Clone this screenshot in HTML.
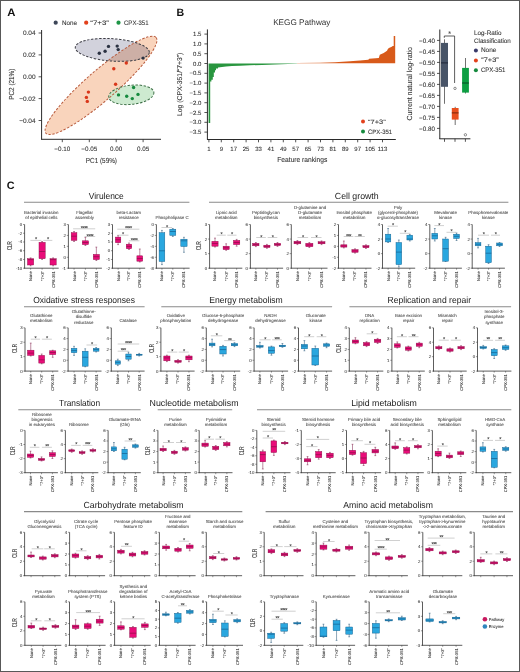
<!DOCTYPE html>
<html><head><meta charset="utf-8"><style>
html,body{margin:0;padding:0;background:#fff;}
svg{display:block;font-family:"Liberation Sans", sans-serif;will-change:transform;text-rendering:geometricPrecision;}
</style></head><body>
<svg width="520" height="672" viewBox="0 0 520 672">
<rect x="0" y="0" width="520" height="672" fill="#fff"/>
<text x="7.20" y="15.80" font-size="10.8" text-anchor="start" fill="#111" font-weight="bold" textLength="8.2" lengthAdjust="spacingAndGlyphs">A</text>
<circle cx="55.70" cy="22.70" r="2.1" fill="#3d4658"/>
<text x="62.00" y="25.00" font-size="6.5" text-anchor="start" fill="#333" stroke="#333" stroke-width="0.08" textLength="15" lengthAdjust="spacingAndGlyphs">None</text>
<circle cx="86.20" cy="22.70" r="2.1" fill="#e2411c"/>
<text x="90.30" y="25.00" font-size="6.5" text-anchor="start" fill="#333" stroke="#333" stroke-width="0.08" textLength="18.7" lengthAdjust="spacingAndGlyphs">“7+3”</text>
<circle cx="118.50" cy="22.70" r="2.1" fill="#1e9546"/>
<text x="124.00" y="25.00" font-size="6.5" text-anchor="start" fill="#333" stroke="#333" stroke-width="0.08" textLength="24.5" lengthAdjust="spacingAndGlyphs">CPX-351</text>
<ellipse cx="101" cy="85.4" rx="73" ry="14.8" transform="rotate(-41 101 85.4)" fill="#f9d4bc"/>
<ellipse cx="112.3" cy="49.9" rx="37.1" ry="11.2" transform="rotate(4 112.3 49.9)" fill="#1e1e50" fill-opacity="0.2"/>
<ellipse cx="131.3" cy="94.8" rx="22.7" ry="9.6" transform="rotate(-6 131.3 94.8)" fill="#c4e6c8" fill-opacity="0.85"/>
<ellipse cx="101" cy="85.4" rx="73" ry="14.8" transform="rotate(-41 101 85.4)" fill="none" stroke="#b85a3c" stroke-width="1.0" stroke-dasharray="2.4 1.6"/>
<ellipse cx="112.3" cy="49.9" rx="37.1" ry="11.2" transform="rotate(4 112.3 49.9)" fill="none" stroke="#3c3c44" stroke-width="1.0" stroke-dasharray="2.4 1.6"/>
<ellipse cx="131.3" cy="94.8" rx="22.7" ry="9.6" transform="rotate(-6 131.3 94.8)" fill="none" stroke="#3f7048" stroke-width="1.0" stroke-dasharray="2.4 1.6"/>
<circle cx="99.30" cy="53.30" r="1.7" fill="#2b3242"/>
<circle cx="105.10" cy="51.30" r="1.7" fill="#2b3242"/>
<circle cx="108.50" cy="46.40" r="1.7" fill="#2b3242"/>
<circle cx="117.20" cy="46.10" r="1.7" fill="#2b3242"/>
<circle cx="118.20" cy="49.60" r="1.7" fill="#2b3242"/>
<circle cx="143.10" cy="58.10" r="1.7" fill="#2b3242"/>
<circle cx="126.30" cy="63.00" r="1.7" fill="#d9361a"/>
<circle cx="113.80" cy="68.70" r="1.7" fill="#d9361a"/>
<circle cx="115.60" cy="84.30" r="1.7" fill="#d9361a"/>
<circle cx="88.40" cy="92.10" r="1.7" fill="#d9361a"/>
<circle cx="86.40" cy="97.40" r="1.7" fill="#d9361a"/>
<circle cx="87.30" cy="101.40" r="1.7" fill="#d9361a"/>
<circle cx="133.60" cy="87.50" r="1.7" fill="#168a3e"/>
<circle cx="118.50" cy="94.90" r="1.7" fill="#168a3e"/>
<circle cx="126.70" cy="96.20" r="1.7" fill="#168a3e"/>
<circle cx="132.30" cy="98.60" r="1.7" fill="#168a3e"/>
<circle cx="138.00" cy="94.40" r="1.7" fill="#168a3e"/>
<line x1="41.60" y1="30.00" x2="41.60" y2="139.50" stroke="#2a2a2a" stroke-width="1.0"/>
<line x1="41.10" y1="139.30" x2="161.00" y2="139.30" stroke="#2a2a2a" stroke-width="1.0"/>
<line x1="38.60" y1="33.00" x2="41.60" y2="33.00" stroke="#2a2a2a" stroke-width="0.8"/>
<text x="35.60" y="35.30" font-size="6.5" text-anchor="end" fill="#333" stroke="#333" stroke-width="0.08">0.04</text>
<line x1="38.60" y1="54.90" x2="41.60" y2="54.90" stroke="#2a2a2a" stroke-width="0.8"/>
<text x="35.60" y="57.20" font-size="6.5" text-anchor="end" fill="#333" stroke="#333" stroke-width="0.08">0.02</text>
<line x1="38.60" y1="76.80" x2="41.60" y2="76.80" stroke="#2a2a2a" stroke-width="0.8"/>
<text x="35.60" y="79.10" font-size="6.5" text-anchor="end" fill="#333" stroke="#333" stroke-width="0.08">0.00</text>
<line x1="38.60" y1="98.60" x2="41.60" y2="98.60" stroke="#2a2a2a" stroke-width="0.8"/>
<text x="35.60" y="100.90" font-size="6.5" text-anchor="end" fill="#333" stroke="#333" stroke-width="0.08">−0.02</text>
<line x1="38.60" y1="120.50" x2="41.60" y2="120.50" stroke="#2a2a2a" stroke-width="0.8"/>
<text x="35.60" y="122.80" font-size="6.5" text-anchor="end" fill="#333" stroke="#333" stroke-width="0.08">−0.04</text>
<line x1="62.30" y1="139.30" x2="62.30" y2="142.20" stroke="#2a2a2a" stroke-width="0.8"/>
<text x="62.30" y="151.00" font-size="6.3" text-anchor="middle" fill="#333" stroke="#333" stroke-width="0.08">−0.10</text>
<line x1="89.30" y1="139.30" x2="89.30" y2="142.20" stroke="#2a2a2a" stroke-width="0.8"/>
<text x="89.30" y="151.00" font-size="6.3" text-anchor="middle" fill="#333" stroke="#333" stroke-width="0.08">−0.05</text>
<line x1="116.20" y1="139.30" x2="116.20" y2="142.20" stroke="#2a2a2a" stroke-width="0.8"/>
<text x="116.20" y="151.00" font-size="6.3" text-anchor="middle" fill="#333" stroke="#333" stroke-width="0.08">0.00</text>
<line x1="143.10" y1="139.30" x2="143.10" y2="142.20" stroke="#2a2a2a" stroke-width="0.8"/>
<text x="143.10" y="151.00" font-size="6.3" text-anchor="middle" fill="#333" stroke="#333" stroke-width="0.08">0.05</text>
<text x="101.40" y="162.60" font-size="7.3" text-anchor="middle" fill="#333" stroke="#333" stroke-width="0.08" textLength="31.1" lengthAdjust="spacingAndGlyphs">PC1 (59%)</text>
<text x="13.60" y="84.20" font-size="7.3" text-anchor="middle" fill="#333" stroke="#333" stroke-width="0.08" transform="rotate(-90 13.6 84.2)" textLength="31.2" lengthAdjust="spacingAndGlyphs">PC2 (21%)</text>
<text x="176.60" y="15.90" font-size="10.6" text-anchor="start" fill="#111" font-weight="bold">B</text>
<text x="301.80" y="24.60" font-size="8.2" text-anchor="middle" fill="#333">KEGG Pathway</text>
<polygon points="208.4,63.5 208.6,63.6 208.6,123.0 210.2,123.0 210.2,81.5 211.4,81.5 211.4,79.8 212.8,79.8 212.8,77.0 213.8,77.0 213.8,72.5 215.0,72.5 215.0,70.2 216.0,70.2 216.0,68.5 218.0,68.5 218.0,67.6 222.0,67.0 226.0,66.5 232.0,66.1 240.0,65.7 250.0,65.3 262.0,64.9 275.0,64.5 288.0,64.1 297.0,63.8 297.0,63.5" fill="#29963f"/>
<polygon points="297.0,63.2 297.0,63.0 320.0,62.7 335.0,62.3 350.0,61.3 360.0,60.6 368.3,59.8 369.2,58.7 378.8,57.9 379.8,54.8 383.7,53.1 387.0,50.7 388.0,48.8 389.4,47.8 391.3,47.1 392.8,45.9 393.7,45.9 393.7,36.0 395.2,36.0 395.2,63.2" fill="#d85a1a"/>
<line x1="207.40" y1="29.40" x2="207.40" y2="139.80" stroke="#2a2a2a" stroke-width="1.0"/>
<line x1="207.00" y1="139.50" x2="395.80" y2="139.50" stroke="#2a2a2a" stroke-width="1.0"/>
<line x1="204.40" y1="34.10" x2="207.40" y2="34.10" stroke="#2a2a2a" stroke-width="0.8"/>
<text x="201.40" y="36.20" font-size="6.0" text-anchor="end" fill="#333" stroke="#333" stroke-width="0.08">1.5</text>
<line x1="204.40" y1="43.90" x2="207.40" y2="43.90" stroke="#2a2a2a" stroke-width="0.8"/>
<text x="201.40" y="46.00" font-size="6.0" text-anchor="end" fill="#333" stroke="#333" stroke-width="0.08">1.0</text>
<line x1="204.40" y1="53.70" x2="207.40" y2="53.70" stroke="#2a2a2a" stroke-width="0.8"/>
<text x="201.40" y="55.80" font-size="6.0" text-anchor="end" fill="#333" stroke="#333" stroke-width="0.08">0.5</text>
<line x1="204.40" y1="63.50" x2="207.40" y2="63.50" stroke="#2a2a2a" stroke-width="0.8"/>
<text x="201.40" y="65.60" font-size="6.0" text-anchor="end" fill="#333" stroke="#333" stroke-width="0.08">0.0</text>
<line x1="204.40" y1="73.30" x2="207.40" y2="73.30" stroke="#2a2a2a" stroke-width="0.8"/>
<text x="201.40" y="75.40" font-size="6.0" text-anchor="end" fill="#333" stroke="#333" stroke-width="0.08">−0.5</text>
<line x1="204.40" y1="83.10" x2="207.40" y2="83.10" stroke="#2a2a2a" stroke-width="0.8"/>
<text x="201.40" y="85.20" font-size="6.0" text-anchor="end" fill="#333" stroke="#333" stroke-width="0.08">−1.0</text>
<line x1="204.40" y1="92.90" x2="207.40" y2="92.90" stroke="#2a2a2a" stroke-width="0.8"/>
<text x="201.40" y="95.00" font-size="6.0" text-anchor="end" fill="#333" stroke="#333" stroke-width="0.08">−1.5</text>
<line x1="204.40" y1="102.70" x2="207.40" y2="102.70" stroke="#2a2a2a" stroke-width="0.8"/>
<text x="201.40" y="104.80" font-size="6.0" text-anchor="end" fill="#333" stroke="#333" stroke-width="0.08">−2.0</text>
<line x1="204.40" y1="112.50" x2="207.40" y2="112.50" stroke="#2a2a2a" stroke-width="0.8"/>
<text x="201.40" y="114.60" font-size="6.0" text-anchor="end" fill="#333" stroke="#333" stroke-width="0.08">−2.5</text>
<line x1="204.40" y1="122.30" x2="207.40" y2="122.30" stroke="#2a2a2a" stroke-width="0.8"/>
<text x="201.40" y="124.40" font-size="6.0" text-anchor="end" fill="#333" stroke="#333" stroke-width="0.08">−3.0</text>
<line x1="204.40" y1="132.10" x2="207.40" y2="132.10" stroke="#2a2a2a" stroke-width="0.8"/>
<text x="201.40" y="134.20" font-size="6.0" text-anchor="end" fill="#333" stroke="#333" stroke-width="0.08">−3.5</text>
<line x1="208.90" y1="139.50" x2="208.90" y2="142.30" stroke="#2a2a2a" stroke-width="0.8"/>
<text x="208.90" y="150.90" font-size="6.0" text-anchor="middle" fill="#333" stroke="#333" stroke-width="0.08">1</text>
<line x1="221.30" y1="139.50" x2="221.30" y2="142.30" stroke="#2a2a2a" stroke-width="0.8"/>
<text x="221.30" y="150.90" font-size="6.0" text-anchor="middle" fill="#333" stroke="#333" stroke-width="0.08">9</text>
<line x1="233.70" y1="139.50" x2="233.70" y2="142.30" stroke="#2a2a2a" stroke-width="0.8"/>
<text x="233.70" y="150.90" font-size="6.0" text-anchor="middle" fill="#333" stroke="#333" stroke-width="0.08">17</text>
<line x1="246.10" y1="139.50" x2="246.10" y2="142.30" stroke="#2a2a2a" stroke-width="0.8"/>
<text x="246.10" y="150.90" font-size="6.0" text-anchor="middle" fill="#333" stroke="#333" stroke-width="0.08">25</text>
<line x1="258.50" y1="139.50" x2="258.50" y2="142.30" stroke="#2a2a2a" stroke-width="0.8"/>
<text x="258.50" y="150.90" font-size="6.0" text-anchor="middle" fill="#333" stroke="#333" stroke-width="0.08">33</text>
<line x1="270.90" y1="139.50" x2="270.90" y2="142.30" stroke="#2a2a2a" stroke-width="0.8"/>
<text x="270.90" y="150.90" font-size="6.0" text-anchor="middle" fill="#333" stroke="#333" stroke-width="0.08">41</text>
<line x1="283.30" y1="139.50" x2="283.30" y2="142.30" stroke="#2a2a2a" stroke-width="0.8"/>
<text x="283.30" y="150.90" font-size="6.0" text-anchor="middle" fill="#333" stroke="#333" stroke-width="0.08">49</text>
<line x1="295.70" y1="139.50" x2="295.70" y2="142.30" stroke="#2a2a2a" stroke-width="0.8"/>
<text x="295.70" y="150.90" font-size="6.0" text-anchor="middle" fill="#333" stroke="#333" stroke-width="0.08">57</text>
<line x1="308.10" y1="139.50" x2="308.10" y2="142.30" stroke="#2a2a2a" stroke-width="0.8"/>
<text x="308.10" y="150.90" font-size="6.0" text-anchor="middle" fill="#333" stroke="#333" stroke-width="0.08">65</text>
<line x1="320.50" y1="139.50" x2="320.50" y2="142.30" stroke="#2a2a2a" stroke-width="0.8"/>
<text x="320.50" y="150.90" font-size="6.0" text-anchor="middle" fill="#333" stroke="#333" stroke-width="0.08">73</text>
<line x1="332.90" y1="139.50" x2="332.90" y2="142.30" stroke="#2a2a2a" stroke-width="0.8"/>
<text x="332.90" y="150.90" font-size="6.0" text-anchor="middle" fill="#333" stroke="#333" stroke-width="0.08">81</text>
<line x1="345.30" y1="139.50" x2="345.30" y2="142.30" stroke="#2a2a2a" stroke-width="0.8"/>
<text x="345.30" y="150.90" font-size="6.0" text-anchor="middle" fill="#333" stroke="#333" stroke-width="0.08">89</text>
<line x1="357.70" y1="139.50" x2="357.70" y2="142.30" stroke="#2a2a2a" stroke-width="0.8"/>
<text x="357.70" y="150.90" font-size="6.0" text-anchor="middle" fill="#333" stroke="#333" stroke-width="0.08">97</text>
<line x1="370.10" y1="139.50" x2="370.10" y2="142.30" stroke="#2a2a2a" stroke-width="0.8"/>
<text x="370.10" y="150.90" font-size="6.0" text-anchor="middle" fill="#333" stroke="#333" stroke-width="0.08">105</text>
<line x1="382.50" y1="139.50" x2="382.50" y2="142.30" stroke="#2a2a2a" stroke-width="0.8"/>
<text x="382.50" y="150.90" font-size="6.0" text-anchor="middle" fill="#333" stroke="#333" stroke-width="0.08">113</text>
<text x="302.30" y="162.00" font-size="7.2" text-anchor="middle" fill="#333" stroke="#333" stroke-width="0.08" textLength="50" lengthAdjust="spacingAndGlyphs">Feature rankings</text>
<text x="181.80" y="84.30" font-size="7.0" text-anchor="middle" fill="#333" stroke="#333" stroke-width="0.08" transform="rotate(-90 181.8 84.3)" textLength="63.3" lengthAdjust="spacingAndGlyphs">Log (CPX-351/“7+3”)</text>
<circle cx="363.00" cy="121.60" r="2.0" fill="#e2411c"/>
<text x="368.00" y="123.80" font-size="6.3" text-anchor="start" fill="#333" stroke="#333" stroke-width="0.08" textLength="17.7" lengthAdjust="spacingAndGlyphs">“7+3”</text>
<circle cx="363.00" cy="131.40" r="2.0" fill="#168a3e"/>
<text x="368.00" y="133.60" font-size="6.3" text-anchor="start" fill="#333" stroke="#333" stroke-width="0.08" textLength="24.2" lengthAdjust="spacingAndGlyphs">CPX-351</text>
<line x1="439.80" y1="29.50" x2="439.80" y2="139.00" stroke="#2a2a2a" stroke-width="1.0"/>
<line x1="439.40" y1="138.80" x2="470.40" y2="138.80" stroke="#2a2a2a" stroke-width="1.0"/>
<line x1="437.00" y1="40.40" x2="439.80" y2="40.40" stroke="#2a2a2a" stroke-width="0.8"/>
<text x="435.00" y="42.60" font-size="6.3" text-anchor="end" fill="#333" stroke="#333" stroke-width="0.08">−0.40</text>
<line x1="437.00" y1="51.40" x2="439.80" y2="51.40" stroke="#2a2a2a" stroke-width="0.8"/>
<text x="435.00" y="53.60" font-size="6.3" text-anchor="end" fill="#333" stroke="#333" stroke-width="0.08">−0.45</text>
<line x1="437.00" y1="62.40" x2="439.80" y2="62.40" stroke="#2a2a2a" stroke-width="0.8"/>
<text x="435.00" y="64.60" font-size="6.3" text-anchor="end" fill="#333" stroke="#333" stroke-width="0.08">−0.50</text>
<line x1="437.00" y1="73.40" x2="439.80" y2="73.40" stroke="#2a2a2a" stroke-width="0.8"/>
<text x="435.00" y="75.60" font-size="6.3" text-anchor="end" fill="#333" stroke="#333" stroke-width="0.08">−0.55</text>
<line x1="437.00" y1="84.40" x2="439.80" y2="84.40" stroke="#2a2a2a" stroke-width="0.8"/>
<text x="435.00" y="86.60" font-size="6.3" text-anchor="end" fill="#333" stroke="#333" stroke-width="0.08">−0.60</text>
<line x1="437.00" y1="95.40" x2="439.80" y2="95.40" stroke="#2a2a2a" stroke-width="0.8"/>
<text x="435.00" y="97.60" font-size="6.3" text-anchor="end" fill="#333" stroke="#333" stroke-width="0.08">−0.65</text>
<line x1="437.00" y1="106.40" x2="439.80" y2="106.40" stroke="#2a2a2a" stroke-width="0.8"/>
<text x="435.00" y="108.60" font-size="6.3" text-anchor="end" fill="#333" stroke="#333" stroke-width="0.08">−0.70</text>
<line x1="437.00" y1="117.40" x2="439.80" y2="117.40" stroke="#2a2a2a" stroke-width="0.8"/>
<text x="435.00" y="119.60" font-size="6.3" text-anchor="end" fill="#333" stroke="#333" stroke-width="0.08">−0.75</text>
<line x1="437.00" y1="128.40" x2="439.80" y2="128.40" stroke="#2a2a2a" stroke-width="0.8"/>
<text x="435.00" y="130.60" font-size="6.3" text-anchor="end" fill="#333" stroke="#333" stroke-width="0.08">−0.80</text>
<line x1="444.50" y1="138.80" x2="444.50" y2="141.80" stroke="#2a2a2a" stroke-width="0.8"/>
<line x1="455.00" y1="138.80" x2="455.00" y2="141.80" stroke="#2a2a2a" stroke-width="0.8"/>
<line x1="465.40" y1="138.80" x2="465.40" y2="141.80" stroke="#2a2a2a" stroke-width="0.8"/>
<text x="412.40" y="83.80" font-size="7.3" text-anchor="middle" fill="#333" stroke="#333" stroke-width="0.08" transform="rotate(-90 412.4 83.8)" textLength="73.6" lengthAdjust="spacingAndGlyphs">Current natural log-ratio</text>
<line x1="444.50" y1="39.30" x2="444.50" y2="103.80" stroke="#333" stroke-width="0.7"/>
<rect x="441.00" y="42.90" width="7.00" height="43.90" fill="#485467"/>
<line x1="441.00" y1="62.90" x2="448.00" y2="62.90" stroke="#1b2030" stroke-width="0.9"/>
<line x1="455.20" y1="106.80" x2="455.20" y2="125.00" stroke="#333" stroke-width="0.7"/>
<rect x="451.80" y="108.00" width="6.80" height="11.60" fill="#e8501e"/>
<line x1="451.80" y1="112.90" x2="458.60" y2="112.90" stroke="#6a2008" stroke-width="0.9"/>
<line x1="465.50" y1="58.00" x2="465.50" y2="93.50" stroke="#333" stroke-width="0.7"/>
<rect x="462.10" y="67.90" width="6.80" height="24.70" fill="#0d9e42"/>
<line x1="462.10" y1="83.00" x2="468.90" y2="83.00" stroke="#084020" stroke-width="0.9"/>
<circle cx="455" cy="88.4" r="1.2" fill="none" stroke="#444" stroke-width="0.6"/>
<circle cx="465.4" cy="134.8" r="1.2" fill="none" stroke="#444" stroke-width="0.6"/>
<polyline points="444.3,37.8 444.3,36.0 454.6,36.0 454.6,83" fill="none" stroke="#333" stroke-width="0.8"/>
<text x="449.50" y="35.50" font-size="7" text-anchor="middle" fill="#333" stroke="#333" stroke-width="0.08">*</text>
<text x="474.00" y="35.00" font-size="6.4" text-anchor="start" fill="#333" stroke="#333" stroke-width="0.08" textLength="27.5" lengthAdjust="spacingAndGlyphs">Log-Ratio</text>
<text x="474.00" y="42.50" font-size="6.4" text-anchor="start" fill="#333" stroke="#333" stroke-width="0.08" textLength="36.7" lengthAdjust="spacingAndGlyphs">Classification</text>
<circle cx="475.90" cy="50.40" r="2.0" fill="#3a3a6a"/>
<text x="480.90" y="52.30" font-size="6.4" text-anchor="start" fill="#333" stroke="#333" stroke-width="0.08" textLength="15.5" lengthAdjust="spacingAndGlyphs">None</text>
<circle cx="475.90" cy="60.40" r="2.0" fill="#e2411c"/>
<text x="481.30" y="62.30" font-size="6.4" text-anchor="start" fill="#333" stroke="#333" stroke-width="0.08" textLength="17.4" lengthAdjust="spacingAndGlyphs">“7+3”</text>
<circle cx="475.90" cy="70.30" r="2.0" fill="#168a3e"/>
<text x="480.90" y="72.00" font-size="6.4" text-anchor="start" fill="#333" stroke="#333" stroke-width="0.08" textLength="24.6" lengthAdjust="spacingAndGlyphs">CPX-351</text>
<text x="6.80" y="189.40" font-size="10.8" text-anchor="start" fill="#111" font-weight="bold">C</text>
<text x="106.25" y="198.80" font-size="8.9" text-anchor="middle" fill="#222" textLength="35.0" lengthAdjust="spacingAndGlyphs">Virulence</text>
<line x1="24.00" y1="202.30" x2="189.40" y2="202.30" stroke="#8a8a8a" stroke-width="1.1"/>
<text x="356.75" y="199.20" font-size="8.9" text-anchor="middle" fill="#222" textLength="43.9" lengthAdjust="spacingAndGlyphs">Cell growth</text>
<line x1="209.00" y1="202.30" x2="508.40" y2="202.30" stroke="#8a8a8a" stroke-width="1.1"/>
<text x="84.10" y="302.90" font-size="8.9" text-anchor="middle" fill="#222" textLength="101.8" lengthAdjust="spacingAndGlyphs">Oxidative stress responses</text>
<line x1="24.00" y1="306.70" x2="144.60" y2="306.70" stroke="#8a8a8a" stroke-width="1.1"/>
<text x="246.00" y="302.90" font-size="8.9" text-anchor="middle" fill="#222" textLength="73.6" lengthAdjust="spacingAndGlyphs">Energy metabolism</text>
<line x1="161.30" y1="306.70" x2="332.10" y2="306.70" stroke="#8a8a8a" stroke-width="1.1"/>
<text x="429.25" y="302.90" font-size="8.9" text-anchor="middle" fill="#222" textLength="83.5" lengthAdjust="spacingAndGlyphs">Replication and repair</text>
<line x1="349.40" y1="306.70" x2="511.10" y2="306.70" stroke="#8a8a8a" stroke-width="1.1"/>
<text x="79.60" y="406.00" font-size="8.9" text-anchor="middle" fill="#222" textLength="41.0" lengthAdjust="spacingAndGlyphs">Translation</text>
<line x1="18.30" y1="409.70" x2="140.60" y2="409.70" stroke="#8a8a8a" stroke-width="1.1"/>
<text x="194.05" y="406.00" font-size="8.9" text-anchor="middle" fill="#222" textLength="88.9" lengthAdjust="spacingAndGlyphs">Nucleotide metabolism</text>
<line x1="157.70" y1="409.70" x2="232.20" y2="409.70" stroke="#8a8a8a" stroke-width="1.1"/>
<text x="384.05" y="406.00" font-size="8.9" text-anchor="middle" fill="#222" textLength="65.7" lengthAdjust="spacingAndGlyphs">Lipid metabolism</text>
<line x1="257.00" y1="409.70" x2="511.30" y2="409.70" stroke="#8a8a8a" stroke-width="1.1"/>
<text x="133.55" y="507.60" font-size="8.9" text-anchor="middle" fill="#222" textLength="100.1" lengthAdjust="spacingAndGlyphs">Carbohydrate metabolism</text>
<line x1="24.00" y1="511.60" x2="242.30" y2="511.60" stroke="#8a8a8a" stroke-width="1.1"/>
<text x="388.10" y="507.60" font-size="8.9" text-anchor="middle" fill="#222" textLength="89.6" lengthAdjust="spacingAndGlyphs">Amino acid metabolism</text>
<line x1="265.60" y1="511.60" x2="513.00" y2="511.60" stroke="#8a8a8a" stroke-width="1.1"/>
<text x="12.40" y="245.65" font-size="7.2" text-anchor="middle" fill="#3a3a3a" stroke="#3a3a3a" stroke-width="0.08" transform="rotate(-90 12.4 245.65)" textLength="8.9" lengthAdjust="spacingAndGlyphs">CLR</text>
<text x="200.90" y="245.60" font-size="7.2" text-anchor="middle" fill="#3a3a3a" stroke="#3a3a3a" stroke-width="0.08" transform="rotate(-90 200.9 245.6)" textLength="8.9" lengthAdjust="spacingAndGlyphs">CLR</text>
<text x="17.00" y="348.50" font-size="7.2" text-anchor="middle" fill="#3a3a3a" stroke="#3a3a3a" stroke-width="0.08" transform="rotate(-90 17.0 348.5)" textLength="8.9" lengthAdjust="spacingAndGlyphs">CLR</text>
<text x="153.60" y="348.40" font-size="7.2" text-anchor="middle" fill="#3a3a3a" stroke="#3a3a3a" stroke-width="0.08" transform="rotate(-90 153.60000000000002 348.4)" textLength="8.9" lengthAdjust="spacingAndGlyphs">CLR</text>
<text x="340.80" y="348.30" font-size="7.2" text-anchor="middle" fill="#3a3a3a" stroke="#3a3a3a" stroke-width="0.08" transform="rotate(-90 340.8 348.3)" textLength="8.9" lengthAdjust="spacingAndGlyphs">CLR</text>
<text x="15.00" y="450.90" font-size="7.2" text-anchor="middle" fill="#3a3a3a" stroke="#3a3a3a" stroke-width="0.08" transform="rotate(-90 15.0 450.9)" textLength="8.9" lengthAdjust="spacingAndGlyphs">CLR</text>
<text x="150.10" y="450.90" font-size="7.2" text-anchor="middle" fill="#3a3a3a" stroke="#3a3a3a" stroke-width="0.08" transform="rotate(-90 150.10000000000002 450.9)" textLength="8.9" lengthAdjust="spacingAndGlyphs">CLR</text>
<text x="244.10" y="450.90" font-size="7.2" text-anchor="middle" fill="#3a3a3a" stroke="#3a3a3a" stroke-width="0.08" transform="rotate(-90 244.10000000000002 450.9)" textLength="8.9" lengthAdjust="spacingAndGlyphs">CLR</text>
<text x="17.00" y="553.30" font-size="7.2" text-anchor="middle" fill="#3a3a3a" stroke="#3a3a3a" stroke-width="0.08" transform="rotate(-90 17.0 553.3)" textLength="8.9" lengthAdjust="spacingAndGlyphs">CLR</text>
<text x="256.70" y="553.20" font-size="7.2" text-anchor="middle" fill="#3a3a3a" stroke="#3a3a3a" stroke-width="0.08" transform="rotate(-90 256.7 553.2)" textLength="8.9" lengthAdjust="spacingAndGlyphs">CLR</text>
<text x="17.00" y="622.80" font-size="7.2" text-anchor="middle" fill="#3a3a3a" stroke="#3a3a3a" stroke-width="0.08" transform="rotate(-90 17.0 622.8)" textLength="8.9" lengthAdjust="spacingAndGlyphs">CLR</text>
<text x="255.30" y="622.90" font-size="7.2" text-anchor="middle" fill="#3a3a3a" stroke="#3a3a3a" stroke-width="0.08" transform="rotate(-90 255.3 622.9)" textLength="8.9" lengthAdjust="spacingAndGlyphs">CLR</text>
<line x1="24.60" y1="224.50" x2="24.60" y2="268.60" stroke="#333" stroke-width="0.8"/>
<line x1="24.20" y1="268.20" x2="58.70" y2="268.20" stroke="#333" stroke-width="0.8"/>
<line x1="23.00" y1="224.50" x2="24.60" y2="224.50" stroke="#333" stroke-width="0.5"/>
<text x="22.20" y="226.00" font-size="4.3" text-anchor="end" fill="#444" stroke="#444" stroke-width="0.08">0</text>
<line x1="23.00" y1="233.24" x2="24.60" y2="233.24" stroke="#333" stroke-width="0.5"/>
<text x="22.20" y="234.74" font-size="4.3" text-anchor="end" fill="#444" stroke="#444" stroke-width="0.08">-2</text>
<line x1="23.00" y1="241.98" x2="24.60" y2="241.98" stroke="#333" stroke-width="0.5"/>
<text x="22.20" y="243.48" font-size="4.3" text-anchor="end" fill="#444" stroke="#444" stroke-width="0.08">-4</text>
<line x1="23.00" y1="250.72" x2="24.60" y2="250.72" stroke="#333" stroke-width="0.5"/>
<text x="22.20" y="252.22" font-size="4.3" text-anchor="end" fill="#444" stroke="#444" stroke-width="0.08">-6</text>
<line x1="23.00" y1="259.46" x2="24.60" y2="259.46" stroke="#333" stroke-width="0.5"/>
<text x="22.20" y="260.96" font-size="4.3" text-anchor="end" fill="#444" stroke="#444" stroke-width="0.08">-8</text>
<line x1="23.00" y1="268.20" x2="24.60" y2="268.20" stroke="#333" stroke-width="0.5"/>
<text x="22.20" y="269.70" font-size="4.3" text-anchor="end" fill="#444" stroke="#444" stroke-width="0.08">-10</text>
<line x1="30.60" y1="257.90" x2="30.60" y2="265.80" stroke="#7a1443" stroke-width="0.5"/>
<line x1="29.70" y1="257.90" x2="31.50" y2="257.90" stroke="#7a1443" stroke-width="0.5"/>
<line x1="29.70" y1="265.80" x2="31.50" y2="265.80" stroke="#7a1443" stroke-width="0.5"/>
<rect x="27.50" y="258.70" width="6.20" height="6.30" fill="#e90c79" stroke="#8c0f47" stroke-width="0.45"/>
<line x1="27.50" y1="259.60" x2="33.70" y2="259.60" stroke="#8c0f47" stroke-width="0.7"/>
<line x1="30.60" y1="268.20" x2="30.60" y2="269.70" stroke="#333" stroke-width="0.5"/>
<line x1="42.10" y1="241.50" x2="42.10" y2="259.50" stroke="#7a1443" stroke-width="0.5"/>
<line x1="41.20" y1="241.50" x2="43.00" y2="241.50" stroke="#7a1443" stroke-width="0.5"/>
<line x1="41.20" y1="259.50" x2="43.00" y2="259.50" stroke="#7a1443" stroke-width="0.5"/>
<rect x="39.00" y="242.30" width="6.20" height="16.40" fill="#e90c79" stroke="#8c0f47" stroke-width="0.45"/>
<line x1="39.00" y1="251.50" x2="45.20" y2="251.50" stroke="#8c0f47" stroke-width="0.7"/>
<line x1="42.10" y1="268.20" x2="42.10" y2="269.70" stroke="#333" stroke-width="0.5"/>
<line x1="53.10" y1="257.90" x2="53.10" y2="265.80" stroke="#7a1443" stroke-width="0.5"/>
<line x1="52.20" y1="257.90" x2="54.00" y2="257.90" stroke="#7a1443" stroke-width="0.5"/>
<line x1="52.20" y1="265.80" x2="54.00" y2="265.80" stroke="#7a1443" stroke-width="0.5"/>
<rect x="50.00" y="258.70" width="6.20" height="6.30" fill="#e90c79" stroke="#8c0f47" stroke-width="0.45"/>
<line x1="50.00" y1="259.60" x2="56.20" y2="259.60" stroke="#8c0f47" stroke-width="0.7"/>
<line x1="53.10" y1="268.20" x2="53.10" y2="269.70" stroke="#333" stroke-width="0.5"/>
<line x1="30.40" y1="240.40" x2="41.30" y2="240.40" stroke="#b0b0b0" stroke-width="0.6"/>
<text x="35.85" y="241.40" font-size="5.6" text-anchor="middle" fill="#333" stroke="#333" stroke-width="0.08" letter-spacing="-0.5">*</text>
<line x1="43.30" y1="240.40" x2="52.30" y2="240.40" stroke="#b0b0b0" stroke-width="0.6"/>
<text x="47.80" y="241.40" font-size="5.6" text-anchor="middle" fill="#333" stroke="#333" stroke-width="0.08" letter-spacing="-0.5">*</text>
<text x="41.30" y="213.75" font-size="4.4" text-anchor="middle" fill="#505050" stroke="#505050" stroke-width="0.08">Bacterial invasion</text>
<text x="41.30" y="218.90" font-size="4.4" text-anchor="middle" fill="#505050" stroke="#505050" stroke-width="0.08">of epithelial cells</text>
<text x="32.10" y="271.20" font-size="4.1" text-anchor="end" fill="#333" stroke="#333" stroke-width="0.08" transform="rotate(-90 32.1 271.2)">None</text>
<text x="43.60" y="271.20" font-size="4.1" text-anchor="end" fill="#333" stroke="#333" stroke-width="0.08" transform="rotate(-90 43.6 271.2)">“7+3”</text>
<text x="54.60" y="271.20" font-size="4.1" text-anchor="end" fill="#333" stroke="#333" stroke-width="0.08" transform="rotate(-90 54.6 271.2)">CPX-351</text>
<line x1="68.40" y1="224.50" x2="68.40" y2="268.60" stroke="#333" stroke-width="0.8"/>
<line x1="68.00" y1="268.20" x2="101.90" y2="268.20" stroke="#333" stroke-width="0.8"/>
<line x1="66.80" y1="224.50" x2="68.40" y2="224.50" stroke="#333" stroke-width="0.5"/>
<text x="66.00" y="226.00" font-size="4.3" text-anchor="end" fill="#444" stroke="#444" stroke-width="0.08">3</text>
<line x1="66.80" y1="235.43" x2="68.40" y2="235.43" stroke="#333" stroke-width="0.5"/>
<text x="66.00" y="236.93" font-size="4.3" text-anchor="end" fill="#444" stroke="#444" stroke-width="0.08">2</text>
<line x1="66.80" y1="246.35" x2="68.40" y2="246.35" stroke="#333" stroke-width="0.5"/>
<text x="66.00" y="247.85" font-size="4.3" text-anchor="end" fill="#444" stroke="#444" stroke-width="0.08">1</text>
<line x1="66.80" y1="257.27" x2="68.40" y2="257.27" stroke="#333" stroke-width="0.5"/>
<text x="66.00" y="258.77" font-size="4.3" text-anchor="end" fill="#444" stroke="#444" stroke-width="0.08">0</text>
<line x1="66.80" y1="268.20" x2="68.40" y2="268.20" stroke="#333" stroke-width="0.5"/>
<text x="66.00" y="269.70" font-size="4.3" text-anchor="end" fill="#444" stroke="#444" stroke-width="0.08">-1</text>
<line x1="74.05" y1="231.50" x2="74.05" y2="241.50" stroke="#7a1443" stroke-width="0.5"/>
<line x1="73.15" y1="231.50" x2="74.95" y2="231.50" stroke="#7a1443" stroke-width="0.5"/>
<line x1="73.15" y1="241.50" x2="74.95" y2="241.50" stroke="#7a1443" stroke-width="0.5"/>
<rect x="71.20" y="232.70" width="5.70" height="7.70" fill="#e90c79" stroke="#8c0f47" stroke-width="0.45"/>
<line x1="71.20" y1="236.20" x2="76.90" y2="236.20" stroke="#8c0f47" stroke-width="0.7"/>
<line x1="74.05" y1="268.20" x2="74.05" y2="269.70" stroke="#333" stroke-width="0.5"/>
<line x1="85.40" y1="237.50" x2="85.40" y2="245.50" stroke="#7a1443" stroke-width="0.5"/>
<line x1="84.50" y1="237.50" x2="86.30" y2="237.50" stroke="#7a1443" stroke-width="0.5"/>
<line x1="84.50" y1="245.50" x2="86.30" y2="245.50" stroke="#7a1443" stroke-width="0.5"/>
<rect x="82.30" y="240.80" width="6.20" height="3.80" fill="#e90c79" stroke="#8c0f47" stroke-width="0.45"/>
<line x1="82.30" y1="242.50" x2="88.50" y2="242.50" stroke="#8c0f47" stroke-width="0.7"/>
<line x1="85.40" y1="268.20" x2="85.40" y2="269.70" stroke="#333" stroke-width="0.5"/>
<line x1="96.35" y1="247.10" x2="96.35" y2="260.50" stroke="#7a1443" stroke-width="0.5"/>
<line x1="95.45" y1="247.10" x2="97.25" y2="247.10" stroke="#7a1443" stroke-width="0.5"/>
<line x1="95.45" y1="260.50" x2="97.25" y2="260.50" stroke="#7a1443" stroke-width="0.5"/>
<rect x="93.30" y="254.40" width="6.10" height="5.20" fill="#e90c79" stroke="#8c0f47" stroke-width="0.45"/>
<line x1="93.30" y1="256.70" x2="99.40" y2="256.70" stroke="#8c0f47" stroke-width="0.7"/>
<line x1="96.35" y1="268.20" x2="96.35" y2="269.70" stroke="#333" stroke-width="0.5"/>
<line x1="73.10" y1="228.80" x2="95.20" y2="228.80" stroke="#b0b0b0" stroke-width="0.6"/>
<text x="84.15" y="229.80" font-size="5.6" text-anchor="middle" fill="#333" stroke="#333" stroke-width="0.08" letter-spacing="-0.5">****</text>
<line x1="84.60" y1="236.50" x2="95.20" y2="236.50" stroke="#b0b0b0" stroke-width="0.6"/>
<text x="89.90" y="237.50" font-size="5.6" text-anchor="middle" fill="#333" stroke="#333" stroke-width="0.08" letter-spacing="-0.5">****</text>
<text x="84.60" y="213.75" font-size="4.4" text-anchor="middle" fill="#505050" stroke="#505050" stroke-width="0.08">Flagellar</text>
<text x="84.60" y="218.90" font-size="4.4" text-anchor="middle" fill="#505050" stroke="#505050" stroke-width="0.08">assembly</text>
<text x="75.55" y="271.20" font-size="4.1" text-anchor="end" fill="#333" stroke="#333" stroke-width="0.08" transform="rotate(-90 75.55000000000001 271.2)">None</text>
<text x="86.90" y="271.20" font-size="4.1" text-anchor="end" fill="#333" stroke="#333" stroke-width="0.08" transform="rotate(-90 86.9 271.2)">“7+3”</text>
<text x="97.85" y="271.20" font-size="4.1" text-anchor="end" fill="#333" stroke="#333" stroke-width="0.08" transform="rotate(-90 97.85 271.2)">CPX-351</text>
<line x1="112.50" y1="224.50" x2="112.50" y2="268.60" stroke="#333" stroke-width="0.8"/>
<line x1="112.10" y1="268.20" x2="145.20" y2="268.20" stroke="#333" stroke-width="0.8"/>
<line x1="110.90" y1="224.50" x2="112.50" y2="224.50" stroke="#333" stroke-width="0.5"/>
<text x="110.10" y="226.00" font-size="4.3" text-anchor="end" fill="#444" stroke="#444" stroke-width="0.08">3</text>
<line x1="110.90" y1="233.24" x2="112.50" y2="233.24" stroke="#333" stroke-width="0.5"/>
<text x="110.10" y="234.74" font-size="4.3" text-anchor="end" fill="#444" stroke="#444" stroke-width="0.08">2</text>
<line x1="110.90" y1="241.98" x2="112.50" y2="241.98" stroke="#333" stroke-width="0.5"/>
<text x="110.10" y="243.48" font-size="4.3" text-anchor="end" fill="#444" stroke="#444" stroke-width="0.08">1</text>
<line x1="110.90" y1="250.72" x2="112.50" y2="250.72" stroke="#333" stroke-width="0.5"/>
<text x="110.10" y="252.22" font-size="4.3" text-anchor="end" fill="#444" stroke="#444" stroke-width="0.08">0</text>
<line x1="110.90" y1="259.46" x2="112.50" y2="259.46" stroke="#333" stroke-width="0.5"/>
<text x="110.10" y="260.96" font-size="4.3" text-anchor="end" fill="#444" stroke="#444" stroke-width="0.08">-1</text>
<line x1="110.90" y1="268.20" x2="112.50" y2="268.20" stroke="#333" stroke-width="0.5"/>
<text x="110.10" y="269.70" font-size="4.3" text-anchor="end" fill="#444" stroke="#444" stroke-width="0.08">-2</text>
<line x1="118.10" y1="235.60" x2="118.10" y2="244.60" stroke="#7a1443" stroke-width="0.5"/>
<line x1="117.20" y1="235.60" x2="119.00" y2="235.60" stroke="#7a1443" stroke-width="0.5"/>
<line x1="117.20" y1="244.60" x2="119.00" y2="244.60" stroke="#7a1443" stroke-width="0.5"/>
<rect x="115.40" y="237.10" width="5.40" height="5.60" fill="#e90c79" stroke="#8c0f47" stroke-width="0.45"/>
<line x1="115.40" y1="239.70" x2="120.80" y2="239.70" stroke="#8c0f47" stroke-width="0.7"/>
<line x1="118.10" y1="268.20" x2="118.10" y2="269.70" stroke="#333" stroke-width="0.5"/>
<line x1="129.00" y1="243.00" x2="129.00" y2="249.50" stroke="#7a1443" stroke-width="0.5"/>
<line x1="128.10" y1="243.00" x2="129.90" y2="243.00" stroke="#7a1443" stroke-width="0.5"/>
<line x1="128.10" y1="249.50" x2="129.90" y2="249.50" stroke="#7a1443" stroke-width="0.5"/>
<rect x="126.30" y="244.20" width="5.40" height="4.50" fill="#e90c79" stroke="#8c0f47" stroke-width="0.45"/>
<line x1="126.30" y1="246.40" x2="131.70" y2="246.40" stroke="#8c0f47" stroke-width="0.7"/>
<line x1="129.00" y1="268.20" x2="129.00" y2="269.70" stroke="#333" stroke-width="0.5"/>
<line x1="139.80" y1="249.00" x2="139.80" y2="262.00" stroke="#7a1443" stroke-width="0.5"/>
<line x1="138.90" y1="249.00" x2="140.70" y2="249.00" stroke="#7a1443" stroke-width="0.5"/>
<line x1="138.90" y1="262.00" x2="140.70" y2="262.00" stroke="#7a1443" stroke-width="0.5"/>
<rect x="136.90" y="255.80" width="5.80" height="5.40" fill="#e90c79" stroke="#8c0f47" stroke-width="0.45"/>
<line x1="136.90" y1="258.50" x2="142.70" y2="258.50" stroke="#8c0f47" stroke-width="0.7"/>
<line x1="139.80" y1="268.20" x2="139.80" y2="269.70" stroke="#333" stroke-width="0.5"/>
<line x1="117.30" y1="229.20" x2="139.40" y2="229.20" stroke="#b0b0b0" stroke-width="0.6"/>
<text x="128.35" y="230.20" font-size="5.6" text-anchor="middle" fill="#333" stroke="#333" stroke-width="0.08" letter-spacing="-0.5">****</text>
<line x1="117.30" y1="235.20" x2="128.50" y2="235.20" stroke="#b0b0b0" stroke-width="0.6"/>
<text x="122.90" y="236.20" font-size="5.6" text-anchor="middle" fill="#333" stroke="#333" stroke-width="0.08" letter-spacing="-0.5">*</text>
<line x1="128.80" y1="240.80" x2="139.40" y2="240.80" stroke="#b0b0b0" stroke-width="0.6"/>
<text x="134.10" y="241.80" font-size="5.6" text-anchor="middle" fill="#333" stroke="#333" stroke-width="0.08" letter-spacing="-0.5">****</text>
<text x="128.80" y="213.75" font-size="4.4" text-anchor="middle" fill="#505050" stroke="#505050" stroke-width="0.08">beta-Lactam</text>
<text x="128.80" y="218.90" font-size="4.4" text-anchor="middle" fill="#505050" stroke="#505050" stroke-width="0.08">resistance</text>
<text x="119.60" y="271.20" font-size="4.1" text-anchor="end" fill="#333" stroke="#333" stroke-width="0.08" transform="rotate(-90 119.6 271.2)">None</text>
<text x="130.50" y="271.20" font-size="4.1" text-anchor="end" fill="#333" stroke="#333" stroke-width="0.08" transform="rotate(-90 130.5 271.2)">“7+3”</text>
<text x="141.30" y="271.20" font-size="4.1" text-anchor="end" fill="#333" stroke="#333" stroke-width="0.08" transform="rotate(-90 141.3 271.2)">CPX-351</text>
<line x1="156.40" y1="224.50" x2="156.40" y2="268.60" stroke="#333" stroke-width="0.8"/>
<line x1="156.00" y1="268.20" x2="189.60" y2="268.20" stroke="#333" stroke-width="0.8"/>
<line x1="154.80" y1="224.50" x2="156.40" y2="224.50" stroke="#333" stroke-width="0.5"/>
<text x="154.00" y="226.00" font-size="4.3" text-anchor="end" fill="#444" stroke="#444" stroke-width="0.08">0</text>
<line x1="154.80" y1="235.43" x2="156.40" y2="235.43" stroke="#333" stroke-width="0.5"/>
<text x="154.00" y="236.93" font-size="4.3" text-anchor="end" fill="#444" stroke="#444" stroke-width="0.08">-2</text>
<line x1="154.80" y1="246.35" x2="156.40" y2="246.35" stroke="#333" stroke-width="0.5"/>
<text x="154.00" y="247.85" font-size="4.3" text-anchor="end" fill="#444" stroke="#444" stroke-width="0.08">-4</text>
<line x1="154.80" y1="257.27" x2="156.40" y2="257.27" stroke="#333" stroke-width="0.5"/>
<text x="154.00" y="258.77" font-size="4.3" text-anchor="end" fill="#444" stroke="#444" stroke-width="0.08">-6</text>
<line x1="154.80" y1="268.20" x2="156.40" y2="268.20" stroke="#333" stroke-width="0.5"/>
<text x="154.00" y="269.70" font-size="4.3" text-anchor="end" fill="#444" stroke="#444" stroke-width="0.08">-8</text>
<line x1="161.95" y1="230.40" x2="161.95" y2="264.60" stroke="#1d4f73" stroke-width="0.5"/>
<line x1="161.05" y1="230.40" x2="162.85" y2="230.40" stroke="#1d4f73" stroke-width="0.5"/>
<line x1="161.05" y1="264.60" x2="162.85" y2="264.60" stroke="#1d4f73" stroke-width="0.5"/>
<rect x="159.10" y="232.70" width="5.70" height="28.80" fill="#2aa7df" stroke="#15608f" stroke-width="0.45"/>
<line x1="159.10" y1="250.80" x2="164.80" y2="250.80" stroke="#15608f" stroke-width="0.7"/>
<line x1="161.95" y1="268.20" x2="161.95" y2="269.70" stroke="#333" stroke-width="0.5"/>
<line x1="172.80" y1="228.50" x2="172.80" y2="236.50" stroke="#1d4f73" stroke-width="0.5"/>
<line x1="171.90" y1="228.50" x2="173.70" y2="228.50" stroke="#1d4f73" stroke-width="0.5"/>
<line x1="171.90" y1="236.50" x2="173.70" y2="236.50" stroke="#1d4f73" stroke-width="0.5"/>
<rect x="169.80" y="229.20" width="6.00" height="6.20" fill="#2aa7df" stroke="#15608f" stroke-width="0.45"/>
<line x1="169.80" y1="231.50" x2="175.80" y2="231.50" stroke="#15608f" stroke-width="0.7"/>
<line x1="172.80" y1="268.20" x2="172.80" y2="269.70" stroke="#333" stroke-width="0.5"/>
<line x1="183.95" y1="237.30" x2="183.95" y2="252.30" stroke="#1d4f73" stroke-width="0.5"/>
<line x1="183.05" y1="237.30" x2="184.85" y2="237.30" stroke="#1d4f73" stroke-width="0.5"/>
<line x1="183.05" y1="252.30" x2="184.85" y2="252.30" stroke="#1d4f73" stroke-width="0.5"/>
<rect x="180.80" y="239.20" width="6.30" height="7.30" fill="#2aa7df" stroke="#15608f" stroke-width="0.45"/>
<line x1="180.80" y1="240.80" x2="187.10" y2="240.80" stroke="#15608f" stroke-width="0.7"/>
<line x1="183.95" y1="268.20" x2="183.95" y2="269.70" stroke="#333" stroke-width="0.5"/>
<line x1="161.50" y1="227.50" x2="172.10" y2="227.50" stroke="#b0b0b0" stroke-width="0.6"/>
<text x="166.80" y="228.50" font-size="5.6" text-anchor="middle" fill="#333" stroke="#333" stroke-width="0.08" letter-spacing="-0.5">*</text>
<text x="172.10" y="218.90" font-size="4.4" text-anchor="middle" fill="#505050" stroke="#505050" stroke-width="0.08">Phospholipase C</text>
<text x="163.45" y="271.20" font-size="4.1" text-anchor="end" fill="#333" stroke="#333" stroke-width="0.08" transform="rotate(-90 163.45 271.2)">None</text>
<text x="174.30" y="271.20" font-size="4.1" text-anchor="end" fill="#333" stroke="#333" stroke-width="0.08" transform="rotate(-90 174.3 271.2)">“7+3”</text>
<text x="185.45" y="271.20" font-size="4.1" text-anchor="end" fill="#333" stroke="#333" stroke-width="0.08" transform="rotate(-90 185.45 271.2)">CPX-351</text>
<line x1="209.60" y1="224.50" x2="209.60" y2="268.60" stroke="#333" stroke-width="0.8"/>
<line x1="209.20" y1="268.20" x2="242.30" y2="268.20" stroke="#333" stroke-width="0.8"/>
<line x1="208.00" y1="224.50" x2="209.60" y2="224.50" stroke="#333" stroke-width="0.5"/>
<text x="207.20" y="226.00" font-size="4.3" text-anchor="end" fill="#444" stroke="#444" stroke-width="0.08">3</text>
<line x1="208.00" y1="239.07" x2="209.60" y2="239.07" stroke="#333" stroke-width="0.5"/>
<text x="207.20" y="240.57" font-size="4.3" text-anchor="end" fill="#444" stroke="#444" stroke-width="0.08">2</text>
<line x1="208.00" y1="253.63" x2="209.60" y2="253.63" stroke="#333" stroke-width="0.5"/>
<text x="207.20" y="255.13" font-size="4.3" text-anchor="end" fill="#444" stroke="#444" stroke-width="0.08">1</text>
<line x1="208.00" y1="268.20" x2="209.60" y2="268.20" stroke="#333" stroke-width="0.5"/>
<text x="207.20" y="269.70" font-size="4.3" text-anchor="end" fill="#444" stroke="#444" stroke-width="0.08">0</text>
<line x1="215.00" y1="238.10" x2="215.00" y2="247.00" stroke="#7a1443" stroke-width="0.5"/>
<line x1="214.10" y1="238.10" x2="215.90" y2="238.10" stroke="#7a1443" stroke-width="0.5"/>
<line x1="214.10" y1="247.00" x2="215.90" y2="247.00" stroke="#7a1443" stroke-width="0.5"/>
<rect x="211.90" y="241.30" width="6.20" height="4.90" fill="#e90c79" stroke="#8c0f47" stroke-width="0.45"/>
<line x1="211.90" y1="243.50" x2="218.10" y2="243.50" stroke="#8c0f47" stroke-width="0.7"/>
<line x1="215.00" y1="268.20" x2="215.00" y2="269.70" stroke="#333" stroke-width="0.5"/>
<line x1="226.15" y1="243.80" x2="226.15" y2="250.30" stroke="#7a1443" stroke-width="0.5"/>
<line x1="225.25" y1="243.80" x2="227.05" y2="243.80" stroke="#7a1443" stroke-width="0.5"/>
<line x1="225.25" y1="250.30" x2="227.05" y2="250.30" stroke="#7a1443" stroke-width="0.5"/>
<rect x="223.10" y="246.20" width="6.10" height="3.40" fill="#e90c79" stroke="#8c0f47" stroke-width="0.45"/>
<line x1="223.10" y1="247.80" x2="229.20" y2="247.80" stroke="#8c0f47" stroke-width="0.7"/>
<line x1="226.15" y1="268.20" x2="226.15" y2="269.70" stroke="#333" stroke-width="0.5"/>
<line x1="236.65" y1="239.40" x2="236.65" y2="246.20" stroke="#7a1443" stroke-width="0.5"/>
<line x1="235.75" y1="239.40" x2="237.55" y2="239.40" stroke="#7a1443" stroke-width="0.5"/>
<line x1="235.75" y1="246.20" x2="237.55" y2="246.20" stroke="#7a1443" stroke-width="0.5"/>
<rect x="233.50" y="240.40" width="6.30" height="4.20" fill="#e90c79" stroke="#8c0f47" stroke-width="0.45"/>
<line x1="233.50" y1="242.50" x2="239.80" y2="242.50" stroke="#8c0f47" stroke-width="0.7"/>
<line x1="236.65" y1="268.20" x2="236.65" y2="269.70" stroke="#333" stroke-width="0.5"/>
<line x1="216.70" y1="235.20" x2="225.80" y2="235.20" stroke="#b0b0b0" stroke-width="0.6"/>
<text x="221.25" y="236.20" font-size="5.6" text-anchor="middle" fill="#333" stroke="#333" stroke-width="0.08" letter-spacing="-0.5">*</text>
<line x1="227.30" y1="235.20" x2="236.50" y2="235.20" stroke="#b0b0b0" stroke-width="0.6"/>
<text x="231.90" y="236.20" font-size="5.6" text-anchor="middle" fill="#333" stroke="#333" stroke-width="0.08" letter-spacing="-0.5">*</text>
<text x="226.30" y="213.75" font-size="4.4" text-anchor="middle" fill="#505050" stroke="#505050" stroke-width="0.08">Lipoic acid</text>
<text x="226.30" y="218.90" font-size="4.4" text-anchor="middle" fill="#505050" stroke="#505050" stroke-width="0.08">metabolism</text>
<text x="216.50" y="271.20" font-size="4.1" text-anchor="end" fill="#333" stroke="#333" stroke-width="0.08" transform="rotate(-90 216.5 271.2)">None</text>
<text x="227.65" y="271.20" font-size="4.1" text-anchor="end" fill="#333" stroke="#333" stroke-width="0.08" transform="rotate(-90 227.64999999999998 271.2)">“7+3”</text>
<text x="238.15" y="271.20" font-size="4.1" text-anchor="end" fill="#333" stroke="#333" stroke-width="0.08" transform="rotate(-90 238.15 271.2)">CPX-351</text>
<line x1="250.40" y1="224.50" x2="250.40" y2="268.60" stroke="#333" stroke-width="0.8"/>
<line x1="250.00" y1="268.20" x2="283.10" y2="268.20" stroke="#333" stroke-width="0.8"/>
<line x1="248.80" y1="224.50" x2="250.40" y2="224.50" stroke="#333" stroke-width="0.5"/>
<text x="248.00" y="226.00" font-size="4.3" text-anchor="end" fill="#444" stroke="#444" stroke-width="0.08">6</text>
<line x1="248.80" y1="239.07" x2="250.40" y2="239.07" stroke="#333" stroke-width="0.5"/>
<text x="248.00" y="240.57" font-size="4.3" text-anchor="end" fill="#444" stroke="#444" stroke-width="0.08">4</text>
<line x1="248.80" y1="253.63" x2="250.40" y2="253.63" stroke="#333" stroke-width="0.5"/>
<text x="248.00" y="255.13" font-size="4.3" text-anchor="end" fill="#444" stroke="#444" stroke-width="0.08">2</text>
<line x1="248.80" y1="268.20" x2="250.40" y2="268.20" stroke="#333" stroke-width="0.5"/>
<text x="248.00" y="269.70" font-size="4.3" text-anchor="end" fill="#444" stroke="#444" stroke-width="0.08">0</text>
<line x1="255.85" y1="242.50" x2="255.85" y2="246.60" stroke="#7a1443" stroke-width="0.5"/>
<line x1="254.95" y1="242.50" x2="256.75" y2="242.50" stroke="#7a1443" stroke-width="0.5"/>
<line x1="254.95" y1="246.60" x2="256.75" y2="246.60" stroke="#7a1443" stroke-width="0.5"/>
<rect x="252.70" y="243.30" width="6.30" height="2.50" fill="#e90c79" stroke="#8c0f47" stroke-width="0.45"/>
<line x1="252.70" y1="244.55" x2="259.00" y2="244.55" stroke="#8c0f47" stroke-width="0.7"/>
<line x1="255.85" y1="268.20" x2="255.85" y2="269.70" stroke="#333" stroke-width="0.5"/>
<line x1="266.90" y1="244.40" x2="266.90" y2="248.30" stroke="#7a1443" stroke-width="0.5"/>
<line x1="266.00" y1="244.40" x2="267.80" y2="244.40" stroke="#7a1443" stroke-width="0.5"/>
<line x1="266.00" y1="248.30" x2="267.80" y2="248.30" stroke="#7a1443" stroke-width="0.5"/>
<rect x="263.80" y="245.20" width="6.20" height="2.30" fill="#e90c79" stroke="#8c0f47" stroke-width="0.45"/>
<line x1="263.80" y1="246.35" x2="270.00" y2="246.35" stroke="#8c0f47" stroke-width="0.7"/>
<line x1="266.90" y1="268.20" x2="266.90" y2="269.70" stroke="#333" stroke-width="0.5"/>
<line x1="277.50" y1="242.50" x2="277.50" y2="246.40" stroke="#7a1443" stroke-width="0.5"/>
<line x1="276.60" y1="242.50" x2="278.40" y2="242.50" stroke="#7a1443" stroke-width="0.5"/>
<line x1="276.60" y1="246.40" x2="278.40" y2="246.40" stroke="#7a1443" stroke-width="0.5"/>
<rect x="274.40" y="243.30" width="6.20" height="2.30" fill="#e90c79" stroke="#8c0f47" stroke-width="0.45"/>
<line x1="274.40" y1="244.45" x2="280.60" y2="244.45" stroke="#8c0f47" stroke-width="0.7"/>
<line x1="277.50" y1="268.20" x2="277.50" y2="269.70" stroke="#333" stroke-width="0.5"/>
<line x1="256.20" y1="237.50" x2="265.80" y2="237.50" stroke="#b0b0b0" stroke-width="0.6"/>
<text x="261.00" y="238.50" font-size="5.6" text-anchor="middle" fill="#333" stroke="#333" stroke-width="0.08" letter-spacing="-0.5">*</text>
<line x1="267.70" y1="237.50" x2="277.30" y2="237.50" stroke="#b0b0b0" stroke-width="0.6"/>
<text x="272.50" y="238.50" font-size="5.6" text-anchor="middle" fill="#333" stroke="#333" stroke-width="0.08" letter-spacing="-0.5">*</text>
<text x="265.80" y="213.75" font-size="4.4" text-anchor="middle" fill="#505050" stroke="#505050" stroke-width="0.08">Peptidoglycan</text>
<text x="265.80" y="218.90" font-size="4.4" text-anchor="middle" fill="#505050" stroke="#505050" stroke-width="0.08">biosynthesis</text>
<text x="257.35" y="271.20" font-size="4.1" text-anchor="end" fill="#333" stroke="#333" stroke-width="0.08" transform="rotate(-90 257.35 271.2)">None</text>
<text x="268.40" y="271.20" font-size="4.1" text-anchor="end" fill="#333" stroke="#333" stroke-width="0.08" transform="rotate(-90 268.4 271.2)">“7+3”</text>
<text x="279.00" y="271.20" font-size="4.1" text-anchor="end" fill="#333" stroke="#333" stroke-width="0.08" transform="rotate(-90 279.0 271.2)">CPX-351</text>
<line x1="291.30" y1="224.50" x2="291.30" y2="268.60" stroke="#333" stroke-width="0.8"/>
<line x1="290.90" y1="268.20" x2="327.50" y2="268.20" stroke="#333" stroke-width="0.8"/>
<line x1="289.70" y1="224.50" x2="291.30" y2="224.50" stroke="#333" stroke-width="0.5"/>
<text x="288.90" y="226.00" font-size="4.3" text-anchor="end" fill="#444" stroke="#444" stroke-width="0.08">6</text>
<line x1="289.70" y1="239.07" x2="291.30" y2="239.07" stroke="#333" stroke-width="0.5"/>
<text x="288.90" y="240.57" font-size="4.3" text-anchor="end" fill="#444" stroke="#444" stroke-width="0.08">4</text>
<line x1="289.70" y1="253.63" x2="291.30" y2="253.63" stroke="#333" stroke-width="0.5"/>
<text x="288.90" y="255.13" font-size="4.3" text-anchor="end" fill="#444" stroke="#444" stroke-width="0.08">2</text>
<line x1="289.70" y1="268.20" x2="291.30" y2="268.20" stroke="#333" stroke-width="0.5"/>
<text x="288.90" y="269.70" font-size="4.3" text-anchor="end" fill="#444" stroke="#444" stroke-width="0.08">0</text>
<line x1="297.40" y1="240.50" x2="297.40" y2="244.60" stroke="#7a1443" stroke-width="0.5"/>
<line x1="296.50" y1="240.50" x2="298.30" y2="240.50" stroke="#7a1443" stroke-width="0.5"/>
<line x1="296.50" y1="244.60" x2="298.30" y2="244.60" stroke="#7a1443" stroke-width="0.5"/>
<rect x="294.00" y="241.30" width="6.80" height="2.50" fill="#e90c79" stroke="#8c0f47" stroke-width="0.45"/>
<line x1="294.00" y1="242.55" x2="300.80" y2="242.55" stroke="#8c0f47" stroke-width="0.7"/>
<line x1="297.40" y1="268.20" x2="297.40" y2="269.70" stroke="#333" stroke-width="0.5"/>
<line x1="309.35" y1="242.50" x2="309.35" y2="247.50" stroke="#7a1443" stroke-width="0.5"/>
<line x1="308.45" y1="242.50" x2="310.25" y2="242.50" stroke="#7a1443" stroke-width="0.5"/>
<line x1="308.45" y1="247.50" x2="310.25" y2="247.50" stroke="#7a1443" stroke-width="0.5"/>
<rect x="305.80" y="243.30" width="7.10" height="3.40" fill="#e90c79" stroke="#8c0f47" stroke-width="0.45"/>
<line x1="305.80" y1="245.00" x2="312.90" y2="245.00" stroke="#8c0f47" stroke-width="0.7"/>
<line x1="309.35" y1="268.20" x2="309.35" y2="269.70" stroke="#333" stroke-width="0.5"/>
<line x1="321.55" y1="240.90" x2="321.55" y2="244.60" stroke="#7a1443" stroke-width="0.5"/>
<line x1="320.65" y1="240.90" x2="322.45" y2="240.90" stroke="#7a1443" stroke-width="0.5"/>
<line x1="320.65" y1="244.60" x2="322.45" y2="244.60" stroke="#7a1443" stroke-width="0.5"/>
<rect x="318.10" y="241.70" width="6.90" height="2.10" fill="#e90c79" stroke="#8c0f47" stroke-width="0.45"/>
<line x1="318.10" y1="242.75" x2="325.00" y2="242.75" stroke="#8c0f47" stroke-width="0.7"/>
<line x1="321.55" y1="268.20" x2="321.55" y2="269.70" stroke="#333" stroke-width="0.5"/>
<line x1="297.50" y1="237.50" x2="308.10" y2="237.50" stroke="#b0b0b0" stroke-width="0.6"/>
<text x="302.80" y="238.50" font-size="5.6" text-anchor="middle" fill="#333" stroke="#333" stroke-width="0.08" letter-spacing="-0.5">*</text>
<line x1="311.00" y1="237.50" x2="321.50" y2="237.50" stroke="#b0b0b0" stroke-width="0.6"/>
<text x="316.25" y="238.50" font-size="5.6" text-anchor="middle" fill="#333" stroke="#333" stroke-width="0.08" letter-spacing="-0.5">*</text>
<text x="310.00" y="208.60" font-size="4.4" text-anchor="middle" fill="#505050" stroke="#505050" stroke-width="0.08">D-glutamine and</text>
<text x="310.00" y="213.75" font-size="4.4" text-anchor="middle" fill="#505050" stroke="#505050" stroke-width="0.08">D-glutamate</text>
<text x="310.00" y="218.90" font-size="4.4" text-anchor="middle" fill="#505050" stroke="#505050" stroke-width="0.08">metabolism</text>
<text x="298.90" y="271.20" font-size="4.1" text-anchor="end" fill="#333" stroke="#333" stroke-width="0.08" transform="rotate(-90 298.9 271.2)">None</text>
<text x="310.85" y="271.20" font-size="4.1" text-anchor="end" fill="#333" stroke="#333" stroke-width="0.08" transform="rotate(-90 310.85 271.2)">“7+3”</text>
<text x="323.05" y="271.20" font-size="4.1" text-anchor="end" fill="#333" stroke="#333" stroke-width="0.08" transform="rotate(-90 323.05 271.2)">CPX-351</text>
<line x1="338.50" y1="224.50" x2="338.50" y2="268.60" stroke="#333" stroke-width="0.8"/>
<line x1="338.10" y1="268.20" x2="371.50" y2="268.20" stroke="#333" stroke-width="0.8"/>
<line x1="336.90" y1="224.50" x2="338.50" y2="224.50" stroke="#333" stroke-width="0.5"/>
<text x="336.10" y="226.00" font-size="4.3" text-anchor="end" fill="#444" stroke="#444" stroke-width="0.08">2</text>
<line x1="336.90" y1="235.43" x2="338.50" y2="235.43" stroke="#333" stroke-width="0.5"/>
<text x="336.10" y="236.93" font-size="4.3" text-anchor="end" fill="#444" stroke="#444" stroke-width="0.08">1</text>
<line x1="336.90" y1="246.35" x2="338.50" y2="246.35" stroke="#333" stroke-width="0.5"/>
<text x="336.10" y="247.85" font-size="4.3" text-anchor="end" fill="#444" stroke="#444" stroke-width="0.08">0</text>
<line x1="336.90" y1="257.27" x2="338.50" y2="257.27" stroke="#333" stroke-width="0.5"/>
<text x="336.10" y="258.77" font-size="4.3" text-anchor="end" fill="#444" stroke="#444" stroke-width="0.08">-1</text>
<line x1="336.90" y1="268.20" x2="338.50" y2="268.20" stroke="#333" stroke-width="0.5"/>
<text x="336.10" y="269.70" font-size="4.3" text-anchor="end" fill="#444" stroke="#444" stroke-width="0.08">-2</text>
<line x1="343.85" y1="241.00" x2="343.85" y2="247.90" stroke="#7a1443" stroke-width="0.5"/>
<line x1="342.95" y1="241.00" x2="344.75" y2="241.00" stroke="#7a1443" stroke-width="0.5"/>
<line x1="342.95" y1="247.90" x2="344.75" y2="247.90" stroke="#7a1443" stroke-width="0.5"/>
<rect x="340.80" y="244.80" width="6.10" height="2.30" fill="#e90c79" stroke="#8c0f47" stroke-width="0.45"/>
<line x1="340.80" y1="245.95" x2="346.90" y2="245.95" stroke="#8c0f47" stroke-width="0.7"/>
<line x1="343.85" y1="268.20" x2="343.85" y2="269.70" stroke="#333" stroke-width="0.5"/>
<line x1="355.00" y1="248.80" x2="355.00" y2="253.10" stroke="#7a1443" stroke-width="0.5"/>
<line x1="354.10" y1="248.80" x2="355.90" y2="248.80" stroke="#7a1443" stroke-width="0.5"/>
<line x1="354.10" y1="253.10" x2="355.90" y2="253.10" stroke="#7a1443" stroke-width="0.5"/>
<rect x="351.90" y="249.60" width="6.20" height="2.70" fill="#e90c79" stroke="#8c0f47" stroke-width="0.45"/>
<line x1="351.90" y1="250.95" x2="358.10" y2="250.95" stroke="#8c0f47" stroke-width="0.7"/>
<line x1="355.00" y1="268.20" x2="355.00" y2="269.70" stroke="#333" stroke-width="0.5"/>
<line x1="365.95" y1="244.80" x2="365.95" y2="248.50" stroke="#7a1443" stroke-width="0.5"/>
<line x1="365.05" y1="244.80" x2="366.85" y2="244.80" stroke="#7a1443" stroke-width="0.5"/>
<line x1="365.05" y1="248.50" x2="366.85" y2="248.50" stroke="#7a1443" stroke-width="0.5"/>
<rect x="362.90" y="245.60" width="6.10" height="2.10" fill="#e90c79" stroke="#8c0f47" stroke-width="0.45"/>
<line x1="362.90" y1="246.65" x2="369.00" y2="246.65" stroke="#8c0f47" stroke-width="0.7"/>
<line x1="365.95" y1="268.20" x2="365.95" y2="269.70" stroke="#333" stroke-width="0.5"/>
<line x1="343.70" y1="236.50" x2="353.30" y2="236.50" stroke="#b0b0b0" stroke-width="0.6"/>
<text x="348.50" y="237.50" font-size="5.6" text-anchor="middle" fill="#333" stroke="#333" stroke-width="0.08" letter-spacing="-0.5">***</text>
<line x1="354.60" y1="236.50" x2="364.80" y2="236.50" stroke="#b0b0b0" stroke-width="0.6"/>
<text x="359.70" y="237.50" font-size="5.6" text-anchor="middle" fill="#333" stroke="#333" stroke-width="0.08" letter-spacing="-0.5">**</text>
<text x="354.20" y="213.75" font-size="4.4" text-anchor="middle" fill="#505050" stroke="#505050" stroke-width="0.08">Inositol phosphate</text>
<text x="354.20" y="218.90" font-size="4.4" text-anchor="middle" fill="#505050" stroke="#505050" stroke-width="0.08">metabolism</text>
<text x="345.35" y="271.20" font-size="4.1" text-anchor="end" fill="#333" stroke="#333" stroke-width="0.08" transform="rotate(-90 345.35 271.2)">None</text>
<text x="356.50" y="271.20" font-size="4.1" text-anchor="end" fill="#333" stroke="#333" stroke-width="0.08" transform="rotate(-90 356.5 271.2)">“7+3”</text>
<text x="367.45" y="271.20" font-size="4.1" text-anchor="end" fill="#333" stroke="#333" stroke-width="0.08" transform="rotate(-90 367.45 271.2)">CPX-351</text>
<line x1="382.50" y1="224.50" x2="382.50" y2="268.60" stroke="#333" stroke-width="0.8"/>
<line x1="382.10" y1="268.20" x2="415.20" y2="268.20" stroke="#333" stroke-width="0.8"/>
<line x1="380.90" y1="224.50" x2="382.50" y2="224.50" stroke="#333" stroke-width="0.5"/>
<text x="380.10" y="226.00" font-size="4.3" text-anchor="end" fill="#444" stroke="#444" stroke-width="0.08">4</text>
<line x1="380.90" y1="239.07" x2="382.50" y2="239.07" stroke="#333" stroke-width="0.5"/>
<text x="380.10" y="240.57" font-size="4.3" text-anchor="end" fill="#444" stroke="#444" stroke-width="0.08">2</text>
<line x1="380.90" y1="253.63" x2="382.50" y2="253.63" stroke="#333" stroke-width="0.5"/>
<text x="380.10" y="255.13" font-size="4.3" text-anchor="end" fill="#444" stroke="#444" stroke-width="0.08">0</text>
<line x1="380.90" y1="268.20" x2="382.50" y2="268.20" stroke="#333" stroke-width="0.5"/>
<text x="380.10" y="269.70" font-size="4.3" text-anchor="end" fill="#444" stroke="#444" stroke-width="0.08">-2</text>
<line x1="388.10" y1="228.50" x2="388.10" y2="242.50" stroke="#1d4f73" stroke-width="0.5"/>
<line x1="387.20" y1="228.50" x2="389.00" y2="228.50" stroke="#1d4f73" stroke-width="0.5"/>
<line x1="387.20" y1="242.50" x2="389.00" y2="242.50" stroke="#1d4f73" stroke-width="0.5"/>
<rect x="385.40" y="234.20" width="5.40" height="7.70" fill="#2aa7df" stroke="#15608f" stroke-width="0.45"/>
<line x1="385.40" y1="239.00" x2="390.80" y2="239.00" stroke="#15608f" stroke-width="0.7"/>
<line x1="388.10" y1="268.20" x2="388.10" y2="269.70" stroke="#333" stroke-width="0.5"/>
<line x1="398.85" y1="240.00" x2="398.85" y2="267.00" stroke="#1d4f73" stroke-width="0.5"/>
<line x1="397.95" y1="240.00" x2="399.75" y2="240.00" stroke="#1d4f73" stroke-width="0.5"/>
<line x1="397.95" y1="267.00" x2="399.75" y2="267.00" stroke="#1d4f73" stroke-width="0.5"/>
<rect x="396.00" y="242.50" width="5.70" height="22.10" fill="#2aa7df" stroke="#15608f" stroke-width="0.45"/>
<line x1="396.00" y1="252.10" x2="401.70" y2="252.10" stroke="#15608f" stroke-width="0.7"/>
<line x1="398.85" y1="268.20" x2="398.85" y2="269.70" stroke="#333" stroke-width="0.5"/>
<line x1="409.80" y1="234.50" x2="409.80" y2="241.00" stroke="#1d4f73" stroke-width="0.5"/>
<line x1="408.90" y1="234.50" x2="410.70" y2="234.50" stroke="#1d4f73" stroke-width="0.5"/>
<line x1="408.90" y1="241.00" x2="410.70" y2="241.00" stroke="#1d4f73" stroke-width="0.5"/>
<rect x="406.90" y="235.20" width="5.80" height="4.80" fill="#2aa7df" stroke="#15608f" stroke-width="0.45"/>
<line x1="406.90" y1="239.00" x2="412.70" y2="239.00" stroke="#15608f" stroke-width="0.7"/>
<line x1="409.80" y1="268.20" x2="409.80" y2="269.70" stroke="#333" stroke-width="0.5"/>
<line x1="387.70" y1="226.20" x2="397.90" y2="226.20" stroke="#b0b0b0" stroke-width="0.6"/>
<text x="392.80" y="227.20" font-size="5.6" text-anchor="middle" fill="#333" stroke="#333" stroke-width="0.08" letter-spacing="-0.5">*</text>
<line x1="399.80" y1="233.30" x2="410.40" y2="233.30" stroke="#b0b0b0" stroke-width="0.6"/>
<text x="405.10" y="234.30" font-size="5.6" text-anchor="middle" fill="#333" stroke="#333" stroke-width="0.08" letter-spacing="-0.5">*</text>
<text x="398.00" y="208.60" font-size="4.4" text-anchor="middle" fill="#505050" stroke="#505050" stroke-width="0.08">Poly</text>
<text x="398.00" y="213.75" font-size="4.4" text-anchor="middle" fill="#505050" stroke="#505050" stroke-width="0.08">(glycerol-phosphate)</text>
<text x="398.00" y="218.90" font-size="4.4" text-anchor="middle" fill="#505050" stroke="#505050" stroke-width="0.08">α-glucosyltransferase</text>
<text x="389.60" y="271.20" font-size="4.1" text-anchor="end" fill="#333" stroke="#333" stroke-width="0.08" transform="rotate(-90 389.6 271.2)">None</text>
<text x="400.35" y="271.20" font-size="4.1" text-anchor="end" fill="#333" stroke="#333" stroke-width="0.08" transform="rotate(-90 400.35 271.2)">“7+3”</text>
<text x="411.30" y="271.20" font-size="4.1" text-anchor="end" fill="#333" stroke="#333" stroke-width="0.08" transform="rotate(-90 411.29999999999995 271.2)">CPX-351</text>
<line x1="429.80" y1="224.50" x2="429.80" y2="268.60" stroke="#333" stroke-width="0.8"/>
<line x1="429.40" y1="268.20" x2="461.90" y2="268.20" stroke="#333" stroke-width="0.8"/>
<line x1="428.20" y1="224.50" x2="429.80" y2="224.50" stroke="#333" stroke-width="0.5"/>
<text x="427.40" y="226.00" font-size="4.3" text-anchor="end" fill="#444" stroke="#444" stroke-width="0.08">4</text>
<line x1="428.20" y1="239.07" x2="429.80" y2="239.07" stroke="#333" stroke-width="0.5"/>
<text x="427.40" y="240.57" font-size="4.3" text-anchor="end" fill="#444" stroke="#444" stroke-width="0.08">2</text>
<line x1="428.20" y1="253.63" x2="429.80" y2="253.63" stroke="#333" stroke-width="0.5"/>
<text x="427.40" y="255.13" font-size="4.3" text-anchor="end" fill="#444" stroke="#444" stroke-width="0.08">0</text>
<line x1="428.20" y1="268.20" x2="429.80" y2="268.20" stroke="#333" stroke-width="0.5"/>
<text x="427.40" y="269.70" font-size="4.3" text-anchor="end" fill="#444" stroke="#444" stroke-width="0.08">-2</text>
<line x1="434.80" y1="228.50" x2="434.80" y2="241.00" stroke="#1d4f73" stroke-width="0.5"/>
<line x1="433.90" y1="228.50" x2="435.70" y2="228.50" stroke="#1d4f73" stroke-width="0.5"/>
<line x1="433.90" y1="241.00" x2="435.70" y2="241.00" stroke="#1d4f73" stroke-width="0.5"/>
<rect x="431.90" y="233.30" width="5.80" height="5.70" fill="#2aa7df" stroke="#15608f" stroke-width="0.45"/>
<line x1="431.90" y1="235.80" x2="437.70" y2="235.80" stroke="#15608f" stroke-width="0.7"/>
<line x1="434.80" y1="268.20" x2="434.80" y2="269.70" stroke="#333" stroke-width="0.5"/>
<line x1="445.60" y1="237.30" x2="445.60" y2="261.50" stroke="#1d4f73" stroke-width="0.5"/>
<line x1="444.70" y1="237.30" x2="446.50" y2="237.30" stroke="#1d4f73" stroke-width="0.5"/>
<line x1="444.70" y1="261.50" x2="446.50" y2="261.50" stroke="#1d4f73" stroke-width="0.5"/>
<rect x="442.70" y="239.00" width="5.80" height="22.20" fill="#2aa7df" stroke="#15608f" stroke-width="0.45"/>
<line x1="442.70" y1="248.70" x2="448.50" y2="248.70" stroke="#15608f" stroke-width="0.7"/>
<line x1="445.60" y1="268.20" x2="445.60" y2="269.70" stroke="#333" stroke-width="0.5"/>
<line x1="456.55" y1="233.00" x2="456.55" y2="240.50" stroke="#1d4f73" stroke-width="0.5"/>
<line x1="455.65" y1="233.00" x2="457.45" y2="233.00" stroke="#1d4f73" stroke-width="0.5"/>
<line x1="455.65" y1="240.50" x2="457.45" y2="240.50" stroke="#1d4f73" stroke-width="0.5"/>
<rect x="453.70" y="234.20" width="5.70" height="4.30" fill="#2aa7df" stroke="#15608f" stroke-width="0.45"/>
<line x1="453.70" y1="236.30" x2="459.40" y2="236.30" stroke="#15608f" stroke-width="0.7"/>
<line x1="456.55" y1="268.20" x2="456.55" y2="269.70" stroke="#333" stroke-width="0.5"/>
<line x1="434.40" y1="225.60" x2="444.00" y2="225.60" stroke="#b0b0b0" stroke-width="0.6"/>
<text x="439.20" y="226.60" font-size="5.6" text-anchor="middle" fill="#333" stroke="#333" stroke-width="0.08" letter-spacing="-0.5">*</text>
<line x1="446.50" y1="232.30" x2="456.20" y2="232.30" stroke="#b0b0b0" stroke-width="0.6"/>
<text x="451.35" y="233.30" font-size="5.6" text-anchor="middle" fill="#333" stroke="#333" stroke-width="0.08" letter-spacing="-0.5">*</text>
<text x="445.50" y="213.75" font-size="4.4" text-anchor="middle" fill="#505050" stroke="#505050" stroke-width="0.08">Mevalonate</text>
<text x="445.50" y="218.90" font-size="4.4" text-anchor="middle" fill="#505050" stroke="#505050" stroke-width="0.08">kinase</text>
<text x="436.30" y="271.20" font-size="4.1" text-anchor="end" fill="#333" stroke="#333" stroke-width="0.08" transform="rotate(-90 436.29999999999995 271.2)">None</text>
<text x="447.10" y="271.20" font-size="4.1" text-anchor="end" fill="#333" stroke="#333" stroke-width="0.08" transform="rotate(-90 447.1 271.2)">“7+3”</text>
<text x="458.05" y="271.20" font-size="4.1" text-anchor="end" fill="#333" stroke="#333" stroke-width="0.08" transform="rotate(-90 458.04999999999995 271.2)">CPX-351</text>
<line x1="472.20" y1="224.50" x2="472.20" y2="268.60" stroke="#333" stroke-width="0.8"/>
<line x1="471.80" y1="268.20" x2="504.90" y2="268.20" stroke="#333" stroke-width="0.8"/>
<line x1="470.60" y1="224.50" x2="472.20" y2="224.50" stroke="#333" stroke-width="0.5"/>
<text x="469.80" y="226.00" font-size="4.3" text-anchor="end" fill="#444" stroke="#444" stroke-width="0.08">4</text>
<line x1="470.60" y1="239.07" x2="472.20" y2="239.07" stroke="#333" stroke-width="0.5"/>
<text x="469.80" y="240.57" font-size="4.3" text-anchor="end" fill="#444" stroke="#444" stroke-width="0.08">2</text>
<line x1="470.60" y1="253.63" x2="472.20" y2="253.63" stroke="#333" stroke-width="0.5"/>
<text x="469.80" y="255.13" font-size="4.3" text-anchor="end" fill="#444" stroke="#444" stroke-width="0.08">0</text>
<line x1="470.60" y1="268.20" x2="472.20" y2="268.20" stroke="#333" stroke-width="0.5"/>
<text x="469.80" y="269.70" font-size="4.3" text-anchor="end" fill="#444" stroke="#444" stroke-width="0.08">-2</text>
<line x1="478.05" y1="238.40" x2="478.05" y2="247.90" stroke="#1d4f73" stroke-width="0.5"/>
<line x1="477.15" y1="238.40" x2="478.95" y2="238.40" stroke="#1d4f73" stroke-width="0.5"/>
<line x1="477.15" y1="247.90" x2="478.95" y2="247.90" stroke="#1d4f73" stroke-width="0.5"/>
<rect x="475.20" y="242.60" width="5.70" height="3.20" fill="#2aa7df" stroke="#15608f" stroke-width="0.45"/>
<line x1="475.20" y1="244.20" x2="480.90" y2="244.20" stroke="#15608f" stroke-width="0.7"/>
<line x1="478.05" y1="268.20" x2="478.05" y2="269.70" stroke="#333" stroke-width="0.5"/>
<line x1="488.55" y1="244.70" x2="488.55" y2="263.50" stroke="#1d4f73" stroke-width="0.5"/>
<line x1="487.65" y1="244.70" x2="489.45" y2="244.70" stroke="#1d4f73" stroke-width="0.5"/>
<line x1="487.65" y1="263.50" x2="489.45" y2="263.50" stroke="#1d4f73" stroke-width="0.5"/>
<rect x="485.70" y="246.20" width="5.70" height="16.50" fill="#2aa7df" stroke="#15608f" stroke-width="0.45"/>
<line x1="485.70" y1="253.20" x2="491.40" y2="253.20" stroke="#15608f" stroke-width="0.7"/>
<line x1="488.55" y1="268.20" x2="488.55" y2="269.70" stroke="#333" stroke-width="0.5"/>
<line x1="499.55" y1="242.50" x2="499.55" y2="246.50" stroke="#1d4f73" stroke-width="0.5"/>
<line x1="498.65" y1="242.50" x2="500.45" y2="242.50" stroke="#1d4f73" stroke-width="0.5"/>
<line x1="498.65" y1="246.50" x2="500.45" y2="246.50" stroke="#1d4f73" stroke-width="0.5"/>
<rect x="496.70" y="243.00" width="5.70" height="2.80" fill="#2aa7df" stroke="#15608f" stroke-width="0.45"/>
<line x1="496.70" y1="244.40" x2="502.40" y2="244.40" stroke="#15608f" stroke-width="0.7"/>
<line x1="499.55" y1="268.20" x2="499.55" y2="269.70" stroke="#333" stroke-width="0.5"/>
<line x1="478.00" y1="235.20" x2="489.00" y2="235.20" stroke="#b0b0b0" stroke-width="0.6"/>
<text x="483.50" y="236.20" font-size="5.6" text-anchor="middle" fill="#333" stroke="#333" stroke-width="0.08" letter-spacing="-0.5">*</text>
<line x1="491.00" y1="235.20" x2="500.00" y2="235.20" stroke="#b0b0b0" stroke-width="0.6"/>
<text x="495.50" y="236.20" font-size="5.6" text-anchor="middle" fill="#333" stroke="#333" stroke-width="0.08" letter-spacing="-0.5">*</text>
<text x="488.30" y="213.75" font-size="4.4" text-anchor="middle" fill="#505050" stroke="#505050" stroke-width="0.08">Phosphomevalonate</text>
<text x="488.30" y="218.90" font-size="4.4" text-anchor="middle" fill="#505050" stroke="#505050" stroke-width="0.08">kinase</text>
<text x="479.55" y="271.20" font-size="4.1" text-anchor="end" fill="#333" stroke="#333" stroke-width="0.08" transform="rotate(-90 479.54999999999995 271.2)">None</text>
<text x="490.05" y="271.20" font-size="4.1" text-anchor="end" fill="#333" stroke="#333" stroke-width="0.08" transform="rotate(-90 490.04999999999995 271.2)">“7+3”</text>
<text x="501.05" y="271.20" font-size="4.1" text-anchor="end" fill="#333" stroke="#333" stroke-width="0.08" transform="rotate(-90 501.04999999999995 271.2)">CPX-351</text>
<line x1="25.00" y1="327.80" x2="25.00" y2="371.50" stroke="#333" stroke-width="0.8"/>
<line x1="24.60" y1="371.10" x2="58.30" y2="371.10" stroke="#333" stroke-width="0.8"/>
<line x1="23.40" y1="327.80" x2="25.00" y2="327.80" stroke="#333" stroke-width="0.5"/>
<text x="22.60" y="329.30" font-size="4.3" text-anchor="end" fill="#444" stroke="#444" stroke-width="0.08">3</text>
<line x1="23.40" y1="342.23" x2="25.00" y2="342.23" stroke="#333" stroke-width="0.5"/>
<text x="22.60" y="343.73" font-size="4.3" text-anchor="end" fill="#444" stroke="#444" stroke-width="0.08">2</text>
<line x1="23.40" y1="356.67" x2="25.00" y2="356.67" stroke="#333" stroke-width="0.5"/>
<text x="22.60" y="358.17" font-size="4.3" text-anchor="end" fill="#444" stroke="#444" stroke-width="0.08">1</text>
<line x1="23.40" y1="371.10" x2="25.00" y2="371.10" stroke="#333" stroke-width="0.5"/>
<text x="22.60" y="372.60" font-size="4.3" text-anchor="end" fill="#444" stroke="#444" stroke-width="0.08">0</text>
<line x1="30.75" y1="343.10" x2="30.75" y2="356.00" stroke="#7a1443" stroke-width="0.5"/>
<line x1="29.85" y1="343.10" x2="31.65" y2="343.10" stroke="#7a1443" stroke-width="0.5"/>
<line x1="29.85" y1="356.00" x2="31.65" y2="356.00" stroke="#7a1443" stroke-width="0.5"/>
<rect x="27.50" y="350.20" width="6.50" height="5.20" fill="#e90c79" stroke="#8c0f47" stroke-width="0.45"/>
<line x1="27.50" y1="353.10" x2="34.00" y2="353.10" stroke="#8c0f47" stroke-width="0.7"/>
<line x1="30.75" y1="371.10" x2="30.75" y2="372.60" stroke="#333" stroke-width="0.5"/>
<line x1="41.70" y1="354.00" x2="41.70" y2="363.80" stroke="#7a1443" stroke-width="0.5"/>
<line x1="40.80" y1="354.00" x2="42.60" y2="354.00" stroke="#7a1443" stroke-width="0.5"/>
<line x1="40.80" y1="363.80" x2="42.60" y2="363.80" stroke="#7a1443" stroke-width="0.5"/>
<rect x="38.80" y="355.40" width="5.80" height="7.70" fill="#e90c79" stroke="#8c0f47" stroke-width="0.45"/>
<line x1="38.80" y1="359.80" x2="44.60" y2="359.80" stroke="#8c0f47" stroke-width="0.7"/>
<line x1="41.70" y1="371.10" x2="41.70" y2="372.60" stroke="#333" stroke-width="0.5"/>
<line x1="52.70" y1="350.20" x2="52.70" y2="357.30" stroke="#7a1443" stroke-width="0.5"/>
<line x1="51.80" y1="350.20" x2="53.60" y2="350.20" stroke="#7a1443" stroke-width="0.5"/>
<line x1="51.80" y1="357.30" x2="53.60" y2="357.30" stroke="#7a1443" stroke-width="0.5"/>
<rect x="49.60" y="350.80" width="6.20" height="3.80" fill="#e90c79" stroke="#8c0f47" stroke-width="0.45"/>
<line x1="49.60" y1="352.50" x2="55.80" y2="352.50" stroke="#8c0f47" stroke-width="0.7"/>
<line x1="52.70" y1="371.10" x2="52.70" y2="372.60" stroke="#333" stroke-width="0.5"/>
<line x1="30.80" y1="339.20" x2="40.00" y2="339.20" stroke="#b0b0b0" stroke-width="0.6"/>
<text x="35.40" y="340.20" font-size="5.6" text-anchor="middle" fill="#333" stroke="#333" stroke-width="0.08" letter-spacing="-0.5">*</text>
<line x1="41.90" y1="339.20" x2="51.90" y2="339.20" stroke="#b0b0b0" stroke-width="0.6"/>
<text x="46.90" y="340.20" font-size="5.6" text-anchor="middle" fill="#333" stroke="#333" stroke-width="0.08" letter-spacing="-0.5">*</text>
<text x="41.30" y="316.65" font-size="4.4" text-anchor="middle" fill="#505050" stroke="#505050" stroke-width="0.08">Glutathione</text>
<text x="41.30" y="321.80" font-size="4.4" text-anchor="middle" fill="#505050" stroke="#505050" stroke-width="0.08">metabolism</text>
<text x="32.25" y="374.10" font-size="4.1" text-anchor="end" fill="#333" stroke="#333" stroke-width="0.08" transform="rotate(-90 32.25 374.1)">None</text>
<text x="43.20" y="374.10" font-size="4.1" text-anchor="end" fill="#333" stroke="#333" stroke-width="0.08" transform="rotate(-90 43.2 374.1)">“7+3”</text>
<text x="54.20" y="374.10" font-size="4.1" text-anchor="end" fill="#333" stroke="#333" stroke-width="0.08" transform="rotate(-90 54.2 374.1)">CPX-351</text>
<line x1="68.10" y1="327.80" x2="68.10" y2="371.50" stroke="#333" stroke-width="0.8"/>
<line x1="67.70" y1="371.10" x2="101.50" y2="371.10" stroke="#333" stroke-width="0.8"/>
<line x1="66.50" y1="327.80" x2="68.10" y2="327.80" stroke="#333" stroke-width="0.5"/>
<text x="65.70" y="329.30" font-size="4.3" text-anchor="end" fill="#444" stroke="#444" stroke-width="0.08">6</text>
<line x1="66.50" y1="338.62" x2="68.10" y2="338.62" stroke="#333" stroke-width="0.5"/>
<text x="65.70" y="340.12" font-size="4.3" text-anchor="end" fill="#444" stroke="#444" stroke-width="0.08">4</text>
<line x1="66.50" y1="349.45" x2="68.10" y2="349.45" stroke="#333" stroke-width="0.5"/>
<text x="65.70" y="350.95" font-size="4.3" text-anchor="end" fill="#444" stroke="#444" stroke-width="0.08">2</text>
<line x1="66.50" y1="360.28" x2="68.10" y2="360.28" stroke="#333" stroke-width="0.5"/>
<text x="65.70" y="361.78" font-size="4.3" text-anchor="end" fill="#444" stroke="#444" stroke-width="0.08">0</text>
<line x1="66.50" y1="371.10" x2="68.10" y2="371.10" stroke="#333" stroke-width="0.5"/>
<text x="65.70" y="372.60" font-size="4.3" text-anchor="end" fill="#444" stroke="#444" stroke-width="0.08">-2</text>
<line x1="74.05" y1="346.30" x2="74.05" y2="355.40" stroke="#1d4f73" stroke-width="0.5"/>
<line x1="73.15" y1="346.30" x2="74.95" y2="346.30" stroke="#1d4f73" stroke-width="0.5"/>
<line x1="73.15" y1="355.40" x2="74.95" y2="355.40" stroke="#1d4f73" stroke-width="0.5"/>
<rect x="71.20" y="348.30" width="5.70" height="4.40" fill="#2aa7df" stroke="#15608f" stroke-width="0.45"/>
<line x1="71.20" y1="350.60" x2="76.90" y2="350.60" stroke="#15608f" stroke-width="0.7"/>
<line x1="74.05" y1="371.10" x2="74.05" y2="372.60" stroke="#333" stroke-width="0.5"/>
<line x1="85.20" y1="348.80" x2="85.20" y2="366.80" stroke="#1d4f73" stroke-width="0.5"/>
<line x1="84.30" y1="348.80" x2="86.10" y2="348.80" stroke="#1d4f73" stroke-width="0.5"/>
<line x1="84.30" y1="366.80" x2="86.10" y2="366.80" stroke="#1d4f73" stroke-width="0.5"/>
<rect x="82.30" y="351.20" width="5.80" height="15.00" fill="#2aa7df" stroke="#15608f" stroke-width="0.45"/>
<line x1="82.30" y1="357.30" x2="88.10" y2="357.30" stroke="#15608f" stroke-width="0.7"/>
<line x1="85.20" y1="371.10" x2="85.20" y2="372.60" stroke="#333" stroke-width="0.5"/>
<line x1="96.15" y1="347.50" x2="96.15" y2="352.00" stroke="#1d4f73" stroke-width="0.5"/>
<line x1="95.25" y1="347.50" x2="97.05" y2="347.50" stroke="#1d4f73" stroke-width="0.5"/>
<line x1="95.25" y1="352.00" x2="97.05" y2="352.00" stroke="#1d4f73" stroke-width="0.5"/>
<rect x="93.30" y="348.30" width="5.70" height="2.90" fill="#2aa7df" stroke="#15608f" stroke-width="0.45"/>
<line x1="93.30" y1="349.60" x2="99.00" y2="349.60" stroke="#15608f" stroke-width="0.7"/>
<line x1="96.15" y1="371.10" x2="96.15" y2="372.60" stroke="#333" stroke-width="0.5"/>
<line x1="86.50" y1="345.00" x2="97.10" y2="345.00" stroke="#b0b0b0" stroke-width="0.6"/>
<text x="91.80" y="346.00" font-size="5.6" text-anchor="middle" fill="#333" stroke="#333" stroke-width="0.08" letter-spacing="-0.5">*</text>
<text x="83.70" y="313.30" font-size="4.4" text-anchor="middle" fill="#505050" stroke="#505050" stroke-width="0.08">Glutathione-</text>
<text x="83.70" y="318.45" font-size="4.4" text-anchor="middle" fill="#505050" stroke="#505050" stroke-width="0.08">disulfide</text>
<text x="83.70" y="323.60" font-size="4.4" text-anchor="middle" fill="#505050" stroke="#505050" stroke-width="0.08">reductase</text>
<text x="75.55" y="374.10" font-size="4.1" text-anchor="end" fill="#333" stroke="#333" stroke-width="0.08" transform="rotate(-90 75.55000000000001 374.1)">None</text>
<text x="86.70" y="374.10" font-size="4.1" text-anchor="end" fill="#333" stroke="#333" stroke-width="0.08" transform="rotate(-90 86.69999999999999 374.1)">“7+3”</text>
<text x="97.65" y="374.10" font-size="4.1" text-anchor="end" fill="#333" stroke="#333" stroke-width="0.08" transform="rotate(-90 97.65 374.1)">CPX-351</text>
<line x1="111.30" y1="327.80" x2="111.30" y2="371.50" stroke="#333" stroke-width="0.8"/>
<line x1="110.90" y1="371.10" x2="144.60" y2="371.10" stroke="#333" stroke-width="0.8"/>
<line x1="109.70" y1="327.80" x2="111.30" y2="327.80" stroke="#333" stroke-width="0.5"/>
<text x="108.90" y="329.30" font-size="4.3" text-anchor="end" fill="#444" stroke="#444" stroke-width="0.08">6</text>
<line x1="109.70" y1="338.62" x2="111.30" y2="338.62" stroke="#333" stroke-width="0.5"/>
<text x="108.90" y="340.12" font-size="4.3" text-anchor="end" fill="#444" stroke="#444" stroke-width="0.08">4</text>
<line x1="109.70" y1="349.45" x2="111.30" y2="349.45" stroke="#333" stroke-width="0.5"/>
<text x="108.90" y="350.95" font-size="4.3" text-anchor="end" fill="#444" stroke="#444" stroke-width="0.08">2</text>
<line x1="109.70" y1="360.28" x2="111.30" y2="360.28" stroke="#333" stroke-width="0.5"/>
<text x="108.90" y="361.78" font-size="4.3" text-anchor="end" fill="#444" stroke="#444" stroke-width="0.08">0</text>
<line x1="109.70" y1="371.10" x2="111.30" y2="371.10" stroke="#333" stroke-width="0.5"/>
<text x="108.90" y="372.60" font-size="4.3" text-anchor="end" fill="#444" stroke="#444" stroke-width="0.08">-2</text>
<line x1="117.80" y1="359.20" x2="117.80" y2="365.60" stroke="#1d4f73" stroke-width="0.5"/>
<line x1="116.90" y1="359.20" x2="118.70" y2="359.20" stroke="#1d4f73" stroke-width="0.5"/>
<line x1="116.90" y1="365.60" x2="118.70" y2="365.60" stroke="#1d4f73" stroke-width="0.5"/>
<rect x="115.20" y="360.80" width="5.20" height="3.40" fill="#2aa7df" stroke="#15608f" stroke-width="0.45"/>
<line x1="115.20" y1="362.30" x2="120.40" y2="362.30" stroke="#15608f" stroke-width="0.7"/>
<line x1="117.80" y1="371.10" x2="117.80" y2="372.60" stroke="#333" stroke-width="0.5"/>
<line x1="128.50" y1="352.10" x2="128.50" y2="360.80" stroke="#1d4f73" stroke-width="0.5"/>
<line x1="127.60" y1="352.10" x2="129.40" y2="352.10" stroke="#1d4f73" stroke-width="0.5"/>
<line x1="127.60" y1="360.80" x2="129.40" y2="360.80" stroke="#1d4f73" stroke-width="0.5"/>
<rect x="125.80" y="354.00" width="5.40" height="5.20" fill="#2aa7df" stroke="#15608f" stroke-width="0.45"/>
<line x1="125.80" y1="356.50" x2="131.20" y2="356.50" stroke="#15608f" stroke-width="0.7"/>
<line x1="128.50" y1="371.10" x2="128.50" y2="372.60" stroke="#333" stroke-width="0.5"/>
<line x1="139.20" y1="353.40" x2="139.20" y2="356.00" stroke="#1d4f73" stroke-width="0.5"/>
<line x1="138.30" y1="353.40" x2="140.10" y2="353.40" stroke="#1d4f73" stroke-width="0.5"/>
<line x1="138.30" y1="356.00" x2="140.10" y2="356.00" stroke="#1d4f73" stroke-width="0.5"/>
<rect x="136.30" y="354.20" width="5.80" height="1.00" fill="#2aa7df" stroke="#15608f" stroke-width="0.45"/>
<line x1="136.30" y1="354.70" x2="142.10" y2="354.70" stroke="#15608f" stroke-width="0.7"/>
<line x1="139.20" y1="371.10" x2="139.20" y2="372.60" stroke="#333" stroke-width="0.5"/>
<line x1="117.70" y1="344.00" x2="139.20" y2="344.00" stroke="#b0b0b0" stroke-width="0.6"/>
<text x="128.45" y="345.00" font-size="5.6" text-anchor="middle" fill="#333" stroke="#333" stroke-width="0.08" letter-spacing="-0.5">****</text>
<line x1="117.70" y1="351.20" x2="128.70" y2="351.20" stroke="#b0b0b0" stroke-width="0.6"/>
<text x="123.20" y="352.20" font-size="5.6" text-anchor="middle" fill="#333" stroke="#333" stroke-width="0.08" letter-spacing="-0.5">***</text>
<text x="128.10" y="321.80" font-size="4.4" text-anchor="middle" fill="#505050" stroke="#505050" stroke-width="0.08">Catalase</text>
<text x="119.30" y="374.10" font-size="4.1" text-anchor="end" fill="#333" stroke="#333" stroke-width="0.08" transform="rotate(-90 119.30000000000001 374.1)">None</text>
<text x="130.00" y="374.10" font-size="4.1" text-anchor="end" fill="#333" stroke="#333" stroke-width="0.08" transform="rotate(-90 130.0 374.1)">“7+3”</text>
<text x="140.70" y="374.10" font-size="4.1" text-anchor="end" fill="#333" stroke="#333" stroke-width="0.08" transform="rotate(-90 140.7 374.1)">CPX-351</text>
<line x1="160.90" y1="327.80" x2="160.90" y2="371.50" stroke="#333" stroke-width="0.8"/>
<line x1="160.50" y1="371.10" x2="194.60" y2="371.10" stroke="#333" stroke-width="0.8"/>
<line x1="159.30" y1="327.80" x2="160.90" y2="327.80" stroke="#333" stroke-width="0.5"/>
<text x="158.50" y="329.30" font-size="4.3" text-anchor="end" fill="#444" stroke="#444" stroke-width="0.08">3</text>
<line x1="159.30" y1="342.23" x2="160.90" y2="342.23" stroke="#333" stroke-width="0.5"/>
<text x="158.50" y="343.73" font-size="4.3" text-anchor="end" fill="#444" stroke="#444" stroke-width="0.08">2</text>
<line x1="159.30" y1="356.67" x2="160.90" y2="356.67" stroke="#333" stroke-width="0.5"/>
<text x="158.50" y="358.17" font-size="4.3" text-anchor="end" fill="#444" stroke="#444" stroke-width="0.08">1</text>
<line x1="159.30" y1="371.10" x2="160.90" y2="371.10" stroke="#333" stroke-width="0.5"/>
<text x="158.50" y="372.60" font-size="4.3" text-anchor="end" fill="#444" stroke="#444" stroke-width="0.08">0</text>
<line x1="166.90" y1="355.20" x2="166.90" y2="361.60" stroke="#7a1443" stroke-width="0.5"/>
<line x1="166.00" y1="355.20" x2="167.80" y2="355.20" stroke="#7a1443" stroke-width="0.5"/>
<line x1="166.00" y1="361.60" x2="167.80" y2="361.60" stroke="#7a1443" stroke-width="0.5"/>
<rect x="163.80" y="356.00" width="6.20" height="4.80" fill="#e90c79" stroke="#8c0f47" stroke-width="0.45"/>
<line x1="163.80" y1="357.90" x2="170.00" y2="357.90" stroke="#8c0f47" stroke-width="0.7"/>
<line x1="166.90" y1="371.10" x2="166.90" y2="372.60" stroke="#333" stroke-width="0.5"/>
<line x1="178.00" y1="359.60" x2="178.00" y2="363.10" stroke="#7a1443" stroke-width="0.5"/>
<line x1="177.10" y1="359.60" x2="178.90" y2="359.60" stroke="#7a1443" stroke-width="0.5"/>
<line x1="177.10" y1="363.10" x2="178.90" y2="363.10" stroke="#7a1443" stroke-width="0.5"/>
<rect x="174.80" y="360.40" width="6.40" height="1.90" fill="#e90c79" stroke="#8c0f47" stroke-width="0.45"/>
<line x1="174.80" y1="361.30" x2="181.20" y2="361.30" stroke="#8c0f47" stroke-width="0.7"/>
<line x1="178.00" y1="371.10" x2="178.00" y2="372.60" stroke="#333" stroke-width="0.5"/>
<line x1="188.95" y1="355.20" x2="188.95" y2="361.70" stroke="#7a1443" stroke-width="0.5"/>
<line x1="188.05" y1="355.20" x2="189.85" y2="355.20" stroke="#7a1443" stroke-width="0.5"/>
<line x1="188.05" y1="361.70" x2="189.85" y2="361.70" stroke="#7a1443" stroke-width="0.5"/>
<rect x="185.80" y="356.00" width="6.30" height="3.80" fill="#e90c79" stroke="#8c0f47" stroke-width="0.45"/>
<line x1="185.80" y1="357.50" x2="192.10" y2="357.50" stroke="#8c0f47" stroke-width="0.7"/>
<line x1="188.95" y1="371.10" x2="188.95" y2="372.60" stroke="#333" stroke-width="0.5"/>
<line x1="167.10" y1="352.10" x2="177.30" y2="352.10" stroke="#b0b0b0" stroke-width="0.6"/>
<text x="172.20" y="353.10" font-size="5.6" text-anchor="middle" fill="#333" stroke="#333" stroke-width="0.08" letter-spacing="-0.5">*</text>
<line x1="178.70" y1="352.10" x2="188.80" y2="352.10" stroke="#b0b0b0" stroke-width="0.6"/>
<text x="183.75" y="353.10" font-size="5.6" text-anchor="middle" fill="#333" stroke="#333" stroke-width="0.08" letter-spacing="-0.5">*</text>
<text x="175.80" y="316.65" font-size="4.4" text-anchor="middle" fill="#505050" stroke="#505050" stroke-width="0.08">Oxidative</text>
<text x="175.80" y="321.80" font-size="4.4" text-anchor="middle" fill="#505050" stroke="#505050" stroke-width="0.08">phosphorylation</text>
<text x="168.40" y="374.10" font-size="4.1" text-anchor="end" fill="#333" stroke="#333" stroke-width="0.08" transform="rotate(-90 168.4 374.1)">None</text>
<text x="179.50" y="374.10" font-size="4.1" text-anchor="end" fill="#333" stroke="#333" stroke-width="0.08" transform="rotate(-90 179.5 374.1)">“7+3”</text>
<text x="190.45" y="374.10" font-size="4.1" text-anchor="end" fill="#333" stroke="#333" stroke-width="0.08" transform="rotate(-90 190.45 374.1)">CPX-351</text>
<line x1="206.30" y1="327.80" x2="206.30" y2="371.50" stroke="#333" stroke-width="0.8"/>
<line x1="205.90" y1="371.10" x2="240.20" y2="371.10" stroke="#333" stroke-width="0.8"/>
<line x1="204.70" y1="327.80" x2="206.30" y2="327.80" stroke="#333" stroke-width="0.5"/>
<text x="203.90" y="329.30" font-size="4.3" text-anchor="end" fill="#444" stroke="#444" stroke-width="0.08">6</text>
<line x1="204.70" y1="338.62" x2="206.30" y2="338.62" stroke="#333" stroke-width="0.5"/>
<text x="203.90" y="340.12" font-size="4.3" text-anchor="end" fill="#444" stroke="#444" stroke-width="0.08">4</text>
<line x1="204.70" y1="349.45" x2="206.30" y2="349.45" stroke="#333" stroke-width="0.5"/>
<text x="203.90" y="350.95" font-size="4.3" text-anchor="end" fill="#444" stroke="#444" stroke-width="0.08">2</text>
<line x1="204.70" y1="360.28" x2="206.30" y2="360.28" stroke="#333" stroke-width="0.5"/>
<text x="203.90" y="361.78" font-size="4.3" text-anchor="end" fill="#444" stroke="#444" stroke-width="0.08">0</text>
<line x1="204.70" y1="371.10" x2="206.30" y2="371.10" stroke="#333" stroke-width="0.5"/>
<text x="203.90" y="372.60" font-size="4.3" text-anchor="end" fill="#444" stroke="#444" stroke-width="0.08">-2</text>
<line x1="212.10" y1="339.20" x2="212.10" y2="346.90" stroke="#1d4f73" stroke-width="0.5"/>
<line x1="211.20" y1="339.20" x2="213.00" y2="339.20" stroke="#1d4f73" stroke-width="0.5"/>
<line x1="211.20" y1="346.90" x2="213.00" y2="346.90" stroke="#1d4f73" stroke-width="0.5"/>
<rect x="209.20" y="343.10" width="5.80" height="2.70" fill="#2aa7df" stroke="#15608f" stroke-width="0.45"/>
<line x1="209.20" y1="344.40" x2="215.00" y2="344.40" stroke="#15608f" stroke-width="0.7"/>
<line x1="212.10" y1="371.10" x2="212.10" y2="372.60" stroke="#333" stroke-width="0.5"/>
<line x1="223.00" y1="345.40" x2="223.00" y2="356.00" stroke="#1d4f73" stroke-width="0.5"/>
<line x1="222.10" y1="345.40" x2="223.90" y2="345.40" stroke="#1d4f73" stroke-width="0.5"/>
<line x1="222.10" y1="356.00" x2="223.90" y2="356.00" stroke="#1d4f73" stroke-width="0.5"/>
<rect x="219.80" y="346.30" width="6.40" height="7.70" fill="#2aa7df" stroke="#15608f" stroke-width="0.45"/>
<line x1="219.80" y1="349.60" x2="226.20" y2="349.60" stroke="#15608f" stroke-width="0.7"/>
<line x1="223.00" y1="371.10" x2="223.00" y2="372.60" stroke="#333" stroke-width="0.5"/>
<line x1="234.50" y1="342.70" x2="234.50" y2="346.60" stroke="#1d4f73" stroke-width="0.5"/>
<line x1="233.60" y1="342.70" x2="235.40" y2="342.70" stroke="#1d4f73" stroke-width="0.5"/>
<line x1="233.60" y1="346.60" x2="235.40" y2="346.60" stroke="#1d4f73" stroke-width="0.5"/>
<rect x="231.30" y="343.50" width="6.40" height="2.30" fill="#2aa7df" stroke="#15608f" stroke-width="0.45"/>
<line x1="231.30" y1="344.80" x2="237.70" y2="344.80" stroke="#15608f" stroke-width="0.7"/>
<line x1="234.50" y1="371.10" x2="234.50" y2="372.60" stroke="#333" stroke-width="0.5"/>
<line x1="210.80" y1="335.80" x2="222.30" y2="335.80" stroke="#b0b0b0" stroke-width="0.6"/>
<text x="216.55" y="336.80" font-size="5.6" text-anchor="middle" fill="#333" stroke="#333" stroke-width="0.08" letter-spacing="-0.5">*</text>
<line x1="224.20" y1="340.60" x2="235.20" y2="340.60" stroke="#b0b0b0" stroke-width="0.6"/>
<text x="229.70" y="341.60" font-size="5.6" text-anchor="middle" fill="#333" stroke="#333" stroke-width="0.08" letter-spacing="-0.5">**</text>
<text x="223.10" y="316.65" font-size="4.4" text-anchor="middle" fill="#505050" stroke="#505050" stroke-width="0.08">Glucose-6-phosphate</text>
<text x="223.10" y="321.80" font-size="4.4" text-anchor="middle" fill="#505050" stroke="#505050" stroke-width="0.08">dehydrogenase</text>
<text x="213.60" y="374.10" font-size="4.1" text-anchor="end" fill="#333" stroke="#333" stroke-width="0.08" transform="rotate(-90 213.6 374.1)">None</text>
<text x="224.50" y="374.10" font-size="4.1" text-anchor="end" fill="#333" stroke="#333" stroke-width="0.08" transform="rotate(-90 224.5 374.1)">“7+3”</text>
<text x="236.00" y="374.10" font-size="4.1" text-anchor="end" fill="#333" stroke="#333" stroke-width="0.08" transform="rotate(-90 236.0 374.1)">CPX-351</text>
<line x1="254.10" y1="327.80" x2="254.10" y2="371.50" stroke="#333" stroke-width="0.8"/>
<line x1="253.70" y1="371.10" x2="288.10" y2="371.10" stroke="#333" stroke-width="0.8"/>
<line x1="252.50" y1="327.80" x2="254.10" y2="327.80" stroke="#333" stroke-width="0.5"/>
<text x="251.70" y="329.30" font-size="4.3" text-anchor="end" fill="#444" stroke="#444" stroke-width="0.08">6</text>
<line x1="252.50" y1="338.62" x2="254.10" y2="338.62" stroke="#333" stroke-width="0.5"/>
<text x="251.70" y="340.12" font-size="4.3" text-anchor="end" fill="#444" stroke="#444" stroke-width="0.08">4</text>
<line x1="252.50" y1="349.45" x2="254.10" y2="349.45" stroke="#333" stroke-width="0.5"/>
<text x="251.70" y="350.95" font-size="4.3" text-anchor="end" fill="#444" stroke="#444" stroke-width="0.08">2</text>
<line x1="252.50" y1="360.28" x2="254.10" y2="360.28" stroke="#333" stroke-width="0.5"/>
<text x="251.70" y="361.78" font-size="4.3" text-anchor="end" fill="#444" stroke="#444" stroke-width="0.08">0</text>
<line x1="252.50" y1="371.10" x2="254.10" y2="371.10" stroke="#333" stroke-width="0.5"/>
<text x="251.70" y="372.60" font-size="4.3" text-anchor="end" fill="#444" stroke="#444" stroke-width="0.08">-2</text>
<line x1="259.90" y1="342.30" x2="259.90" y2="348.00" stroke="#1d4f73" stroke-width="0.5"/>
<line x1="259.00" y1="342.30" x2="260.80" y2="342.30" stroke="#1d4f73" stroke-width="0.5"/>
<line x1="259.00" y1="348.00" x2="260.80" y2="348.00" stroke="#1d4f73" stroke-width="0.5"/>
<rect x="256.70" y="345.50" width="6.40" height="1.70" fill="#2aa7df" stroke="#15608f" stroke-width="0.45"/>
<line x1="256.70" y1="346.40" x2="263.10" y2="346.40" stroke="#15608f" stroke-width="0.7"/>
<line x1="259.90" y1="371.10" x2="259.90" y2="372.60" stroke="#333" stroke-width="0.5"/>
<line x1="271.45" y1="346.10" x2="271.45" y2="355.20" stroke="#1d4f73" stroke-width="0.5"/>
<line x1="270.55" y1="346.10" x2="272.35" y2="346.10" stroke="#1d4f73" stroke-width="0.5"/>
<line x1="270.55" y1="355.20" x2="272.35" y2="355.20" stroke="#1d4f73" stroke-width="0.5"/>
<rect x="268.30" y="346.90" width="6.30" height="6.40" fill="#2aa7df" stroke="#15608f" stroke-width="0.45"/>
<line x1="268.30" y1="350.60" x2="274.60" y2="350.60" stroke="#15608f" stroke-width="0.7"/>
<line x1="271.45" y1="371.10" x2="271.45" y2="372.60" stroke="#333" stroke-width="0.5"/>
<line x1="282.40" y1="343.50" x2="282.40" y2="347.30" stroke="#1d4f73" stroke-width="0.5"/>
<line x1="281.50" y1="343.50" x2="283.30" y2="343.50" stroke="#1d4f73" stroke-width="0.5"/>
<line x1="281.50" y1="347.30" x2="283.30" y2="347.30" stroke="#1d4f73" stroke-width="0.5"/>
<rect x="279.20" y="345.20" width="6.40" height="1.50" fill="#2aa7df" stroke="#15608f" stroke-width="0.45"/>
<line x1="279.20" y1="346.00" x2="285.60" y2="346.00" stroke="#15608f" stroke-width="0.7"/>
<line x1="282.40" y1="371.10" x2="282.40" y2="372.60" stroke="#333" stroke-width="0.5"/>
<line x1="259.60" y1="339.80" x2="270.60" y2="339.80" stroke="#b0b0b0" stroke-width="0.6"/>
<text x="265.10" y="340.80" font-size="5.6" text-anchor="middle" fill="#333" stroke="#333" stroke-width="0.08" letter-spacing="-0.5">*</text>
<line x1="272.10" y1="339.80" x2="281.80" y2="339.80" stroke="#b0b0b0" stroke-width="0.6"/>
<text x="276.95" y="340.80" font-size="5.6" text-anchor="middle" fill="#333" stroke="#333" stroke-width="0.08" letter-spacing="-0.5">***</text>
<text x="270.50" y="316.65" font-size="4.4" text-anchor="middle" fill="#505050" stroke="#505050" stroke-width="0.08">NADH</text>
<text x="270.50" y="321.80" font-size="4.4" text-anchor="middle" fill="#505050" stroke="#505050" stroke-width="0.08">dehydrogenase</text>
<text x="261.40" y="374.10" font-size="4.1" text-anchor="end" fill="#333" stroke="#333" stroke-width="0.08" transform="rotate(-90 261.4 374.1)">None</text>
<text x="272.95" y="374.10" font-size="4.1" text-anchor="end" fill="#333" stroke="#333" stroke-width="0.08" transform="rotate(-90 272.95000000000005 374.1)">“7+3”</text>
<text x="283.90" y="374.10" font-size="4.1" text-anchor="end" fill="#333" stroke="#333" stroke-width="0.08" transform="rotate(-90 283.9 374.1)">CPX-351</text>
<line x1="298.50" y1="327.80" x2="298.50" y2="371.50" stroke="#333" stroke-width="0.8"/>
<line x1="298.10" y1="371.10" x2="332.10" y2="371.10" stroke="#333" stroke-width="0.8"/>
<line x1="296.90" y1="327.80" x2="298.50" y2="327.80" stroke="#333" stroke-width="0.5"/>
<text x="296.10" y="329.30" font-size="4.3" text-anchor="end" fill="#444" stroke="#444" stroke-width="0.08">6</text>
<line x1="296.90" y1="338.62" x2="298.50" y2="338.62" stroke="#333" stroke-width="0.5"/>
<text x="296.10" y="340.12" font-size="4.3" text-anchor="end" fill="#444" stroke="#444" stroke-width="0.08">4</text>
<line x1="296.90" y1="349.45" x2="298.50" y2="349.45" stroke="#333" stroke-width="0.5"/>
<text x="296.10" y="350.95" font-size="4.3" text-anchor="end" fill="#444" stroke="#444" stroke-width="0.08">2</text>
<line x1="296.90" y1="360.28" x2="298.50" y2="360.28" stroke="#333" stroke-width="0.5"/>
<text x="296.10" y="361.78" font-size="4.3" text-anchor="end" fill="#444" stroke="#444" stroke-width="0.08">0</text>
<line x1="296.90" y1="371.10" x2="298.50" y2="371.10" stroke="#333" stroke-width="0.5"/>
<text x="296.10" y="372.60" font-size="4.3" text-anchor="end" fill="#444" stroke="#444" stroke-width="0.08">-2</text>
<line x1="304.40" y1="340.60" x2="304.40" y2="350.80" stroke="#1d4f73" stroke-width="0.5"/>
<line x1="303.50" y1="340.60" x2="305.30" y2="340.60" stroke="#1d4f73" stroke-width="0.5"/>
<line x1="303.50" y1="350.80" x2="305.30" y2="350.80" stroke="#1d4f73" stroke-width="0.5"/>
<rect x="301.30" y="344.40" width="6.20" height="4.40" fill="#2aa7df" stroke="#15608f" stroke-width="0.45"/>
<line x1="301.30" y1="346.00" x2="307.50" y2="346.00" stroke="#15608f" stroke-width="0.7"/>
<line x1="304.40" y1="371.10" x2="304.40" y2="372.60" stroke="#333" stroke-width="0.5"/>
<line x1="315.30" y1="346.00" x2="315.30" y2="365.50" stroke="#1d4f73" stroke-width="0.5"/>
<line x1="314.40" y1="346.00" x2="316.20" y2="346.00" stroke="#1d4f73" stroke-width="0.5"/>
<line x1="314.40" y1="365.50" x2="316.20" y2="365.50" stroke="#1d4f73" stroke-width="0.5"/>
<rect x="311.90" y="348.30" width="6.80" height="16.70" fill="#2aa7df" stroke="#15608f" stroke-width="0.45"/>
<line x1="311.90" y1="356.00" x2="318.70" y2="356.00" stroke="#15608f" stroke-width="0.7"/>
<line x1="315.30" y1="371.10" x2="315.30" y2="372.60" stroke="#333" stroke-width="0.5"/>
<line x1="326.55" y1="343.10" x2="326.55" y2="347.70" stroke="#1d4f73" stroke-width="0.5"/>
<line x1="325.65" y1="343.10" x2="327.45" y2="343.10" stroke="#1d4f73" stroke-width="0.5"/>
<line x1="325.65" y1="347.70" x2="327.45" y2="347.70" stroke="#1d4f73" stroke-width="0.5"/>
<rect x="323.50" y="343.80" width="6.10" height="2.50" fill="#2aa7df" stroke="#15608f" stroke-width="0.45"/>
<line x1="323.50" y1="345.00" x2="329.60" y2="345.00" stroke="#15608f" stroke-width="0.7"/>
<line x1="326.55" y1="371.10" x2="326.55" y2="372.60" stroke="#333" stroke-width="0.5"/>
<line x1="304.20" y1="336.70" x2="314.20" y2="336.70" stroke="#b0b0b0" stroke-width="0.6"/>
<text x="309.20" y="337.70" font-size="5.6" text-anchor="middle" fill="#333" stroke="#333" stroke-width="0.08" letter-spacing="-0.5">*</text>
<line x1="316.70" y1="336.70" x2="326.30" y2="336.70" stroke="#b0b0b0" stroke-width="0.6"/>
<text x="321.50" y="337.70" font-size="5.6" text-anchor="middle" fill="#333" stroke="#333" stroke-width="0.08" letter-spacing="-0.5">*</text>
<text x="315.80" y="316.65" font-size="4.4" text-anchor="middle" fill="#505050" stroke="#505050" stroke-width="0.08">Gluconate</text>
<text x="315.80" y="321.80" font-size="4.4" text-anchor="middle" fill="#505050" stroke="#505050" stroke-width="0.08">kinase</text>
<text x="305.90" y="374.10" font-size="4.1" text-anchor="end" fill="#333" stroke="#333" stroke-width="0.08" transform="rotate(-90 305.9 374.1)">None</text>
<text x="316.80" y="374.10" font-size="4.1" text-anchor="end" fill="#333" stroke="#333" stroke-width="0.08" transform="rotate(-90 316.79999999999995 374.1)">“7+3”</text>
<text x="328.05" y="374.10" font-size="4.1" text-anchor="end" fill="#333" stroke="#333" stroke-width="0.08" transform="rotate(-90 328.05 374.1)">CPX-351</text>
<line x1="349.30" y1="327.80" x2="349.30" y2="371.50" stroke="#333" stroke-width="0.8"/>
<line x1="348.90" y1="371.10" x2="383.30" y2="371.10" stroke="#333" stroke-width="0.8"/>
<line x1="347.70" y1="327.80" x2="349.30" y2="327.80" stroke="#333" stroke-width="0.5"/>
<text x="346.90" y="329.30" font-size="4.3" text-anchor="end" fill="#444" stroke="#444" stroke-width="0.08">4</text>
<line x1="347.70" y1="338.62" x2="349.30" y2="338.62" stroke="#333" stroke-width="0.5"/>
<text x="346.90" y="340.12" font-size="4.3" text-anchor="end" fill="#444" stroke="#444" stroke-width="0.08">3</text>
<line x1="347.70" y1="349.45" x2="349.30" y2="349.45" stroke="#333" stroke-width="0.5"/>
<text x="346.90" y="350.95" font-size="4.3" text-anchor="end" fill="#444" stroke="#444" stroke-width="0.08">2</text>
<line x1="347.70" y1="360.28" x2="349.30" y2="360.28" stroke="#333" stroke-width="0.5"/>
<text x="346.90" y="361.78" font-size="4.3" text-anchor="end" fill="#444" stroke="#444" stroke-width="0.08">1</text>
<line x1="347.70" y1="371.10" x2="349.30" y2="371.10" stroke="#333" stroke-width="0.5"/>
<text x="346.90" y="372.60" font-size="4.3" text-anchor="end" fill="#444" stroke="#444" stroke-width="0.08">0</text>
<line x1="355.40" y1="337.70" x2="355.40" y2="343.80" stroke="#7a1443" stroke-width="0.5"/>
<line x1="354.50" y1="337.70" x2="356.30" y2="337.70" stroke="#7a1443" stroke-width="0.5"/>
<line x1="354.50" y1="343.80" x2="356.30" y2="343.80" stroke="#7a1443" stroke-width="0.5"/>
<rect x="352.30" y="340.00" width="6.20" height="3.10" fill="#e90c79" stroke="#8c0f47" stroke-width="0.45"/>
<line x1="352.30" y1="341.50" x2="358.50" y2="341.50" stroke="#8c0f47" stroke-width="0.7"/>
<line x1="355.40" y1="371.10" x2="355.40" y2="372.60" stroke="#333" stroke-width="0.5"/>
<line x1="366.55" y1="341.70" x2="366.55" y2="346.60" stroke="#7a1443" stroke-width="0.5"/>
<line x1="365.65" y1="341.70" x2="367.45" y2="341.70" stroke="#7a1443" stroke-width="0.5"/>
<line x1="365.65" y1="346.60" x2="367.45" y2="346.60" stroke="#7a1443" stroke-width="0.5"/>
<rect x="363.50" y="342.50" width="6.10" height="3.30" fill="#e90c79" stroke="#8c0f47" stroke-width="0.45"/>
<line x1="363.50" y1="344.10" x2="369.60" y2="344.10" stroke="#8c0f47" stroke-width="0.7"/>
<line x1="366.55" y1="371.10" x2="366.55" y2="372.60" stroke="#333" stroke-width="0.5"/>
<line x1="377.60" y1="338.40" x2="377.60" y2="343.50" stroke="#7a1443" stroke-width="0.5"/>
<line x1="376.70" y1="338.40" x2="378.50" y2="338.40" stroke="#7a1443" stroke-width="0.5"/>
<line x1="376.70" y1="343.50" x2="378.50" y2="343.50" stroke="#7a1443" stroke-width="0.5"/>
<rect x="374.40" y="339.20" width="6.40" height="3.30" fill="#e90c79" stroke="#8c0f47" stroke-width="0.45"/>
<line x1="374.40" y1="340.80" x2="380.80" y2="340.80" stroke="#8c0f47" stroke-width="0.7"/>
<line x1="377.60" y1="371.10" x2="377.60" y2="372.60" stroke="#333" stroke-width="0.5"/>
<line x1="366.70" y1="333.80" x2="377.30" y2="333.80" stroke="#b0b0b0" stroke-width="0.6"/>
<text x="372.00" y="334.80" font-size="5.6" text-anchor="middle" fill="#333" stroke="#333" stroke-width="0.08" letter-spacing="-0.5">*</text>
<text x="369.60" y="316.65" font-size="4.4" text-anchor="middle" fill="#505050" stroke="#505050" stroke-width="0.08">DNA</text>
<text x="369.60" y="321.80" font-size="4.4" text-anchor="middle" fill="#505050" stroke="#505050" stroke-width="0.08">replication</text>
<text x="356.90" y="374.10" font-size="4.1" text-anchor="end" fill="#333" stroke="#333" stroke-width="0.08" transform="rotate(-90 356.9 374.1)">None</text>
<text x="368.05" y="374.10" font-size="4.1" text-anchor="end" fill="#333" stroke="#333" stroke-width="0.08" transform="rotate(-90 368.05 374.1)">“7+3”</text>
<text x="379.10" y="374.10" font-size="4.1" text-anchor="end" fill="#333" stroke="#333" stroke-width="0.08" transform="rotate(-90 379.1 374.1)">CPX-351</text>
<line x1="391.90" y1="327.80" x2="391.90" y2="371.50" stroke="#333" stroke-width="0.8"/>
<line x1="391.50" y1="371.10" x2="424.80" y2="371.10" stroke="#333" stroke-width="0.8"/>
<line x1="390.30" y1="327.80" x2="391.90" y2="327.80" stroke="#333" stroke-width="0.5"/>
<text x="389.50" y="329.30" font-size="4.3" text-anchor="end" fill="#444" stroke="#444" stroke-width="0.08">4</text>
<line x1="390.30" y1="338.62" x2="391.90" y2="338.62" stroke="#333" stroke-width="0.5"/>
<text x="389.50" y="340.12" font-size="4.3" text-anchor="end" fill="#444" stroke="#444" stroke-width="0.08">3</text>
<line x1="390.30" y1="349.45" x2="391.90" y2="349.45" stroke="#333" stroke-width="0.5"/>
<text x="389.50" y="350.95" font-size="4.3" text-anchor="end" fill="#444" stroke="#444" stroke-width="0.08">2</text>
<line x1="390.30" y1="360.28" x2="391.90" y2="360.28" stroke="#333" stroke-width="0.5"/>
<text x="389.50" y="361.78" font-size="4.3" text-anchor="end" fill="#444" stroke="#444" stroke-width="0.08">1</text>
<line x1="390.30" y1="371.10" x2="391.90" y2="371.10" stroke="#333" stroke-width="0.5"/>
<text x="389.50" y="372.60" font-size="4.3" text-anchor="end" fill="#444" stroke="#444" stroke-width="0.08">0</text>
<line x1="397.30" y1="341.90" x2="397.30" y2="348.00" stroke="#7a1443" stroke-width="0.5"/>
<line x1="396.40" y1="341.90" x2="398.20" y2="341.90" stroke="#7a1443" stroke-width="0.5"/>
<line x1="396.40" y1="348.00" x2="398.20" y2="348.00" stroke="#7a1443" stroke-width="0.5"/>
<rect x="394.40" y="343.80" width="5.80" height="3.50" fill="#e90c79" stroke="#8c0f47" stroke-width="0.45"/>
<line x1="394.40" y1="345.50" x2="400.20" y2="345.50" stroke="#8c0f47" stroke-width="0.7"/>
<line x1="397.30" y1="371.10" x2="397.30" y2="372.60" stroke="#333" stroke-width="0.5"/>
<line x1="408.35" y1="346.10" x2="408.35" y2="351.00" stroke="#7a1443" stroke-width="0.5"/>
<line x1="407.45" y1="346.10" x2="409.25" y2="346.10" stroke="#7a1443" stroke-width="0.5"/>
<line x1="407.45" y1="351.00" x2="409.25" y2="351.00" stroke="#7a1443" stroke-width="0.5"/>
<rect x="405.40" y="346.90" width="5.90" height="3.30" fill="#e90c79" stroke="#8c0f47" stroke-width="0.45"/>
<line x1="405.40" y1="348.50" x2="411.30" y2="348.50" stroke="#8c0f47" stroke-width="0.7"/>
<line x1="408.35" y1="371.10" x2="408.35" y2="372.60" stroke="#333" stroke-width="0.5"/>
<line x1="419.25" y1="342.30" x2="419.25" y2="347.70" stroke="#7a1443" stroke-width="0.5"/>
<line x1="418.35" y1="342.30" x2="420.15" y2="342.30" stroke="#7a1443" stroke-width="0.5"/>
<line x1="418.35" y1="347.70" x2="420.15" y2="347.70" stroke="#7a1443" stroke-width="0.5"/>
<rect x="416.20" y="343.10" width="6.10" height="3.20" fill="#e90c79" stroke="#8c0f47" stroke-width="0.45"/>
<line x1="416.20" y1="344.70" x2="422.30" y2="344.70" stroke="#8c0f47" stroke-width="0.7"/>
<line x1="419.25" y1="371.10" x2="419.25" y2="372.60" stroke="#333" stroke-width="0.5"/>
<line x1="396.90" y1="336.70" x2="406.90" y2="336.70" stroke="#b0b0b0" stroke-width="0.6"/>
<text x="401.90" y="337.70" font-size="5.6" text-anchor="middle" fill="#333" stroke="#333" stroke-width="0.08" letter-spacing="-0.5">*</text>
<line x1="408.50" y1="336.70" x2="418.50" y2="336.70" stroke="#b0b0b0" stroke-width="0.6"/>
<text x="413.50" y="337.70" font-size="5.6" text-anchor="middle" fill="#333" stroke="#333" stroke-width="0.08" letter-spacing="-0.5">**</text>
<text x="408.50" y="316.65" font-size="4.4" text-anchor="middle" fill="#505050" stroke="#505050" stroke-width="0.08">Base excision</text>
<text x="408.50" y="321.80" font-size="4.4" text-anchor="middle" fill="#505050" stroke="#505050" stroke-width="0.08">repair</text>
<text x="398.80" y="374.10" font-size="4.1" text-anchor="end" fill="#333" stroke="#333" stroke-width="0.08" transform="rotate(-90 398.79999999999995 374.1)">None</text>
<text x="409.85" y="374.10" font-size="4.1" text-anchor="end" fill="#333" stroke="#333" stroke-width="0.08" transform="rotate(-90 409.85 374.1)">“7+3”</text>
<text x="420.75" y="374.10" font-size="4.1" text-anchor="end" fill="#333" stroke="#333" stroke-width="0.08" transform="rotate(-90 420.75 374.1)">CPX-351</text>
<line x1="433.50" y1="327.80" x2="433.50" y2="371.50" stroke="#333" stroke-width="0.8"/>
<line x1="433.10" y1="371.10" x2="466.70" y2="371.10" stroke="#333" stroke-width="0.8"/>
<line x1="431.90" y1="327.80" x2="433.50" y2="327.80" stroke="#333" stroke-width="0.5"/>
<text x="431.10" y="329.30" font-size="4.3" text-anchor="end" fill="#444" stroke="#444" stroke-width="0.08">6</text>
<line x1="431.90" y1="342.23" x2="433.50" y2="342.23" stroke="#333" stroke-width="0.5"/>
<text x="431.10" y="343.73" font-size="4.3" text-anchor="end" fill="#444" stroke="#444" stroke-width="0.08">4</text>
<line x1="431.90" y1="356.67" x2="433.50" y2="356.67" stroke="#333" stroke-width="0.5"/>
<text x="431.10" y="358.17" font-size="4.3" text-anchor="end" fill="#444" stroke="#444" stroke-width="0.08">2</text>
<line x1="431.90" y1="371.10" x2="433.50" y2="371.10" stroke="#333" stroke-width="0.5"/>
<text x="431.10" y="372.60" font-size="4.3" text-anchor="end" fill="#444" stroke="#444" stroke-width="0.08">0</text>
<line x1="438.85" y1="345.90" x2="438.85" y2="349.60" stroke="#7a1443" stroke-width="0.5"/>
<line x1="437.95" y1="345.90" x2="439.75" y2="345.90" stroke="#7a1443" stroke-width="0.5"/>
<line x1="437.95" y1="349.60" x2="439.75" y2="349.60" stroke="#7a1443" stroke-width="0.5"/>
<rect x="435.80" y="346.70" width="6.10" height="2.10" fill="#e90c79" stroke="#8c0f47" stroke-width="0.45"/>
<line x1="435.80" y1="347.75" x2="441.90" y2="347.75" stroke="#8c0f47" stroke-width="0.7"/>
<line x1="438.85" y1="371.10" x2="438.85" y2="372.60" stroke="#333" stroke-width="0.5"/>
<line x1="450.00" y1="348.00" x2="450.00" y2="352.00" stroke="#7a1443" stroke-width="0.5"/>
<line x1="449.10" y1="348.00" x2="450.90" y2="348.00" stroke="#7a1443" stroke-width="0.5"/>
<line x1="449.10" y1="352.00" x2="450.90" y2="352.00" stroke="#7a1443" stroke-width="0.5"/>
<rect x="446.90" y="348.80" width="6.20" height="2.40" fill="#e90c79" stroke="#8c0f47" stroke-width="0.45"/>
<line x1="446.90" y1="350.00" x2="453.10" y2="350.00" stroke="#8c0f47" stroke-width="0.7"/>
<line x1="450.00" y1="371.10" x2="450.00" y2="372.60" stroke="#333" stroke-width="0.5"/>
<line x1="461.05" y1="345.70" x2="461.05" y2="349.60" stroke="#7a1443" stroke-width="0.5"/>
<line x1="460.15" y1="345.70" x2="461.95" y2="345.70" stroke="#7a1443" stroke-width="0.5"/>
<line x1="460.15" y1="349.60" x2="461.95" y2="349.60" stroke="#7a1443" stroke-width="0.5"/>
<rect x="457.90" y="346.50" width="6.30" height="2.30" fill="#e90c79" stroke="#8c0f47" stroke-width="0.45"/>
<line x1="457.90" y1="347.65" x2="464.20" y2="347.65" stroke="#8c0f47" stroke-width="0.7"/>
<line x1="461.05" y1="371.10" x2="461.05" y2="372.60" stroke="#333" stroke-width="0.5"/>
<line x1="438.70" y1="340.20" x2="448.80" y2="340.20" stroke="#b0b0b0" stroke-width="0.6"/>
<text x="443.75" y="341.20" font-size="5.6" text-anchor="middle" fill="#333" stroke="#333" stroke-width="0.08" letter-spacing="-0.5">*</text>
<line x1="450.80" y1="340.20" x2="460.80" y2="340.20" stroke="#b0b0b0" stroke-width="0.6"/>
<text x="455.80" y="341.20" font-size="5.6" text-anchor="middle" fill="#333" stroke="#333" stroke-width="0.08" letter-spacing="-0.5">*</text>
<text x="447.30" y="316.65" font-size="4.4" text-anchor="middle" fill="#505050" stroke="#505050" stroke-width="0.08">Mismatch</text>
<text x="447.30" y="321.80" font-size="4.4" text-anchor="middle" fill="#505050" stroke="#505050" stroke-width="0.08">repair</text>
<text x="440.35" y="374.10" font-size="4.1" text-anchor="end" fill="#333" stroke="#333" stroke-width="0.08" transform="rotate(-90 440.35 374.1)">None</text>
<text x="451.50" y="374.10" font-size="4.1" text-anchor="end" fill="#333" stroke="#333" stroke-width="0.08" transform="rotate(-90 451.5 374.1)">“7+3”</text>
<text x="462.55" y="374.10" font-size="4.1" text-anchor="end" fill="#333" stroke="#333" stroke-width="0.08" transform="rotate(-90 462.54999999999995 374.1)">CPX-351</text>
<line x1="477.50" y1="327.80" x2="477.50" y2="371.50" stroke="#333" stroke-width="0.8"/>
<line x1="477.10" y1="371.10" x2="511.40" y2="371.10" stroke="#333" stroke-width="0.8"/>
<line x1="475.90" y1="327.80" x2="477.50" y2="327.80" stroke="#333" stroke-width="0.5"/>
<text x="475.10" y="329.30" font-size="4.3" text-anchor="end" fill="#444" stroke="#444" stroke-width="0.08">4</text>
<line x1="475.90" y1="342.23" x2="477.50" y2="342.23" stroke="#333" stroke-width="0.5"/>
<text x="475.10" y="343.73" font-size="4.3" text-anchor="end" fill="#444" stroke="#444" stroke-width="0.08">2</text>
<line x1="475.90" y1="356.67" x2="477.50" y2="356.67" stroke="#333" stroke-width="0.5"/>
<text x="475.10" y="358.17" font-size="4.3" text-anchor="end" fill="#444" stroke="#444" stroke-width="0.08">0</text>
<line x1="475.90" y1="371.10" x2="477.50" y2="371.10" stroke="#333" stroke-width="0.5"/>
<text x="475.10" y="372.60" font-size="4.3" text-anchor="end" fill="#444" stroke="#444" stroke-width="0.08">-2</text>
<line x1="483.25" y1="345.40" x2="483.25" y2="349.00" stroke="#1d4f73" stroke-width="0.5"/>
<line x1="482.35" y1="345.40" x2="484.15" y2="345.40" stroke="#1d4f73" stroke-width="0.5"/>
<line x1="482.35" y1="349.00" x2="484.15" y2="349.00" stroke="#1d4f73" stroke-width="0.5"/>
<rect x="480.00" y="346.60" width="6.50" height="1.90" fill="#2aa7df" stroke="#15608f" stroke-width="0.45"/>
<line x1="480.00" y1="347.50" x2="486.50" y2="347.50" stroke="#15608f" stroke-width="0.7"/>
<line x1="483.25" y1="371.10" x2="483.25" y2="372.60" stroke="#333" stroke-width="0.5"/>
<line x1="494.20" y1="348.70" x2="494.20" y2="358.50" stroke="#1d4f73" stroke-width="0.5"/>
<line x1="493.30" y1="348.70" x2="495.10" y2="348.70" stroke="#1d4f73" stroke-width="0.5"/>
<line x1="493.30" y1="358.50" x2="495.10" y2="358.50" stroke="#1d4f73" stroke-width="0.5"/>
<rect x="491.20" y="349.50" width="6.00" height="6.20" fill="#2aa7df" stroke="#15608f" stroke-width="0.45"/>
<line x1="491.20" y1="352.60" x2="497.20" y2="352.60" stroke="#15608f" stroke-width="0.7"/>
<line x1="494.20" y1="371.10" x2="494.20" y2="372.60" stroke="#333" stroke-width="0.5"/>
<line x1="505.60" y1="345.00" x2="505.60" y2="350.30" stroke="#1d4f73" stroke-width="0.5"/>
<line x1="504.70" y1="345.00" x2="506.50" y2="345.00" stroke="#1d4f73" stroke-width="0.5"/>
<line x1="504.70" y1="350.30" x2="506.50" y2="350.30" stroke="#1d4f73" stroke-width="0.5"/>
<rect x="502.30" y="345.80" width="6.60" height="3.70" fill="#2aa7df" stroke="#15608f" stroke-width="0.45"/>
<line x1="502.30" y1="347.70" x2="508.90" y2="347.70" stroke="#15608f" stroke-width="0.7"/>
<line x1="505.60" y1="371.10" x2="505.60" y2="372.60" stroke="#333" stroke-width="0.5"/>
<line x1="483.10" y1="340.30" x2="493.10" y2="340.30" stroke="#b0b0b0" stroke-width="0.6"/>
<text x="488.10" y="341.30" font-size="5.6" text-anchor="middle" fill="#333" stroke="#333" stroke-width="0.08" letter-spacing="-0.5">**</text>
<line x1="495.10" y1="340.30" x2="504.90" y2="340.30" stroke="#b0b0b0" stroke-width="0.6"/>
<text x="500.00" y="341.30" font-size="5.6" text-anchor="middle" fill="#333" stroke="#333" stroke-width="0.08" letter-spacing="-0.5">**</text>
<text x="494.20" y="313.30" font-size="4.4" text-anchor="middle" fill="#505050" stroke="#505050" stroke-width="0.08">Inositol-3-</text>
<text x="494.20" y="318.45" font-size="4.4" text-anchor="middle" fill="#505050" stroke="#505050" stroke-width="0.08">phosphate</text>
<text x="494.20" y="323.60" font-size="4.4" text-anchor="middle" fill="#505050" stroke="#505050" stroke-width="0.08">synthase</text>
<text x="484.75" y="374.10" font-size="4.1" text-anchor="end" fill="#333" stroke="#333" stroke-width="0.08" transform="rotate(-90 484.75 374.1)">None</text>
<text x="495.70" y="374.10" font-size="4.1" text-anchor="end" fill="#333" stroke="#333" stroke-width="0.08" transform="rotate(-90 495.7 374.1)">“7+3”</text>
<text x="507.10" y="374.10" font-size="4.1" text-anchor="end" fill="#333" stroke="#333" stroke-width="0.08" transform="rotate(-90 507.1 374.1)">CPX-351</text>
<line x1="25.00" y1="430.40" x2="25.00" y2="473.10" stroke="#333" stroke-width="0.8"/>
<line x1="24.60" y1="472.70" x2="57.90" y2="472.70" stroke="#333" stroke-width="0.8"/>
<line x1="23.40" y1="430.40" x2="25.00" y2="430.40" stroke="#333" stroke-width="0.5"/>
<text x="22.60" y="431.90" font-size="4.3" text-anchor="end" fill="#444" stroke="#444" stroke-width="0.08">0</text>
<line x1="23.40" y1="444.50" x2="25.00" y2="444.50" stroke="#333" stroke-width="0.5"/>
<text x="22.60" y="446.00" font-size="4.3" text-anchor="end" fill="#444" stroke="#444" stroke-width="0.08">-1</text>
<line x1="23.40" y1="458.60" x2="25.00" y2="458.60" stroke="#333" stroke-width="0.5"/>
<text x="22.60" y="460.10" font-size="4.3" text-anchor="end" fill="#444" stroke="#444" stroke-width="0.08">-2</text>
<line x1="23.40" y1="472.70" x2="25.00" y2="472.70" stroke="#333" stroke-width="0.5"/>
<text x="22.60" y="474.20" font-size="4.3" text-anchor="end" fill="#444" stroke="#444" stroke-width="0.08">-3</text>
<line x1="30.50" y1="451.20" x2="30.50" y2="458.00" stroke="#7a1443" stroke-width="0.5"/>
<line x1="29.60" y1="451.20" x2="31.40" y2="451.20" stroke="#7a1443" stroke-width="0.5"/>
<line x1="29.60" y1="458.00" x2="31.40" y2="458.00" stroke="#7a1443" stroke-width="0.5"/>
<rect x="27.30" y="454.00" width="6.40" height="3.30" fill="#e90c79" stroke="#8c0f47" stroke-width="0.45"/>
<line x1="27.30" y1="455.50" x2="33.70" y2="455.50" stroke="#8c0f47" stroke-width="0.7"/>
<line x1="30.50" y1="472.70" x2="30.50" y2="474.20" stroke="#333" stroke-width="0.5"/>
<line x1="41.55" y1="456.90" x2="41.55" y2="461.00" stroke="#7a1443" stroke-width="0.5"/>
<line x1="40.65" y1="456.90" x2="42.45" y2="456.90" stroke="#7a1443" stroke-width="0.5"/>
<line x1="40.65" y1="461.00" x2="42.45" y2="461.00" stroke="#7a1443" stroke-width="0.5"/>
<rect x="38.50" y="458.50" width="6.10" height="1.90" fill="#e90c79" stroke="#8c0f47" stroke-width="0.45"/>
<line x1="38.50" y1="459.40" x2="44.60" y2="459.40" stroke="#8c0f47" stroke-width="0.7"/>
<line x1="41.55" y1="472.70" x2="41.55" y2="474.20" stroke="#333" stroke-width="0.5"/>
<line x1="52.40" y1="450.80" x2="52.40" y2="458.50" stroke="#7a1443" stroke-width="0.5"/>
<line x1="51.50" y1="450.80" x2="53.30" y2="450.80" stroke="#7a1443" stroke-width="0.5"/>
<line x1="51.50" y1="458.50" x2="53.30" y2="458.50" stroke="#7a1443" stroke-width="0.5"/>
<rect x="49.40" y="452.70" width="6.00" height="3.80" fill="#e90c79" stroke="#8c0f47" stroke-width="0.45"/>
<line x1="49.40" y1="454.50" x2="55.40" y2="454.50" stroke="#8c0f47" stroke-width="0.7"/>
<line x1="52.40" y1="472.70" x2="52.40" y2="474.20" stroke="#333" stroke-width="0.5"/>
<line x1="29.80" y1="447.30" x2="39.40" y2="447.30" stroke="#b0b0b0" stroke-width="0.6"/>
<text x="34.60" y="448.30" font-size="5.6" text-anchor="middle" fill="#333" stroke="#333" stroke-width="0.08" letter-spacing="-0.5">*</text>
<line x1="41.90" y1="447.30" x2="51.90" y2="447.30" stroke="#b0b0b0" stroke-width="0.6"/>
<text x="46.90" y="448.30" font-size="5.6" text-anchor="middle" fill="#333" stroke="#333" stroke-width="0.08" letter-spacing="-0.5">**</text>
<text x="41.90" y="416.00" font-size="4.4" text-anchor="middle" fill="#505050" stroke="#505050" stroke-width="0.08">Ribosome</text>
<text x="41.90" y="421.15" font-size="4.4" text-anchor="middle" fill="#505050" stroke="#505050" stroke-width="0.08">biogenesis</text>
<text x="41.90" y="426.30" font-size="4.4" text-anchor="middle" fill="#505050" stroke="#505050" stroke-width="0.08">in eukaryotes</text>
<text x="32.00" y="475.70" font-size="4.1" text-anchor="end" fill="#333" stroke="#333" stroke-width="0.08" transform="rotate(-90 32.0 475.7)">None</text>
<text x="43.05" y="475.70" font-size="4.1" text-anchor="end" fill="#333" stroke="#333" stroke-width="0.08" transform="rotate(-90 43.05 475.7)">“7+3”</text>
<text x="53.90" y="475.70" font-size="4.1" text-anchor="end" fill="#333" stroke="#333" stroke-width="0.08" transform="rotate(-90 53.9 475.7)">CPX-351</text>
<line x1="65.40" y1="430.40" x2="65.40" y2="473.10" stroke="#333" stroke-width="0.8"/>
<line x1="65.00" y1="472.70" x2="98.30" y2="472.70" stroke="#333" stroke-width="0.8"/>
<line x1="63.80" y1="430.40" x2="65.40" y2="430.40" stroke="#333" stroke-width="0.5"/>
<text x="63.00" y="431.90" font-size="4.3" text-anchor="end" fill="#444" stroke="#444" stroke-width="0.08">6</text>
<line x1="63.80" y1="444.50" x2="65.40" y2="444.50" stroke="#333" stroke-width="0.5"/>
<text x="63.00" y="446.00" font-size="4.3" text-anchor="end" fill="#444" stroke="#444" stroke-width="0.08">4</text>
<line x1="63.80" y1="458.60" x2="65.40" y2="458.60" stroke="#333" stroke-width="0.5"/>
<text x="63.00" y="460.10" font-size="4.3" text-anchor="end" fill="#444" stroke="#444" stroke-width="0.08">2</text>
<line x1="63.80" y1="472.70" x2="65.40" y2="472.70" stroke="#333" stroke-width="0.5"/>
<text x="63.00" y="474.20" font-size="4.3" text-anchor="end" fill="#444" stroke="#444" stroke-width="0.08">0</text>
<line x1="71.70" y1="449.00" x2="71.70" y2="452.30" stroke="#7a1443" stroke-width="0.5"/>
<line x1="70.80" y1="449.00" x2="72.60" y2="449.00" stroke="#7a1443" stroke-width="0.5"/>
<line x1="70.80" y1="452.30" x2="72.60" y2="452.30" stroke="#7a1443" stroke-width="0.5"/>
<rect x="68.80" y="449.80" width="5.80" height="1.70" fill="#e90c79" stroke="#8c0f47" stroke-width="0.45"/>
<line x1="68.80" y1="450.65" x2="74.60" y2="450.65" stroke="#8c0f47" stroke-width="0.7"/>
<line x1="71.70" y1="472.70" x2="71.70" y2="474.20" stroke="#333" stroke-width="0.5"/>
<line x1="82.10" y1="450.90" x2="82.10" y2="454.30" stroke="#7a1443" stroke-width="0.5"/>
<line x1="81.20" y1="450.90" x2="83.00" y2="450.90" stroke="#7a1443" stroke-width="0.5"/>
<line x1="81.20" y1="454.30" x2="83.00" y2="454.30" stroke="#7a1443" stroke-width="0.5"/>
<rect x="79.20" y="451.70" width="5.80" height="1.80" fill="#e90c79" stroke="#8c0f47" stroke-width="0.45"/>
<line x1="79.20" y1="452.60" x2="85.00" y2="452.60" stroke="#8c0f47" stroke-width="0.7"/>
<line x1="82.10" y1="472.70" x2="82.10" y2="474.20" stroke="#333" stroke-width="0.5"/>
<line x1="92.90" y1="448.80" x2="92.90" y2="452.00" stroke="#7a1443" stroke-width="0.5"/>
<line x1="92.00" y1="448.80" x2="93.80" y2="448.80" stroke="#7a1443" stroke-width="0.5"/>
<line x1="92.00" y1="452.00" x2="93.80" y2="452.00" stroke="#7a1443" stroke-width="0.5"/>
<rect x="90.00" y="449.60" width="5.80" height="1.60" fill="#e90c79" stroke="#8c0f47" stroke-width="0.45"/>
<line x1="90.00" y1="450.40" x2="95.80" y2="450.40" stroke="#8c0f47" stroke-width="0.7"/>
<line x1="92.90" y1="472.70" x2="92.90" y2="474.20" stroke="#333" stroke-width="0.5"/>
<line x1="71.20" y1="445.40" x2="80.80" y2="445.40" stroke="#b0b0b0" stroke-width="0.6"/>
<text x="76.00" y="446.40" font-size="5.6" text-anchor="middle" fill="#333" stroke="#333" stroke-width="0.08" letter-spacing="-0.5">*</text>
<line x1="82.70" y1="445.40" x2="92.30" y2="445.40" stroke="#b0b0b0" stroke-width="0.6"/>
<text x="87.50" y="446.40" font-size="5.6" text-anchor="middle" fill="#333" stroke="#333" stroke-width="0.08" letter-spacing="-0.5">***</text>
<text x="78.80" y="426.30" font-size="4.4" text-anchor="middle" fill="#505050" stroke="#505050" stroke-width="0.08">Ribosome</text>
<text x="73.20" y="475.70" font-size="4.1" text-anchor="end" fill="#333" stroke="#333" stroke-width="0.08" transform="rotate(-90 73.19999999999999 475.7)">None</text>
<text x="83.60" y="475.70" font-size="4.1" text-anchor="end" fill="#333" stroke="#333" stroke-width="0.08" transform="rotate(-90 83.6 475.7)">“7+3”</text>
<text x="94.40" y="475.70" font-size="4.1" text-anchor="end" fill="#333" stroke="#333" stroke-width="0.08" transform="rotate(-90 94.4 475.7)">CPX-351</text>
<line x1="108.10" y1="430.40" x2="108.10" y2="473.10" stroke="#333" stroke-width="0.8"/>
<line x1="107.70" y1="472.70" x2="140.80" y2="472.70" stroke="#333" stroke-width="0.8"/>
<line x1="106.50" y1="430.40" x2="108.10" y2="430.40" stroke="#333" stroke-width="0.5"/>
<text x="105.70" y="431.90" font-size="4.3" text-anchor="end" fill="#444" stroke="#444" stroke-width="0.08">6</text>
<line x1="106.50" y1="440.97" x2="108.10" y2="440.97" stroke="#333" stroke-width="0.5"/>
<text x="105.70" y="442.47" font-size="4.3" text-anchor="end" fill="#444" stroke="#444" stroke-width="0.08">4</text>
<line x1="106.50" y1="451.55" x2="108.10" y2="451.55" stroke="#333" stroke-width="0.5"/>
<text x="105.70" y="453.05" font-size="4.3" text-anchor="end" fill="#444" stroke="#444" stroke-width="0.08">2</text>
<line x1="106.50" y1="462.12" x2="108.10" y2="462.12" stroke="#333" stroke-width="0.5"/>
<text x="105.70" y="463.62" font-size="4.3" text-anchor="end" fill="#444" stroke="#444" stroke-width="0.08">0</text>
<line x1="106.50" y1="472.70" x2="108.10" y2="472.70" stroke="#333" stroke-width="0.5"/>
<text x="105.70" y="474.20" font-size="4.3" text-anchor="end" fill="#444" stroke="#444" stroke-width="0.08">-2</text>
<line x1="113.90" y1="442.50" x2="113.90" y2="451.50" stroke="#1d4f73" stroke-width="0.5"/>
<line x1="113.00" y1="442.50" x2="114.80" y2="442.50" stroke="#1d4f73" stroke-width="0.5"/>
<line x1="113.00" y1="451.50" x2="114.80" y2="451.50" stroke="#1d4f73" stroke-width="0.5"/>
<rect x="111.30" y="446.90" width="5.20" height="3.90" fill="#2aa7df" stroke="#15608f" stroke-width="0.45"/>
<line x1="111.30" y1="448.80" x2="116.50" y2="448.80" stroke="#15608f" stroke-width="0.7"/>
<line x1="113.90" y1="472.70" x2="113.90" y2="474.20" stroke="#333" stroke-width="0.5"/>
<line x1="124.60" y1="447.30" x2="124.60" y2="459.80" stroke="#1d4f73" stroke-width="0.5"/>
<line x1="123.70" y1="447.30" x2="125.50" y2="447.30" stroke="#1d4f73" stroke-width="0.5"/>
<line x1="123.70" y1="459.80" x2="125.50" y2="459.80" stroke="#1d4f73" stroke-width="0.5"/>
<rect x="121.90" y="449.20" width="5.40" height="10.00" fill="#2aa7df" stroke="#15608f" stroke-width="0.45"/>
<line x1="121.90" y1="453.50" x2="127.30" y2="453.50" stroke="#15608f" stroke-width="0.7"/>
<line x1="124.60" y1="472.70" x2="124.60" y2="474.20" stroke="#333" stroke-width="0.5"/>
<line x1="135.40" y1="444.00" x2="135.40" y2="448.10" stroke="#1d4f73" stroke-width="0.5"/>
<line x1="134.50" y1="444.00" x2="136.30" y2="444.00" stroke="#1d4f73" stroke-width="0.5"/>
<line x1="134.50" y1="448.10" x2="136.30" y2="448.10" stroke="#1d4f73" stroke-width="0.5"/>
<rect x="132.50" y="444.80" width="5.80" height="2.50" fill="#2aa7df" stroke="#15608f" stroke-width="0.45"/>
<line x1="132.50" y1="446.00" x2="138.30" y2="446.00" stroke="#15608f" stroke-width="0.7"/>
<line x1="135.40" y1="472.70" x2="135.40" y2="474.20" stroke="#333" stroke-width="0.5"/>
<line x1="124.60" y1="441.00" x2="135.80" y2="441.00" stroke="#b0b0b0" stroke-width="0.6"/>
<text x="130.20" y="442.00" font-size="5.6" text-anchor="middle" fill="#333" stroke="#333" stroke-width="0.08" letter-spacing="-0.5">**</text>
<text x="124.80" y="421.15" font-size="4.4" text-anchor="middle" fill="#505050" stroke="#505050" stroke-width="0.08">Glutamate-tRNA</text>
<text x="124.80" y="426.30" font-size="4.4" text-anchor="middle" fill="#505050" stroke="#505050" stroke-width="0.08">(Gln)</text>
<text x="115.40" y="475.70" font-size="4.1" text-anchor="end" fill="#333" stroke="#333" stroke-width="0.08" transform="rotate(-90 115.4 475.7)">None</text>
<text x="126.10" y="475.70" font-size="4.1" text-anchor="end" fill="#333" stroke="#333" stroke-width="0.08" transform="rotate(-90 126.1 475.7)">“7+3”</text>
<text x="136.90" y="475.70" font-size="4.1" text-anchor="end" fill="#333" stroke="#333" stroke-width="0.08" transform="rotate(-90 136.9 475.7)">CPX-351</text>
<line x1="157.90" y1="430.40" x2="157.90" y2="473.10" stroke="#333" stroke-width="0.8"/>
<line x1="157.50" y1="472.70" x2="190.80" y2="472.70" stroke="#333" stroke-width="0.8"/>
<line x1="156.30" y1="430.40" x2="157.90" y2="430.40" stroke="#333" stroke-width="0.5"/>
<text x="155.50" y="431.90" font-size="4.3" text-anchor="end" fill="#444" stroke="#444" stroke-width="0.08">4</text>
<line x1="156.30" y1="440.97" x2="157.90" y2="440.97" stroke="#333" stroke-width="0.5"/>
<text x="155.50" y="442.47" font-size="4.3" text-anchor="end" fill="#444" stroke="#444" stroke-width="0.08">3</text>
<line x1="156.30" y1="451.55" x2="157.90" y2="451.55" stroke="#333" stroke-width="0.5"/>
<text x="155.50" y="453.05" font-size="4.3" text-anchor="end" fill="#444" stroke="#444" stroke-width="0.08">2</text>
<line x1="156.30" y1="462.12" x2="157.90" y2="462.12" stroke="#333" stroke-width="0.5"/>
<text x="155.50" y="463.62" font-size="4.3" text-anchor="end" fill="#444" stroke="#444" stroke-width="0.08">1</text>
<line x1="156.30" y1="472.70" x2="157.90" y2="472.70" stroke="#333" stroke-width="0.5"/>
<text x="155.50" y="474.20" font-size="4.3" text-anchor="end" fill="#444" stroke="#444" stroke-width="0.08">0</text>
<line x1="163.10" y1="446.00" x2="163.10" y2="451.50" stroke="#7a1443" stroke-width="0.5"/>
<line x1="162.20" y1="446.00" x2="164.00" y2="446.00" stroke="#7a1443" stroke-width="0.5"/>
<line x1="162.20" y1="451.50" x2="164.00" y2="451.50" stroke="#7a1443" stroke-width="0.5"/>
<rect x="160.00" y="448.30" width="6.20" height="2.50" fill="#e90c79" stroke="#8c0f47" stroke-width="0.45"/>
<line x1="160.00" y1="449.50" x2="166.20" y2="449.50" stroke="#8c0f47" stroke-width="0.7"/>
<line x1="163.10" y1="472.70" x2="163.10" y2="474.20" stroke="#333" stroke-width="0.5"/>
<line x1="174.40" y1="450.40" x2="174.40" y2="454.30" stroke="#7a1443" stroke-width="0.5"/>
<line x1="173.50" y1="450.40" x2="175.30" y2="450.40" stroke="#7a1443" stroke-width="0.5"/>
<line x1="173.50" y1="454.30" x2="175.30" y2="454.30" stroke="#7a1443" stroke-width="0.5"/>
<rect x="171.50" y="451.20" width="5.80" height="2.30" fill="#e90c79" stroke="#8c0f47" stroke-width="0.45"/>
<line x1="171.50" y1="452.30" x2="177.30" y2="452.30" stroke="#8c0f47" stroke-width="0.7"/>
<line x1="174.40" y1="472.70" x2="174.40" y2="474.20" stroke="#333" stroke-width="0.5"/>
<line x1="185.40" y1="446.90" x2="185.40" y2="451.00" stroke="#7a1443" stroke-width="0.5"/>
<line x1="184.50" y1="446.90" x2="186.30" y2="446.90" stroke="#7a1443" stroke-width="0.5"/>
<line x1="184.50" y1="451.00" x2="186.30" y2="451.00" stroke="#7a1443" stroke-width="0.5"/>
<rect x="182.50" y="447.70" width="5.80" height="2.50" fill="#e90c79" stroke="#8c0f47" stroke-width="0.45"/>
<line x1="182.50" y1="449.00" x2="188.30" y2="449.00" stroke="#8c0f47" stroke-width="0.7"/>
<line x1="185.40" y1="472.70" x2="185.40" y2="474.20" stroke="#333" stroke-width="0.5"/>
<line x1="163.00" y1="442.50" x2="174.00" y2="442.50" stroke="#b0b0b0" stroke-width="0.6"/>
<text x="168.50" y="443.50" font-size="5.6" text-anchor="middle" fill="#333" stroke="#333" stroke-width="0.08" letter-spacing="-0.5">*</text>
<line x1="176.00" y1="442.50" x2="186.00" y2="442.50" stroke="#b0b0b0" stroke-width="0.6"/>
<text x="181.00" y="443.50" font-size="5.6" text-anchor="middle" fill="#333" stroke="#333" stroke-width="0.08" letter-spacing="-0.5">*</text>
<text x="175.40" y="421.15" font-size="4.4" text-anchor="middle" fill="#505050" stroke="#505050" stroke-width="0.08">Purine</text>
<text x="175.40" y="426.30" font-size="4.4" text-anchor="middle" fill="#505050" stroke="#505050" stroke-width="0.08">metabolism</text>
<text x="164.60" y="475.70" font-size="4.1" text-anchor="end" fill="#333" stroke="#333" stroke-width="0.08" transform="rotate(-90 164.6 475.7)">None</text>
<text x="175.90" y="475.70" font-size="4.1" text-anchor="end" fill="#333" stroke="#333" stroke-width="0.08" transform="rotate(-90 175.9 475.7)">“7+3”</text>
<text x="186.90" y="475.70" font-size="4.1" text-anchor="end" fill="#333" stroke="#333" stroke-width="0.08" transform="rotate(-90 186.9 475.7)">CPX-351</text>
<line x1="199.20" y1="430.40" x2="199.20" y2="473.10" stroke="#333" stroke-width="0.8"/>
<line x1="198.80" y1="472.70" x2="232.50" y2="472.70" stroke="#333" stroke-width="0.8"/>
<line x1="197.60" y1="430.40" x2="199.20" y2="430.40" stroke="#333" stroke-width="0.5"/>
<text x="196.80" y="431.90" font-size="4.3" text-anchor="end" fill="#444" stroke="#444" stroke-width="0.08">4</text>
<line x1="197.60" y1="440.97" x2="199.20" y2="440.97" stroke="#333" stroke-width="0.5"/>
<text x="196.80" y="442.47" font-size="4.3" text-anchor="end" fill="#444" stroke="#444" stroke-width="0.08">3</text>
<line x1="197.60" y1="451.55" x2="199.20" y2="451.55" stroke="#333" stroke-width="0.5"/>
<text x="196.80" y="453.05" font-size="4.3" text-anchor="end" fill="#444" stroke="#444" stroke-width="0.08">2</text>
<line x1="197.60" y1="462.12" x2="199.20" y2="462.12" stroke="#333" stroke-width="0.5"/>
<text x="196.80" y="463.62" font-size="4.3" text-anchor="end" fill="#444" stroke="#444" stroke-width="0.08">1</text>
<line x1="197.60" y1="472.70" x2="199.20" y2="472.70" stroke="#333" stroke-width="0.5"/>
<text x="196.80" y="474.20" font-size="4.3" text-anchor="end" fill="#444" stroke="#444" stroke-width="0.08">0</text>
<line x1="205.10" y1="440.60" x2="205.10" y2="447.00" stroke="#7a1443" stroke-width="0.5"/>
<line x1="204.20" y1="440.60" x2="206.00" y2="440.60" stroke="#7a1443" stroke-width="0.5"/>
<line x1="204.20" y1="447.00" x2="206.00" y2="447.00" stroke="#7a1443" stroke-width="0.5"/>
<rect x="201.90" y="443.10" width="6.40" height="3.20" fill="#e90c79" stroke="#8c0f47" stroke-width="0.45"/>
<line x1="201.90" y1="444.70" x2="208.30" y2="444.70" stroke="#8c0f47" stroke-width="0.7"/>
<line x1="205.10" y1="472.70" x2="205.10" y2="474.20" stroke="#333" stroke-width="0.5"/>
<line x1="215.75" y1="445.50" x2="215.75" y2="450.40" stroke="#7a1443" stroke-width="0.5"/>
<line x1="214.85" y1="445.50" x2="216.65" y2="445.50" stroke="#7a1443" stroke-width="0.5"/>
<line x1="214.85" y1="450.40" x2="216.65" y2="450.40" stroke="#7a1443" stroke-width="0.5"/>
<rect x="212.70" y="446.30" width="6.10" height="3.30" fill="#e90c79" stroke="#8c0f47" stroke-width="0.45"/>
<line x1="212.70" y1="448.00" x2="218.80" y2="448.00" stroke="#8c0f47" stroke-width="0.7"/>
<line x1="215.75" y1="472.70" x2="215.75" y2="474.20" stroke="#333" stroke-width="0.5"/>
<line x1="226.85" y1="441.70" x2="226.85" y2="446.90" stroke="#7a1443" stroke-width="0.5"/>
<line x1="225.95" y1="441.70" x2="227.75" y2="441.70" stroke="#7a1443" stroke-width="0.5"/>
<line x1="225.95" y1="446.90" x2="227.75" y2="446.90" stroke="#7a1443" stroke-width="0.5"/>
<rect x="223.70" y="442.50" width="6.30" height="3.30" fill="#e90c79" stroke="#8c0f47" stroke-width="0.45"/>
<line x1="223.70" y1="444.20" x2="230.00" y2="444.20" stroke="#8c0f47" stroke-width="0.7"/>
<line x1="226.85" y1="472.70" x2="226.85" y2="474.20" stroke="#333" stroke-width="0.5"/>
<line x1="204.40" y1="439.20" x2="214.00" y2="439.20" stroke="#b0b0b0" stroke-width="0.6"/>
<text x="209.20" y="440.20" font-size="5.6" text-anchor="middle" fill="#333" stroke="#333" stroke-width="0.08" letter-spacing="-0.5">*</text>
<line x1="215.40" y1="439.20" x2="225.00" y2="439.20" stroke="#b0b0b0" stroke-width="0.6"/>
<text x="220.20" y="440.20" font-size="5.6" text-anchor="middle" fill="#333" stroke="#333" stroke-width="0.08" letter-spacing="-0.5">*</text>
<text x="216.00" y="421.15" font-size="4.4" text-anchor="middle" fill="#505050" stroke="#505050" stroke-width="0.08">Pyrimidine</text>
<text x="216.00" y="426.30" font-size="4.4" text-anchor="middle" fill="#505050" stroke="#505050" stroke-width="0.08">metabolism</text>
<text x="206.60" y="475.70" font-size="4.1" text-anchor="end" fill="#333" stroke="#333" stroke-width="0.08" transform="rotate(-90 206.60000000000002 475.7)">None</text>
<text x="217.25" y="475.70" font-size="4.1" text-anchor="end" fill="#333" stroke="#333" stroke-width="0.08" transform="rotate(-90 217.25 475.7)">“7+3”</text>
<text x="228.35" y="475.70" font-size="4.1" text-anchor="end" fill="#333" stroke="#333" stroke-width="0.08" transform="rotate(-90 228.35 475.7)">CPX-351</text>
<line x1="256.80" y1="430.40" x2="256.80" y2="473.10" stroke="#333" stroke-width="0.8"/>
<line x1="256.40" y1="472.70" x2="290.50" y2="472.70" stroke="#333" stroke-width="0.8"/>
<line x1="255.20" y1="430.40" x2="256.80" y2="430.40" stroke="#333" stroke-width="0.5"/>
<text x="254.40" y="431.90" font-size="4.3" text-anchor="end" fill="#444" stroke="#444" stroke-width="0.08">0</text>
<line x1="255.20" y1="438.86" x2="256.80" y2="438.86" stroke="#333" stroke-width="0.5"/>
<text x="254.40" y="440.36" font-size="4.3" text-anchor="end" fill="#444" stroke="#444" stroke-width="0.08">-2</text>
<line x1="255.20" y1="447.32" x2="256.80" y2="447.32" stroke="#333" stroke-width="0.5"/>
<text x="254.40" y="448.82" font-size="4.3" text-anchor="end" fill="#444" stroke="#444" stroke-width="0.08">-4</text>
<line x1="255.20" y1="455.78" x2="256.80" y2="455.78" stroke="#333" stroke-width="0.5"/>
<text x="254.40" y="457.28" font-size="4.3" text-anchor="end" fill="#444" stroke="#444" stroke-width="0.08">-6</text>
<line x1="255.20" y1="464.24" x2="256.80" y2="464.24" stroke="#333" stroke-width="0.5"/>
<text x="254.40" y="465.74" font-size="4.3" text-anchor="end" fill="#444" stroke="#444" stroke-width="0.08">-8</text>
<line x1="255.20" y1="472.70" x2="256.80" y2="472.70" stroke="#333" stroke-width="0.5"/>
<text x="254.40" y="474.20" font-size="4.3" text-anchor="end" fill="#444" stroke="#444" stroke-width="0.08">-10</text>
<line x1="262.80" y1="450.10" x2="262.80" y2="469.00" stroke="#7a1443" stroke-width="0.5"/>
<line x1="261.90" y1="450.10" x2="263.70" y2="450.10" stroke="#7a1443" stroke-width="0.5"/>
<line x1="261.90" y1="469.00" x2="263.70" y2="469.00" stroke="#7a1443" stroke-width="0.5"/>
<rect x="260.00" y="451.70" width="5.60" height="10.10" fill="#e90c79" stroke="#8c0f47" stroke-width="0.45"/>
<line x1="260.00" y1="454.60" x2="265.60" y2="454.60" stroke="#8c0f47" stroke-width="0.7"/>
<line x1="262.80" y1="472.70" x2="262.80" y2="474.20" stroke="#333" stroke-width="0.5"/>
<line x1="273.85" y1="440.10" x2="273.85" y2="455.40" stroke="#7a1443" stroke-width="0.5"/>
<line x1="272.95" y1="440.10" x2="274.75" y2="440.10" stroke="#7a1443" stroke-width="0.5"/>
<line x1="272.95" y1="455.40" x2="274.75" y2="455.40" stroke="#7a1443" stroke-width="0.5"/>
<rect x="271.00" y="440.90" width="5.70" height="11.60" fill="#e90c79" stroke="#8c0f47" stroke-width="0.45"/>
<line x1="271.00" y1="446.70" x2="276.70" y2="446.70" stroke="#8c0f47" stroke-width="0.7"/>
<line x1="273.85" y1="472.70" x2="273.85" y2="474.20" stroke="#333" stroke-width="0.5"/>
<line x1="284.85" y1="441.50" x2="284.85" y2="444.60" stroke="#7a1443" stroke-width="0.5"/>
<line x1="283.95" y1="441.50" x2="285.75" y2="441.50" stroke="#7a1443" stroke-width="0.5"/>
<line x1="283.95" y1="444.60" x2="285.75" y2="444.60" stroke="#7a1443" stroke-width="0.5"/>
<rect x="281.70" y="442.30" width="6.30" height="1.50" fill="#e90c79" stroke="#8c0f47" stroke-width="0.45"/>
<line x1="281.70" y1="443.00" x2="288.00" y2="443.00" stroke="#8c0f47" stroke-width="0.7"/>
<line x1="284.85" y1="472.70" x2="284.85" y2="474.20" stroke="#333" stroke-width="0.5"/>
<line x1="262.70" y1="431.30" x2="285.20" y2="431.30" stroke="#b0b0b0" stroke-width="0.6"/>
<text x="273.95" y="432.30" font-size="5.6" text-anchor="middle" fill="#333" stroke="#333" stroke-width="0.08" letter-spacing="-0.5">**</text>
<line x1="262.70" y1="438.00" x2="273.00" y2="438.00" stroke="#b0b0b0" stroke-width="0.6"/>
<text x="267.85" y="439.00" font-size="5.6" text-anchor="middle" fill="#333" stroke="#333" stroke-width="0.08" letter-spacing="-0.5">*</text>
<text x="273.60" y="421.15" font-size="4.4" text-anchor="middle" fill="#505050" stroke="#505050" stroke-width="0.08">Steroid</text>
<text x="273.60" y="426.30" font-size="4.4" text-anchor="middle" fill="#505050" stroke="#505050" stroke-width="0.08">biosynthesis</text>
<text x="264.30" y="475.70" font-size="4.1" text-anchor="end" fill="#333" stroke="#333" stroke-width="0.08" transform="rotate(-90 264.3 475.7)">None</text>
<text x="275.35" y="475.70" font-size="4.1" text-anchor="end" fill="#333" stroke="#333" stroke-width="0.08" transform="rotate(-90 275.35 475.7)">“7+3”</text>
<text x="286.35" y="475.70" font-size="4.1" text-anchor="end" fill="#333" stroke="#333" stroke-width="0.08" transform="rotate(-90 286.35 475.7)">CPX-351</text>
<line x1="301.30" y1="430.40" x2="301.30" y2="473.10" stroke="#333" stroke-width="0.8"/>
<line x1="300.90" y1="472.70" x2="335.70" y2="472.70" stroke="#333" stroke-width="0.8"/>
<line x1="299.70" y1="430.40" x2="301.30" y2="430.40" stroke="#333" stroke-width="0.5"/>
<text x="298.90" y="431.90" font-size="4.3" text-anchor="end" fill="#444" stroke="#444" stroke-width="0.08">-1</text>
<line x1="299.70" y1="444.50" x2="301.30" y2="444.50" stroke="#333" stroke-width="0.5"/>
<text x="298.90" y="446.00" font-size="4.3" text-anchor="end" fill="#444" stroke="#444" stroke-width="0.08">-2</text>
<line x1="299.70" y1="458.60" x2="301.30" y2="458.60" stroke="#333" stroke-width="0.5"/>
<text x="298.90" y="460.10" font-size="4.3" text-anchor="end" fill="#444" stroke="#444" stroke-width="0.08">-3</text>
<line x1="299.70" y1="472.70" x2="301.30" y2="472.70" stroke="#333" stroke-width="0.5"/>
<text x="298.90" y="474.20" font-size="4.3" text-anchor="end" fill="#444" stroke="#444" stroke-width="0.08">-4</text>
<line x1="307.55" y1="456.60" x2="307.55" y2="464.80" stroke="#7a1443" stroke-width="0.5"/>
<line x1="306.65" y1="456.60" x2="308.45" y2="456.60" stroke="#7a1443" stroke-width="0.5"/>
<line x1="306.65" y1="464.80" x2="308.45" y2="464.80" stroke="#7a1443" stroke-width="0.5"/>
<rect x="304.30" y="458.80" width="6.50" height="3.00" fill="#e90c79" stroke="#8c0f47" stroke-width="0.45"/>
<line x1="304.30" y1="460.30" x2="310.80" y2="460.30" stroke="#8c0f47" stroke-width="0.7"/>
<line x1="307.55" y1="472.70" x2="307.55" y2="474.20" stroke="#333" stroke-width="0.5"/>
<line x1="318.70" y1="449.60" x2="318.70" y2="459.20" stroke="#7a1443" stroke-width="0.5"/>
<line x1="317.80" y1="449.60" x2="319.60" y2="449.60" stroke="#7a1443" stroke-width="0.5"/>
<line x1="317.80" y1="459.20" x2="319.60" y2="459.20" stroke="#7a1443" stroke-width="0.5"/>
<rect x="315.60" y="451.50" width="6.20" height="6.20" fill="#e90c79" stroke="#8c0f47" stroke-width="0.45"/>
<line x1="315.60" y1="454.60" x2="321.80" y2="454.60" stroke="#8c0f47" stroke-width="0.7"/>
<line x1="318.70" y1="472.70" x2="318.70" y2="474.20" stroke="#333" stroke-width="0.5"/>
<line x1="329.90" y1="452.40" x2="329.90" y2="458.50" stroke="#7a1443" stroke-width="0.5"/>
<line x1="329.00" y1="452.40" x2="330.80" y2="452.40" stroke="#7a1443" stroke-width="0.5"/>
<line x1="329.00" y1="458.50" x2="330.80" y2="458.50" stroke="#7a1443" stroke-width="0.5"/>
<rect x="326.60" y="453.20" width="6.60" height="4.50" fill="#e90c79" stroke="#8c0f47" stroke-width="0.45"/>
<line x1="326.60" y1="455.40" x2="333.20" y2="455.40" stroke="#8c0f47" stroke-width="0.7"/>
<line x1="329.90" y1="472.70" x2="329.90" y2="474.20" stroke="#333" stroke-width="0.5"/>
<line x1="306.20" y1="439.40" x2="329.20" y2="439.40" stroke="#b0b0b0" stroke-width="0.6"/>
<text x="317.70" y="440.40" font-size="5.6" text-anchor="middle" fill="#333" stroke="#333" stroke-width="0.08" letter-spacing="-0.5">*</text>
<line x1="306.20" y1="446.60" x2="317.50" y2="446.60" stroke="#b0b0b0" stroke-width="0.6"/>
<text x="311.85" y="447.60" font-size="5.6" text-anchor="middle" fill="#333" stroke="#333" stroke-width="0.08" letter-spacing="-0.5">*</text>
<text x="318.20" y="421.15" font-size="4.4" text-anchor="middle" fill="#505050" stroke="#505050" stroke-width="0.08">Steroid hormone</text>
<text x="318.20" y="426.30" font-size="4.4" text-anchor="middle" fill="#505050" stroke="#505050" stroke-width="0.08">biosynthesis</text>
<text x="309.05" y="475.70" font-size="4.1" text-anchor="end" fill="#333" stroke="#333" stroke-width="0.08" transform="rotate(-90 309.05 475.7)">None</text>
<text x="320.20" y="475.70" font-size="4.1" text-anchor="end" fill="#333" stroke="#333" stroke-width="0.08" transform="rotate(-90 320.20000000000005 475.7)">“7+3”</text>
<text x="331.40" y="475.70" font-size="4.1" text-anchor="end" fill="#333" stroke="#333" stroke-width="0.08" transform="rotate(-90 331.4 475.7)">CPX-351</text>
<line x1="346.50" y1="430.40" x2="346.50" y2="473.10" stroke="#333" stroke-width="0.8"/>
<line x1="346.10" y1="472.70" x2="381.10" y2="472.70" stroke="#333" stroke-width="0.8"/>
<line x1="344.90" y1="430.40" x2="346.50" y2="430.40" stroke="#333" stroke-width="0.5"/>
<text x="344.10" y="431.90" font-size="4.3" text-anchor="end" fill="#444" stroke="#444" stroke-width="0.08">2</text>
<line x1="344.90" y1="444.50" x2="346.50" y2="444.50" stroke="#333" stroke-width="0.5"/>
<text x="344.10" y="446.00" font-size="4.3" text-anchor="end" fill="#444" stroke="#444" stroke-width="0.08">1</text>
<line x1="344.90" y1="458.60" x2="346.50" y2="458.60" stroke="#333" stroke-width="0.5"/>
<text x="344.10" y="460.10" font-size="4.3" text-anchor="end" fill="#444" stroke="#444" stroke-width="0.08">0</text>
<line x1="344.90" y1="472.70" x2="346.50" y2="472.70" stroke="#333" stroke-width="0.5"/>
<text x="344.10" y="474.20" font-size="4.3" text-anchor="end" fill="#444" stroke="#444" stroke-width="0.08">-1</text>
<line x1="352.50" y1="444.30" x2="352.50" y2="455.20" stroke="#7a1443" stroke-width="0.5"/>
<line x1="351.60" y1="444.30" x2="353.40" y2="444.30" stroke="#7a1443" stroke-width="0.5"/>
<line x1="351.60" y1="455.20" x2="353.40" y2="455.20" stroke="#7a1443" stroke-width="0.5"/>
<rect x="349.30" y="450.30" width="6.40" height="4.30" fill="#e90c79" stroke="#8c0f47" stroke-width="0.45"/>
<line x1="349.30" y1="452.70" x2="355.70" y2="452.70" stroke="#8c0f47" stroke-width="0.7"/>
<line x1="352.50" y1="472.70" x2="352.50" y2="474.20" stroke="#333" stroke-width="0.5"/>
<line x1="363.60" y1="451.40" x2="363.60" y2="465.50" stroke="#7a1443" stroke-width="0.5"/>
<line x1="362.70" y1="451.40" x2="364.50" y2="451.40" stroke="#7a1443" stroke-width="0.5"/>
<line x1="362.70" y1="465.50" x2="364.50" y2="465.50" stroke="#7a1443" stroke-width="0.5"/>
<rect x="360.60" y="452.70" width="6.00" height="10.90" fill="#e90c79" stroke="#8c0f47" stroke-width="0.45"/>
<line x1="360.60" y1="458.00" x2="366.60" y2="458.00" stroke="#8c0f47" stroke-width="0.7"/>
<line x1="363.60" y1="472.70" x2="363.60" y2="474.20" stroke="#333" stroke-width="0.5"/>
<line x1="375.30" y1="447.30" x2="375.30" y2="455.60" stroke="#7a1443" stroke-width="0.5"/>
<line x1="374.40" y1="447.30" x2="376.20" y2="447.30" stroke="#7a1443" stroke-width="0.5"/>
<line x1="374.40" y1="455.60" x2="376.20" y2="455.60" stroke="#7a1443" stroke-width="0.5"/>
<rect x="372.00" y="449.50" width="6.60" height="3.40" fill="#e90c79" stroke="#8c0f47" stroke-width="0.45"/>
<line x1="372.00" y1="451.20" x2="378.60" y2="451.20" stroke="#8c0f47" stroke-width="0.7"/>
<line x1="375.30" y1="472.70" x2="375.30" y2="474.20" stroke="#333" stroke-width="0.5"/>
<line x1="351.30" y1="440.70" x2="362.90" y2="440.70" stroke="#b0b0b0" stroke-width="0.6"/>
<text x="357.10" y="441.70" font-size="5.6" text-anchor="middle" fill="#333" stroke="#333" stroke-width="0.08" letter-spacing="-0.5">*</text>
<line x1="364.50" y1="444.30" x2="375.40" y2="444.30" stroke="#b0b0b0" stroke-width="0.6"/>
<text x="369.95" y="445.30" font-size="5.6" text-anchor="middle" fill="#333" stroke="#333" stroke-width="0.08" letter-spacing="-0.5">*</text>
<text x="364.00" y="421.15" font-size="4.4" text-anchor="middle" fill="#505050" stroke="#505050" stroke-width="0.08">Primary bile acid</text>
<text x="364.00" y="426.30" font-size="4.4" text-anchor="middle" fill="#505050" stroke="#505050" stroke-width="0.08">biosynthesis</text>
<text x="354.00" y="475.70" font-size="4.1" text-anchor="end" fill="#333" stroke="#333" stroke-width="0.08" transform="rotate(-90 354.0 475.7)">None</text>
<text x="365.10" y="475.70" font-size="4.1" text-anchor="end" fill="#333" stroke="#333" stroke-width="0.08" transform="rotate(-90 365.1 475.7)">“7+3”</text>
<text x="376.80" y="475.70" font-size="4.1" text-anchor="end" fill="#333" stroke="#333" stroke-width="0.08" transform="rotate(-90 376.8 475.7)">CPX-351</text>
<line x1="389.70" y1="430.40" x2="389.70" y2="473.10" stroke="#333" stroke-width="0.8"/>
<line x1="389.30" y1="472.70" x2="423.80" y2="472.70" stroke="#333" stroke-width="0.8"/>
<line x1="388.10" y1="430.40" x2="389.70" y2="430.40" stroke="#333" stroke-width="0.5"/>
<text x="387.30" y="431.90" font-size="4.3" text-anchor="end" fill="#444" stroke="#444" stroke-width="0.08">6</text>
<line x1="388.10" y1="444.50" x2="389.70" y2="444.50" stroke="#333" stroke-width="0.5"/>
<text x="387.30" y="446.00" font-size="4.3" text-anchor="end" fill="#444" stroke="#444" stroke-width="0.08">4</text>
<line x1="388.10" y1="458.60" x2="389.70" y2="458.60" stroke="#333" stroke-width="0.5"/>
<text x="387.30" y="460.10" font-size="4.3" text-anchor="end" fill="#444" stroke="#444" stroke-width="0.08">2</text>
<line x1="388.10" y1="472.70" x2="389.70" y2="472.70" stroke="#333" stroke-width="0.5"/>
<text x="387.30" y="474.20" font-size="4.3" text-anchor="end" fill="#444" stroke="#444" stroke-width="0.08">0</text>
<line x1="395.20" y1="442.90" x2="395.20" y2="449.30" stroke="#7a1443" stroke-width="0.5"/>
<line x1="394.30" y1="442.90" x2="396.10" y2="442.90" stroke="#7a1443" stroke-width="0.5"/>
<line x1="394.30" y1="449.30" x2="396.10" y2="449.30" stroke="#7a1443" stroke-width="0.5"/>
<rect x="391.90" y="446.00" width="6.60" height="2.70" fill="#e90c79" stroke="#8c0f47" stroke-width="0.45"/>
<line x1="391.90" y1="447.30" x2="398.50" y2="447.30" stroke="#8c0f47" stroke-width="0.7"/>
<line x1="395.20" y1="472.70" x2="395.20" y2="474.20" stroke="#333" stroke-width="0.5"/>
<line x1="406.75" y1="446.80" x2="406.75" y2="454.00" stroke="#7a1443" stroke-width="0.5"/>
<line x1="405.85" y1="446.80" x2="407.65" y2="446.80" stroke="#7a1443" stroke-width="0.5"/>
<line x1="405.85" y1="454.00" x2="407.65" y2="454.00" stroke="#7a1443" stroke-width="0.5"/>
<rect x="403.70" y="447.60" width="6.10" height="5.60" fill="#e90c79" stroke="#8c0f47" stroke-width="0.45"/>
<line x1="403.70" y1="450.20" x2="409.80" y2="450.20" stroke="#8c0f47" stroke-width="0.7"/>
<line x1="406.75" y1="472.70" x2="406.75" y2="474.20" stroke="#333" stroke-width="0.5"/>
<line x1="417.95" y1="444.70" x2="417.95" y2="448.80" stroke="#7a1443" stroke-width="0.5"/>
<line x1="417.05" y1="444.70" x2="418.85" y2="444.70" stroke="#7a1443" stroke-width="0.5"/>
<line x1="417.05" y1="448.80" x2="418.85" y2="448.80" stroke="#7a1443" stroke-width="0.5"/>
<rect x="414.60" y="445.50" width="6.70" height="2.30" fill="#e90c79" stroke="#8c0f47" stroke-width="0.45"/>
<line x1="414.60" y1="446.60" x2="421.30" y2="446.60" stroke="#8c0f47" stroke-width="0.7"/>
<line x1="417.95" y1="472.70" x2="417.95" y2="474.20" stroke="#333" stroke-width="0.5"/>
<line x1="395.00" y1="440.70" x2="404.80" y2="440.70" stroke="#b0b0b0" stroke-width="0.6"/>
<text x="399.90" y="441.70" font-size="5.6" text-anchor="middle" fill="#333" stroke="#333" stroke-width="0.08" letter-spacing="-0.5">*</text>
<line x1="407.90" y1="440.70" x2="417.80" y2="440.70" stroke="#b0b0b0" stroke-width="0.6"/>
<text x="412.85" y="441.70" font-size="5.6" text-anchor="middle" fill="#333" stroke="#333" stroke-width="0.08" letter-spacing="-0.5">*</text>
<text x="407.20" y="421.15" font-size="4.4" text-anchor="middle" fill="#505050" stroke="#505050" stroke-width="0.08">Secondary bile</text>
<text x="407.20" y="426.30" font-size="4.4" text-anchor="middle" fill="#505050" stroke="#505050" stroke-width="0.08">acid biosynthesis</text>
<text x="396.70" y="475.70" font-size="4.1" text-anchor="end" fill="#333" stroke="#333" stroke-width="0.08" transform="rotate(-90 396.7 475.7)">None</text>
<text x="408.25" y="475.70" font-size="4.1" text-anchor="end" fill="#333" stroke="#333" stroke-width="0.08" transform="rotate(-90 408.25 475.7)">“7+3”</text>
<text x="419.45" y="475.70" font-size="4.1" text-anchor="end" fill="#333" stroke="#333" stroke-width="0.08" transform="rotate(-90 419.45000000000005 475.7)">CPX-351</text>
<line x1="432.40" y1="430.40" x2="432.40" y2="473.10" stroke="#333" stroke-width="0.8"/>
<line x1="432.00" y1="472.70" x2="466.30" y2="472.70" stroke="#333" stroke-width="0.8"/>
<line x1="430.80" y1="430.40" x2="432.40" y2="430.40" stroke="#333" stroke-width="0.5"/>
<text x="430.00" y="431.90" font-size="4.3" text-anchor="end" fill="#444" stroke="#444" stroke-width="0.08">3</text>
<line x1="430.80" y1="444.50" x2="432.40" y2="444.50" stroke="#333" stroke-width="0.5"/>
<text x="430.00" y="446.00" font-size="4.3" text-anchor="end" fill="#444" stroke="#444" stroke-width="0.08">2</text>
<line x1="430.80" y1="458.60" x2="432.40" y2="458.60" stroke="#333" stroke-width="0.5"/>
<text x="430.00" y="460.10" font-size="4.3" text-anchor="end" fill="#444" stroke="#444" stroke-width="0.08">1</text>
<line x1="430.80" y1="472.70" x2="432.40" y2="472.70" stroke="#333" stroke-width="0.5"/>
<text x="430.00" y="474.20" font-size="4.3" text-anchor="end" fill="#444" stroke="#444" stroke-width="0.08">0</text>
<line x1="438.15" y1="448.80" x2="438.15" y2="456.60" stroke="#7a1443" stroke-width="0.5"/>
<line x1="437.25" y1="448.80" x2="439.05" y2="448.80" stroke="#7a1443" stroke-width="0.5"/>
<line x1="437.25" y1="456.60" x2="439.05" y2="456.60" stroke="#7a1443" stroke-width="0.5"/>
<rect x="435.10" y="451.20" width="6.10" height="4.80" fill="#e90c79" stroke="#8c0f47" stroke-width="0.45"/>
<line x1="435.10" y1="453.50" x2="441.20" y2="453.50" stroke="#8c0f47" stroke-width="0.7"/>
<line x1="438.15" y1="472.70" x2="438.15" y2="474.20" stroke="#333" stroke-width="0.5"/>
<line x1="449.45" y1="453.10" x2="449.45" y2="458.40" stroke="#7a1443" stroke-width="0.5"/>
<line x1="448.55" y1="453.10" x2="450.35" y2="453.10" stroke="#7a1443" stroke-width="0.5"/>
<line x1="448.55" y1="458.40" x2="450.35" y2="458.40" stroke="#7a1443" stroke-width="0.5"/>
<rect x="446.40" y="455.10" width="6.10" height="2.70" fill="#e90c79" stroke="#8c0f47" stroke-width="0.45"/>
<line x1="446.40" y1="456.40" x2="452.50" y2="456.40" stroke="#8c0f47" stroke-width="0.7"/>
<line x1="449.45" y1="472.70" x2="449.45" y2="474.20" stroke="#333" stroke-width="0.5"/>
<line x1="460.75" y1="451.00" x2="460.75" y2="456.50" stroke="#7a1443" stroke-width="0.5"/>
<line x1="459.85" y1="451.00" x2="461.65" y2="451.00" stroke="#7a1443" stroke-width="0.5"/>
<line x1="459.85" y1="456.50" x2="461.65" y2="456.50" stroke="#7a1443" stroke-width="0.5"/>
<rect x="457.70" y="451.80" width="6.10" height="2.80" fill="#e90c79" stroke="#8c0f47" stroke-width="0.45"/>
<line x1="457.70" y1="453.20" x2="463.80" y2="453.20" stroke="#8c0f47" stroke-width="0.7"/>
<line x1="460.75" y1="472.70" x2="460.75" y2="474.20" stroke="#333" stroke-width="0.5"/>
<line x1="437.30" y1="446.10" x2="447.70" y2="446.10" stroke="#b0b0b0" stroke-width="0.6"/>
<text x="442.50" y="447.10" font-size="5.6" text-anchor="middle" fill="#333" stroke="#333" stroke-width="0.08" letter-spacing="-0.5">*</text>
<text x="449.40" y="421.15" font-size="4.4" text-anchor="middle" fill="#505050" stroke="#505050" stroke-width="0.08">Sphingolipid</text>
<text x="449.40" y="426.30" font-size="4.4" text-anchor="middle" fill="#505050" stroke="#505050" stroke-width="0.08">metabolism</text>
<text x="439.65" y="475.70" font-size="4.1" text-anchor="end" fill="#333" stroke="#333" stroke-width="0.08" transform="rotate(-90 439.65 475.7)">None</text>
<text x="450.95" y="475.70" font-size="4.1" text-anchor="end" fill="#333" stroke="#333" stroke-width="0.08" transform="rotate(-90 450.95 475.7)">“7+3”</text>
<text x="462.25" y="475.70" font-size="4.1" text-anchor="end" fill="#333" stroke="#333" stroke-width="0.08" transform="rotate(-90 462.25 475.7)">CPX-351</text>
<line x1="476.20" y1="430.40" x2="476.20" y2="473.10" stroke="#333" stroke-width="0.8"/>
<line x1="475.80" y1="472.70" x2="511.30" y2="472.70" stroke="#333" stroke-width="0.8"/>
<line x1="474.60" y1="430.40" x2="476.20" y2="430.40" stroke="#333" stroke-width="0.5"/>
<text x="473.80" y="431.90" font-size="4.3" text-anchor="end" fill="#444" stroke="#444" stroke-width="0.08">6</text>
<line x1="474.60" y1="440.97" x2="476.20" y2="440.97" stroke="#333" stroke-width="0.5"/>
<text x="473.80" y="442.47" font-size="4.3" text-anchor="end" fill="#444" stroke="#444" stroke-width="0.08">4</text>
<line x1="474.60" y1="451.55" x2="476.20" y2="451.55" stroke="#333" stroke-width="0.5"/>
<text x="473.80" y="453.05" font-size="4.3" text-anchor="end" fill="#444" stroke="#444" stroke-width="0.08">2</text>
<line x1="474.60" y1="462.12" x2="476.20" y2="462.12" stroke="#333" stroke-width="0.5"/>
<text x="473.80" y="463.62" font-size="4.3" text-anchor="end" fill="#444" stroke="#444" stroke-width="0.08">0</text>
<line x1="474.60" y1="472.70" x2="476.20" y2="472.70" stroke="#333" stroke-width="0.5"/>
<text x="473.80" y="474.20" font-size="4.3" text-anchor="end" fill="#444" stroke="#444" stroke-width="0.08">-2</text>
<line x1="482.90" y1="442.70" x2="482.90" y2="452.00" stroke="#1d4f73" stroke-width="0.5"/>
<line x1="482.00" y1="442.70" x2="483.80" y2="442.70" stroke="#1d4f73" stroke-width="0.5"/>
<line x1="482.00" y1="452.00" x2="483.80" y2="452.00" stroke="#1d4f73" stroke-width="0.5"/>
<rect x="480.00" y="446.90" width="5.80" height="4.40" fill="#2aa7df" stroke="#15608f" stroke-width="0.45"/>
<line x1="480.00" y1="449.00" x2="485.80" y2="449.00" stroke="#15608f" stroke-width="0.7"/>
<line x1="482.90" y1="472.70" x2="482.90" y2="474.20" stroke="#333" stroke-width="0.5"/>
<line x1="494.25" y1="449.40" x2="494.25" y2="467.80" stroke="#1d4f73" stroke-width="0.5"/>
<line x1="493.35" y1="449.40" x2="495.15" y2="449.40" stroke="#1d4f73" stroke-width="0.5"/>
<line x1="493.35" y1="467.80" x2="495.15" y2="467.80" stroke="#1d4f73" stroke-width="0.5"/>
<rect x="491.20" y="451.30" width="6.10" height="16.00" fill="#2aa7df" stroke="#15608f" stroke-width="0.45"/>
<line x1="491.20" y1="458.50" x2="497.30" y2="458.50" stroke="#15608f" stroke-width="0.7"/>
<line x1="494.25" y1="472.70" x2="494.25" y2="474.20" stroke="#333" stroke-width="0.5"/>
<line x1="505.75" y1="446.70" x2="505.75" y2="451.20" stroke="#1d4f73" stroke-width="0.5"/>
<line x1="504.85" y1="446.70" x2="506.65" y2="446.70" stroke="#1d4f73" stroke-width="0.5"/>
<line x1="504.85" y1="451.20" x2="506.65" y2="451.20" stroke="#1d4f73" stroke-width="0.5"/>
<rect x="502.70" y="447.50" width="6.10" height="2.90" fill="#2aa7df" stroke="#15608f" stroke-width="0.45"/>
<line x1="502.70" y1="449.00" x2="508.80" y2="449.00" stroke="#15608f" stroke-width="0.7"/>
<line x1="505.75" y1="472.70" x2="505.75" y2="474.20" stroke="#333" stroke-width="0.5"/>
<line x1="483.00" y1="440.40" x2="493.00" y2="440.40" stroke="#b0b0b0" stroke-width="0.6"/>
<text x="488.00" y="441.40" font-size="5.6" text-anchor="middle" fill="#333" stroke="#333" stroke-width="0.08" letter-spacing="-0.5">*</text>
<line x1="495.00" y1="440.40" x2="505.00" y2="440.40" stroke="#b0b0b0" stroke-width="0.6"/>
<text x="500.00" y="441.40" font-size="5.6" text-anchor="middle" fill="#333" stroke="#333" stroke-width="0.08" letter-spacing="-0.5">*</text>
<text x="495.00" y="421.15" font-size="4.4" text-anchor="middle" fill="#505050" stroke="#505050" stroke-width="0.08">HMG-CoA</text>
<text x="495.00" y="426.30" font-size="4.4" text-anchor="middle" fill="#505050" stroke="#505050" stroke-width="0.08">synthase</text>
<text x="484.40" y="475.70" font-size="4.1" text-anchor="end" fill="#333" stroke="#333" stroke-width="0.08" transform="rotate(-90 484.4 475.7)">None</text>
<text x="495.75" y="475.70" font-size="4.1" text-anchor="end" fill="#333" stroke="#333" stroke-width="0.08" transform="rotate(-90 495.75 475.7)">“7+3”</text>
<text x="507.25" y="475.70" font-size="4.1" text-anchor="end" fill="#333" stroke="#333" stroke-width="0.08" transform="rotate(-90 507.25 475.7)">CPX-351</text>
<line x1="24.60" y1="532.30" x2="24.60" y2="576.10" stroke="#333" stroke-width="0.8"/>
<line x1="24.20" y1="575.70" x2="60.60" y2="575.70" stroke="#333" stroke-width="0.8"/>
<line x1="23.00" y1="532.30" x2="24.60" y2="532.30" stroke="#333" stroke-width="0.5"/>
<text x="22.20" y="533.80" font-size="4.3" text-anchor="end" fill="#444" stroke="#444" stroke-width="0.08">6</text>
<line x1="23.00" y1="546.77" x2="24.60" y2="546.77" stroke="#333" stroke-width="0.5"/>
<text x="22.20" y="548.27" font-size="4.3" text-anchor="end" fill="#444" stroke="#444" stroke-width="0.08">4</text>
<line x1="23.00" y1="561.23" x2="24.60" y2="561.23" stroke="#333" stroke-width="0.5"/>
<text x="22.20" y="562.73" font-size="4.3" text-anchor="end" fill="#444" stroke="#444" stroke-width="0.08">2</text>
<line x1="23.00" y1="575.70" x2="24.60" y2="575.70" stroke="#333" stroke-width="0.5"/>
<text x="22.20" y="577.20" font-size="4.3" text-anchor="end" fill="#444" stroke="#444" stroke-width="0.08">0</text>
<line x1="31.05" y1="552.10" x2="31.05" y2="557.50" stroke="#7a1443" stroke-width="0.5"/>
<line x1="30.15" y1="552.10" x2="31.95" y2="552.10" stroke="#7a1443" stroke-width="0.5"/>
<line x1="30.15" y1="557.50" x2="31.95" y2="557.50" stroke="#7a1443" stroke-width="0.5"/>
<rect x="27.90" y="555.00" width="6.30" height="1.90" fill="#e90c79" stroke="#8c0f47" stroke-width="0.45"/>
<line x1="27.90" y1="556.00" x2="34.20" y2="556.00" stroke="#8c0f47" stroke-width="0.7"/>
<line x1="31.05" y1="575.70" x2="31.05" y2="577.20" stroke="#333" stroke-width="0.5"/>
<line x1="42.80" y1="556.10" x2="42.80" y2="560.00" stroke="#7a1443" stroke-width="0.5"/>
<line x1="41.90" y1="556.10" x2="43.70" y2="556.10" stroke="#7a1443" stroke-width="0.5"/>
<line x1="41.90" y1="560.00" x2="43.70" y2="560.00" stroke="#7a1443" stroke-width="0.5"/>
<rect x="39.40" y="556.90" width="6.80" height="2.30" fill="#e90c79" stroke="#8c0f47" stroke-width="0.45"/>
<line x1="39.40" y1="558.00" x2="46.20" y2="558.00" stroke="#8c0f47" stroke-width="0.7"/>
<line x1="42.80" y1="575.70" x2="42.80" y2="577.20" stroke="#333" stroke-width="0.5"/>
<line x1="54.80" y1="553.80" x2="54.80" y2="557.70" stroke="#7a1443" stroke-width="0.5"/>
<line x1="53.90" y1="553.80" x2="55.70" y2="553.80" stroke="#7a1443" stroke-width="0.5"/>
<line x1="53.90" y1="557.70" x2="55.70" y2="557.70" stroke="#7a1443" stroke-width="0.5"/>
<rect x="51.50" y="554.60" width="6.60" height="2.30" fill="#e90c79" stroke="#8c0f47" stroke-width="0.45"/>
<line x1="51.50" y1="555.70" x2="58.10" y2="555.70" stroke="#8c0f47" stroke-width="0.7"/>
<line x1="54.80" y1="575.70" x2="54.80" y2="577.20" stroke="#333" stroke-width="0.5"/>
<line x1="31.70" y1="548.80" x2="43.30" y2="548.80" stroke="#b0b0b0" stroke-width="0.6"/>
<text x="37.50" y="549.80" font-size="5.6" text-anchor="middle" fill="#333" stroke="#333" stroke-width="0.08" letter-spacing="-0.5">*</text>
<line x1="44.20" y1="548.80" x2="54.80" y2="548.80" stroke="#b0b0b0" stroke-width="0.6"/>
<text x="49.50" y="549.80" font-size="5.6" text-anchor="middle" fill="#333" stroke="#333" stroke-width="0.08" letter-spacing="-0.5">*</text>
<text x="44.50" y="522.95" font-size="4.4" text-anchor="middle" fill="#505050" stroke="#505050" stroke-width="0.08">Glycolysis/</text>
<text x="44.50" y="528.10" font-size="4.4" text-anchor="middle" fill="#505050" stroke="#505050" stroke-width="0.08">Gluconeogenesis</text>
<line x1="69.60" y1="532.30" x2="69.60" y2="576.10" stroke="#333" stroke-width="0.8"/>
<line x1="69.20" y1="575.70" x2="105.10" y2="575.70" stroke="#333" stroke-width="0.8"/>
<line x1="68.00" y1="532.30" x2="69.60" y2="532.30" stroke="#333" stroke-width="0.5"/>
<text x="67.20" y="533.80" font-size="4.3" text-anchor="end" fill="#444" stroke="#444" stroke-width="0.08">4</text>
<line x1="68.00" y1="543.15" x2="69.60" y2="543.15" stroke="#333" stroke-width="0.5"/>
<text x="67.20" y="544.65" font-size="4.3" text-anchor="end" fill="#444" stroke="#444" stroke-width="0.08">3</text>
<line x1="68.00" y1="554.00" x2="69.60" y2="554.00" stroke="#333" stroke-width="0.5"/>
<text x="67.20" y="555.50" font-size="4.3" text-anchor="end" fill="#444" stroke="#444" stroke-width="0.08">2</text>
<line x1="68.00" y1="564.85" x2="69.60" y2="564.85" stroke="#333" stroke-width="0.5"/>
<text x="67.20" y="566.35" font-size="4.3" text-anchor="end" fill="#444" stroke="#444" stroke-width="0.08">1</text>
<line x1="68.00" y1="575.70" x2="69.60" y2="575.70" stroke="#333" stroke-width="0.5"/>
<text x="67.20" y="577.20" font-size="4.3" text-anchor="end" fill="#444" stroke="#444" stroke-width="0.08">0</text>
<line x1="75.45" y1="553.20" x2="75.45" y2="558.10" stroke="#7a1443" stroke-width="0.5"/>
<line x1="74.55" y1="553.20" x2="76.35" y2="553.20" stroke="#7a1443" stroke-width="0.5"/>
<line x1="74.55" y1="558.10" x2="76.35" y2="558.10" stroke="#7a1443" stroke-width="0.5"/>
<rect x="72.10" y="554.00" width="6.70" height="3.30" fill="#e90c79" stroke="#8c0f47" stroke-width="0.45"/>
<line x1="72.10" y1="555.60" x2="78.80" y2="555.60" stroke="#8c0f47" stroke-width="0.7"/>
<line x1="75.45" y1="575.70" x2="75.45" y2="577.20" stroke="#333" stroke-width="0.5"/>
<line x1="87.70" y1="555.70" x2="87.70" y2="559.60" stroke="#7a1443" stroke-width="0.5"/>
<line x1="86.80" y1="555.70" x2="88.60" y2="555.70" stroke="#7a1443" stroke-width="0.5"/>
<line x1="86.80" y1="559.60" x2="88.60" y2="559.60" stroke="#7a1443" stroke-width="0.5"/>
<rect x="84.60" y="556.50" width="6.20" height="2.30" fill="#e90c79" stroke="#8c0f47" stroke-width="0.45"/>
<line x1="84.60" y1="557.60" x2="90.80" y2="557.60" stroke="#8c0f47" stroke-width="0.7"/>
<line x1="87.70" y1="575.70" x2="87.70" y2="577.20" stroke="#333" stroke-width="0.5"/>
<line x1="99.35" y1="554.40" x2="99.35" y2="559.00" stroke="#7a1443" stroke-width="0.5"/>
<line x1="98.45" y1="554.40" x2="100.25" y2="554.40" stroke="#7a1443" stroke-width="0.5"/>
<line x1="98.45" y1="559.00" x2="100.25" y2="559.00" stroke="#7a1443" stroke-width="0.5"/>
<rect x="96.10" y="555.20" width="6.50" height="2.70" fill="#e90c79" stroke="#8c0f47" stroke-width="0.45"/>
<line x1="96.10" y1="556.50" x2="102.60" y2="556.50" stroke="#8c0f47" stroke-width="0.7"/>
<line x1="99.35" y1="575.70" x2="99.35" y2="577.20" stroke="#333" stroke-width="0.5"/>
<line x1="76.00" y1="550.80" x2="86.50" y2="550.80" stroke="#b0b0b0" stroke-width="0.6"/>
<text x="81.25" y="551.80" font-size="5.6" text-anchor="middle" fill="#333" stroke="#333" stroke-width="0.08" letter-spacing="-0.5">*</text>
<text x="86.00" y="522.95" font-size="4.4" text-anchor="middle" fill="#505050" stroke="#505050" stroke-width="0.08">Citrate cycle</text>
<text x="86.00" y="528.10" font-size="4.4" text-anchor="middle" fill="#505050" stroke="#505050" stroke-width="0.08">(TCA cycle)</text>
<line x1="114.40" y1="532.30" x2="114.40" y2="576.10" stroke="#333" stroke-width="0.8"/>
<line x1="114.00" y1="575.70" x2="150.40" y2="575.70" stroke="#333" stroke-width="0.8"/>
<line x1="112.80" y1="532.30" x2="114.40" y2="532.30" stroke="#333" stroke-width="0.5"/>
<text x="112.00" y="533.80" font-size="4.3" text-anchor="end" fill="#444" stroke="#444" stroke-width="0.08">6</text>
<line x1="112.80" y1="546.77" x2="114.40" y2="546.77" stroke="#333" stroke-width="0.5"/>
<text x="112.00" y="548.27" font-size="4.3" text-anchor="end" fill="#444" stroke="#444" stroke-width="0.08">4</text>
<line x1="112.80" y1="561.23" x2="114.40" y2="561.23" stroke="#333" stroke-width="0.5"/>
<text x="112.00" y="562.73" font-size="4.3" text-anchor="end" fill="#444" stroke="#444" stroke-width="0.08">2</text>
<line x1="112.80" y1="575.70" x2="114.40" y2="575.70" stroke="#333" stroke-width="0.5"/>
<text x="112.00" y="577.20" font-size="4.3" text-anchor="end" fill="#444" stroke="#444" stroke-width="0.08">0</text>
<line x1="120.95" y1="549.40" x2="120.95" y2="553.90" stroke="#7a1443" stroke-width="0.5"/>
<line x1="120.05" y1="549.40" x2="121.85" y2="549.40" stroke="#7a1443" stroke-width="0.5"/>
<line x1="120.05" y1="553.90" x2="121.85" y2="553.90" stroke="#7a1443" stroke-width="0.5"/>
<rect x="117.70" y="550.20" width="6.50" height="2.90" fill="#e90c79" stroke="#8c0f47" stroke-width="0.45"/>
<line x1="117.70" y1="551.60" x2="124.20" y2="551.60" stroke="#8c0f47" stroke-width="0.7"/>
<line x1="120.95" y1="575.70" x2="120.95" y2="577.20" stroke="#333" stroke-width="0.5"/>
<line x1="132.50" y1="552.30" x2="132.50" y2="556.80" stroke="#7a1443" stroke-width="0.5"/>
<line x1="131.60" y1="552.30" x2="133.40" y2="552.30" stroke="#7a1443" stroke-width="0.5"/>
<line x1="131.60" y1="556.80" x2="133.40" y2="556.80" stroke="#7a1443" stroke-width="0.5"/>
<rect x="129.20" y="553.10" width="6.60" height="2.90" fill="#e90c79" stroke="#8c0f47" stroke-width="0.45"/>
<line x1="129.20" y1="554.50" x2="135.80" y2="554.50" stroke="#8c0f47" stroke-width="0.7"/>
<line x1="132.50" y1="575.70" x2="132.50" y2="577.20" stroke="#333" stroke-width="0.5"/>
<line x1="144.55" y1="550.70" x2="144.55" y2="555.00" stroke="#7a1443" stroke-width="0.5"/>
<line x1="143.65" y1="550.70" x2="145.45" y2="550.70" stroke="#7a1443" stroke-width="0.5"/>
<line x1="143.65" y1="555.00" x2="145.45" y2="555.00" stroke="#7a1443" stroke-width="0.5"/>
<rect x="141.20" y="551.50" width="6.70" height="2.70" fill="#e90c79" stroke="#8c0f47" stroke-width="0.45"/>
<line x1="141.20" y1="552.80" x2="147.90" y2="552.80" stroke="#8c0f47" stroke-width="0.7"/>
<line x1="144.55" y1="575.70" x2="144.55" y2="577.20" stroke="#333" stroke-width="0.5"/>
<line x1="121.00" y1="546.30" x2="131.90" y2="546.30" stroke="#b0b0b0" stroke-width="0.6"/>
<text x="126.45" y="547.30" font-size="5.6" text-anchor="middle" fill="#333" stroke="#333" stroke-width="0.08" letter-spacing="-0.5">**</text>
<text x="133.10" y="522.95" font-size="4.4" text-anchor="middle" fill="#505050" stroke="#505050" stroke-width="0.08">Pentose phosphate</text>
<text x="133.10" y="528.10" font-size="4.4" text-anchor="middle" fill="#505050" stroke="#505050" stroke-width="0.08">feature ID</text>
<line x1="159.40" y1="532.30" x2="159.40" y2="576.10" stroke="#333" stroke-width="0.8"/>
<line x1="159.00" y1="575.70" x2="195.60" y2="575.70" stroke="#333" stroke-width="0.8"/>
<line x1="157.80" y1="532.30" x2="159.40" y2="532.30" stroke="#333" stroke-width="0.5"/>
<text x="157.00" y="533.80" font-size="4.3" text-anchor="end" fill="#444" stroke="#444" stroke-width="0.08">4</text>
<line x1="157.80" y1="543.15" x2="159.40" y2="543.15" stroke="#333" stroke-width="0.5"/>
<text x="157.00" y="544.65" font-size="4.3" text-anchor="end" fill="#444" stroke="#444" stroke-width="0.08">3</text>
<line x1="157.80" y1="554.00" x2="159.40" y2="554.00" stroke="#333" stroke-width="0.5"/>
<text x="157.00" y="555.50" font-size="4.3" text-anchor="end" fill="#444" stroke="#444" stroke-width="0.08">2</text>
<line x1="157.80" y1="564.85" x2="159.40" y2="564.85" stroke="#333" stroke-width="0.5"/>
<text x="157.00" y="566.35" font-size="4.3" text-anchor="end" fill="#444" stroke="#444" stroke-width="0.08">1</text>
<line x1="157.80" y1="575.70" x2="159.40" y2="575.70" stroke="#333" stroke-width="0.5"/>
<text x="157.00" y="577.20" font-size="4.3" text-anchor="end" fill="#444" stroke="#444" stroke-width="0.08">0</text>
<line x1="166.15" y1="544.40" x2="166.15" y2="550.20" stroke="#7a1443" stroke-width="0.5"/>
<line x1="165.25" y1="544.40" x2="167.05" y2="544.40" stroke="#7a1443" stroke-width="0.5"/>
<line x1="165.25" y1="550.20" x2="167.05" y2="550.20" stroke="#7a1443" stroke-width="0.5"/>
<rect x="162.70" y="546.00" width="6.90" height="2.80" fill="#e90c79" stroke="#8c0f47" stroke-width="0.45"/>
<line x1="162.70" y1="547.40" x2="169.60" y2="547.40" stroke="#8c0f47" stroke-width="0.7"/>
<line x1="166.15" y1="575.70" x2="166.15" y2="577.20" stroke="#333" stroke-width="0.5"/>
<line x1="178.00" y1="547.50" x2="178.00" y2="552.00" stroke="#7a1443" stroke-width="0.5"/>
<line x1="177.10" y1="547.50" x2="178.90" y2="547.50" stroke="#7a1443" stroke-width="0.5"/>
<line x1="177.10" y1="552.00" x2="178.90" y2="552.00" stroke="#7a1443" stroke-width="0.5"/>
<rect x="174.80" y="548.30" width="6.40" height="2.90" fill="#e90c79" stroke="#8c0f47" stroke-width="0.45"/>
<line x1="174.80" y1="549.70" x2="181.20" y2="549.70" stroke="#8c0f47" stroke-width="0.7"/>
<line x1="178.00" y1="575.70" x2="178.00" y2="577.20" stroke="#333" stroke-width="0.5"/>
<line x1="189.70" y1="543.50" x2="189.70" y2="550.80" stroke="#7a1443" stroke-width="0.5"/>
<line x1="188.80" y1="543.50" x2="190.60" y2="543.50" stroke="#7a1443" stroke-width="0.5"/>
<line x1="188.80" y1="550.80" x2="190.60" y2="550.80" stroke="#7a1443" stroke-width="0.5"/>
<rect x="186.30" y="545.00" width="6.80" height="3.30" fill="#e90c79" stroke="#8c0f47" stroke-width="0.45"/>
<line x1="186.30" y1="546.60" x2="193.10" y2="546.60" stroke="#8c0f47" stroke-width="0.7"/>
<line x1="189.70" y1="575.70" x2="189.70" y2="577.20" stroke="#333" stroke-width="0.5"/>
<line x1="178.70" y1="541.20" x2="189.20" y2="541.20" stroke="#b0b0b0" stroke-width="0.6"/>
<text x="183.95" y="542.20" font-size="5.6" text-anchor="middle" fill="#333" stroke="#333" stroke-width="0.08" letter-spacing="-0.5">*</text>
<text x="177.70" y="517.80" font-size="4.4" text-anchor="middle" fill="#505050" stroke="#505050" stroke-width="0.08">Fructose and</text>
<text x="177.70" y="522.95" font-size="4.4" text-anchor="middle" fill="#505050" stroke="#505050" stroke-width="0.08">mannose</text>
<text x="177.70" y="528.10" font-size="4.4" text-anchor="middle" fill="#505050" stroke="#505050" stroke-width="0.08">metabolism</text>
<line x1="206.30" y1="532.30" x2="206.30" y2="576.10" stroke="#333" stroke-width="0.8"/>
<line x1="205.90" y1="575.70" x2="242.10" y2="575.70" stroke="#333" stroke-width="0.8"/>
<line x1="204.70" y1="532.30" x2="206.30" y2="532.30" stroke="#333" stroke-width="0.5"/>
<text x="203.90" y="533.80" font-size="4.3" text-anchor="end" fill="#444" stroke="#444" stroke-width="0.08">6</text>
<line x1="204.70" y1="546.77" x2="206.30" y2="546.77" stroke="#333" stroke-width="0.5"/>
<text x="203.90" y="548.27" font-size="4.3" text-anchor="end" fill="#444" stroke="#444" stroke-width="0.08">4</text>
<line x1="204.70" y1="561.23" x2="206.30" y2="561.23" stroke="#333" stroke-width="0.5"/>
<text x="203.90" y="562.73" font-size="4.3" text-anchor="end" fill="#444" stroke="#444" stroke-width="0.08">2</text>
<line x1="204.70" y1="575.70" x2="206.30" y2="575.70" stroke="#333" stroke-width="0.5"/>
<text x="203.90" y="577.20" font-size="4.3" text-anchor="end" fill="#444" stroke="#444" stroke-width="0.08">0</text>
<line x1="212.80" y1="555.70" x2="212.80" y2="559.60" stroke="#7a1443" stroke-width="0.5"/>
<line x1="211.90" y1="555.70" x2="213.70" y2="555.70" stroke="#7a1443" stroke-width="0.5"/>
<line x1="211.90" y1="559.60" x2="213.70" y2="559.60" stroke="#7a1443" stroke-width="0.5"/>
<rect x="209.60" y="556.50" width="6.40" height="2.30" fill="#e90c79" stroke="#8c0f47" stroke-width="0.45"/>
<line x1="209.60" y1="557.60" x2="216.00" y2="557.60" stroke="#8c0f47" stroke-width="0.7"/>
<line x1="212.80" y1="575.70" x2="212.80" y2="577.20" stroke="#333" stroke-width="0.5"/>
<line x1="224.35" y1="558.00" x2="224.35" y2="561.00" stroke="#7a1443" stroke-width="0.5"/>
<line x1="223.45" y1="558.00" x2="225.25" y2="558.00" stroke="#7a1443" stroke-width="0.5"/>
<line x1="223.45" y1="561.00" x2="225.25" y2="561.00" stroke="#7a1443" stroke-width="0.5"/>
<rect x="221.20" y="558.80" width="6.30" height="1.40" fill="#e90c79" stroke="#8c0f47" stroke-width="0.45"/>
<line x1="221.20" y1="559.50" x2="227.50" y2="559.50" stroke="#8c0f47" stroke-width="0.7"/>
<line x1="224.35" y1="575.70" x2="224.35" y2="577.20" stroke="#333" stroke-width="0.5"/>
<line x1="236.45" y1="556.70" x2="236.45" y2="560.00" stroke="#7a1443" stroke-width="0.5"/>
<line x1="235.55" y1="556.70" x2="237.35" y2="556.70" stroke="#7a1443" stroke-width="0.5"/>
<line x1="235.55" y1="560.00" x2="237.35" y2="560.00" stroke="#7a1443" stroke-width="0.5"/>
<rect x="233.30" y="557.50" width="6.30" height="1.70" fill="#e90c79" stroke="#8c0f47" stroke-width="0.45"/>
<line x1="233.30" y1="558.30" x2="239.60" y2="558.30" stroke="#8c0f47" stroke-width="0.7"/>
<line x1="236.45" y1="575.70" x2="236.45" y2="577.20" stroke="#333" stroke-width="0.5"/>
<line x1="213.10" y1="553.50" x2="224.20" y2="553.50" stroke="#b0b0b0" stroke-width="0.6"/>
<text x="218.65" y="554.50" font-size="5.6" text-anchor="middle" fill="#333" stroke="#333" stroke-width="0.08" letter-spacing="-0.5">*</text>
<text x="224.60" y="522.95" font-size="4.4" text-anchor="middle" fill="#505050" stroke="#505050" stroke-width="0.08">Starch and sucrose</text>
<text x="224.60" y="528.10" font-size="4.4" text-anchor="middle" fill="#505050" stroke="#505050" stroke-width="0.08">metabolism</text>
<line x1="264.20" y1="532.30" x2="264.20" y2="576.10" stroke="#333" stroke-width="0.8"/>
<line x1="263.80" y1="575.70" x2="303.50" y2="575.70" stroke="#333" stroke-width="0.8"/>
<line x1="262.60" y1="532.30" x2="264.20" y2="532.30" stroke="#333" stroke-width="0.5"/>
<text x="261.80" y="533.80" font-size="4.3" text-anchor="end" fill="#444" stroke="#444" stroke-width="0.08">3</text>
<line x1="262.60" y1="546.77" x2="264.20" y2="546.77" stroke="#333" stroke-width="0.5"/>
<text x="261.80" y="548.27" font-size="4.3" text-anchor="end" fill="#444" stroke="#444" stroke-width="0.08">2</text>
<line x1="262.60" y1="561.23" x2="264.20" y2="561.23" stroke="#333" stroke-width="0.5"/>
<text x="261.80" y="562.73" font-size="4.3" text-anchor="end" fill="#444" stroke="#444" stroke-width="0.08">1</text>
<line x1="262.60" y1="575.70" x2="264.20" y2="575.70" stroke="#333" stroke-width="0.5"/>
<text x="261.80" y="577.20" font-size="4.3" text-anchor="end" fill="#444" stroke="#444" stroke-width="0.08">0</text>
<line x1="271.40" y1="548.90" x2="271.40" y2="553.60" stroke="#7a1443" stroke-width="0.5"/>
<line x1="270.50" y1="548.90" x2="272.30" y2="548.90" stroke="#7a1443" stroke-width="0.5"/>
<line x1="270.50" y1="553.60" x2="272.30" y2="553.60" stroke="#7a1443" stroke-width="0.5"/>
<rect x="268.10" y="549.70" width="6.60" height="3.10" fill="#e90c79" stroke="#8c0f47" stroke-width="0.45"/>
<line x1="268.10" y1="551.20" x2="274.70" y2="551.20" stroke="#8c0f47" stroke-width="0.7"/>
<line x1="271.40" y1="575.70" x2="271.40" y2="577.20" stroke="#333" stroke-width="0.5"/>
<line x1="284.50" y1="552.30" x2="284.50" y2="556.60" stroke="#7a1443" stroke-width="0.5"/>
<line x1="283.60" y1="552.30" x2="285.40" y2="552.30" stroke="#7a1443" stroke-width="0.5"/>
<line x1="283.60" y1="556.60" x2="285.40" y2="556.60" stroke="#7a1443" stroke-width="0.5"/>
<rect x="281.20" y="553.10" width="6.60" height="2.70" fill="#e90c79" stroke="#8c0f47" stroke-width="0.45"/>
<line x1="281.20" y1="554.40" x2="287.80" y2="554.40" stroke="#8c0f47" stroke-width="0.7"/>
<line x1="284.50" y1="575.70" x2="284.50" y2="577.20" stroke="#333" stroke-width="0.5"/>
<line x1="297.30" y1="548.70" x2="297.30" y2="552.30" stroke="#7a1443" stroke-width="0.5"/>
<line x1="296.40" y1="548.70" x2="298.20" y2="548.70" stroke="#7a1443" stroke-width="0.5"/>
<line x1="296.40" y1="552.30" x2="298.20" y2="552.30" stroke="#7a1443" stroke-width="0.5"/>
<rect x="293.90" y="549.50" width="6.80" height="2.00" fill="#e90c79" stroke="#8c0f47" stroke-width="0.45"/>
<line x1="293.90" y1="550.50" x2="300.70" y2="550.50" stroke="#8c0f47" stroke-width="0.7"/>
<line x1="297.30" y1="575.70" x2="297.30" y2="577.20" stroke="#333" stroke-width="0.5"/>
<line x1="270.40" y1="546.60" x2="282.70" y2="546.60" stroke="#b0b0b0" stroke-width="0.6"/>
<text x="276.55" y="547.60" font-size="5.6" text-anchor="middle" fill="#333" stroke="#333" stroke-width="0.08" letter-spacing="-0.5">*</text>
<line x1="284.20" y1="546.60" x2="296.50" y2="546.60" stroke="#b0b0b0" stroke-width="0.6"/>
<text x="290.35" y="547.60" font-size="5.6" text-anchor="middle" fill="#333" stroke="#333" stroke-width="0.08" letter-spacing="-0.5">*</text>
<text x="284.20" y="522.95" font-size="4.4" text-anchor="middle" fill="#505050" stroke="#505050" stroke-width="0.08">Sulfur</text>
<text x="284.20" y="528.10" font-size="4.4" text-anchor="middle" fill="#505050" stroke="#505050" stroke-width="0.08">metabolism</text>
<line x1="316.20" y1="532.30" x2="316.20" y2="576.10" stroke="#333" stroke-width="0.8"/>
<line x1="315.80" y1="575.70" x2="355.40" y2="575.70" stroke="#333" stroke-width="0.8"/>
<line x1="314.60" y1="532.30" x2="316.20" y2="532.30" stroke="#333" stroke-width="0.5"/>
<text x="313.80" y="533.80" font-size="4.3" text-anchor="end" fill="#444" stroke="#444" stroke-width="0.08">4</text>
<line x1="314.60" y1="543.15" x2="316.20" y2="543.15" stroke="#333" stroke-width="0.5"/>
<text x="313.80" y="544.65" font-size="4.3" text-anchor="end" fill="#444" stroke="#444" stroke-width="0.08">3</text>
<line x1="314.60" y1="554.00" x2="316.20" y2="554.00" stroke="#333" stroke-width="0.5"/>
<text x="313.80" y="555.50" font-size="4.3" text-anchor="end" fill="#444" stroke="#444" stroke-width="0.08">2</text>
<line x1="314.60" y1="564.85" x2="316.20" y2="564.85" stroke="#333" stroke-width="0.5"/>
<text x="313.80" y="566.35" font-size="4.3" text-anchor="end" fill="#444" stroke="#444" stroke-width="0.08">1</text>
<line x1="314.60" y1="575.70" x2="316.20" y2="575.70" stroke="#333" stroke-width="0.5"/>
<text x="313.80" y="577.20" font-size="4.3" text-anchor="end" fill="#444" stroke="#444" stroke-width="0.08">0</text>
<line x1="323.45" y1="543.10" x2="323.45" y2="550.00" stroke="#7a1443" stroke-width="0.5"/>
<line x1="322.55" y1="543.10" x2="324.35" y2="543.10" stroke="#7a1443" stroke-width="0.5"/>
<line x1="322.55" y1="550.00" x2="324.35" y2="550.00" stroke="#7a1443" stroke-width="0.5"/>
<rect x="320.00" y="545.10" width="6.90" height="4.10" fill="#e90c79" stroke="#8c0f47" stroke-width="0.45"/>
<line x1="320.00" y1="546.90" x2="326.90" y2="546.90" stroke="#8c0f47" stroke-width="0.7"/>
<line x1="323.45" y1="575.70" x2="323.45" y2="577.20" stroke="#333" stroke-width="0.5"/>
<line x1="336.40" y1="548.40" x2="336.40" y2="552.00" stroke="#7a1443" stroke-width="0.5"/>
<line x1="335.50" y1="548.40" x2="337.30" y2="548.40" stroke="#7a1443" stroke-width="0.5"/>
<line x1="335.50" y1="552.00" x2="337.30" y2="552.00" stroke="#7a1443" stroke-width="0.5"/>
<rect x="332.80" y="549.20" width="7.20" height="2.00" fill="#e90c79" stroke="#8c0f47" stroke-width="0.45"/>
<line x1="332.80" y1="550.20" x2="340.00" y2="550.20" stroke="#8c0f47" stroke-width="0.7"/>
<line x1="336.40" y1="575.70" x2="336.40" y2="577.20" stroke="#333" stroke-width="0.5"/>
<line x1="349.10" y1="545.00" x2="349.10" y2="550.30" stroke="#7a1443" stroke-width="0.5"/>
<line x1="348.20" y1="545.00" x2="350.00" y2="545.00" stroke="#7a1443" stroke-width="0.5"/>
<line x1="348.20" y1="550.30" x2="350.00" y2="550.30" stroke="#7a1443" stroke-width="0.5"/>
<rect x="345.40" y="546.20" width="7.40" height="3.00" fill="#e90c79" stroke="#8c0f47" stroke-width="0.45"/>
<line x1="345.40" y1="547.70" x2="352.80" y2="547.70" stroke="#8c0f47" stroke-width="0.7"/>
<line x1="349.10" y1="575.70" x2="349.10" y2="577.20" stroke="#333" stroke-width="0.5"/>
<line x1="323.10" y1="541.50" x2="334.60" y2="541.50" stroke="#b0b0b0" stroke-width="0.6"/>
<text x="328.85" y="542.50" font-size="5.6" text-anchor="middle" fill="#333" stroke="#333" stroke-width="0.08" letter-spacing="-0.5">*</text>
<text x="335.40" y="522.95" font-size="4.4" text-anchor="middle" fill="#505050" stroke="#505050" stroke-width="0.08">Cysteine and</text>
<text x="335.40" y="528.10" font-size="4.4" text-anchor="middle" fill="#505050" stroke="#505050" stroke-width="0.08">methionine metabolism</text>
<line x1="369.00" y1="532.30" x2="369.00" y2="576.10" stroke="#333" stroke-width="0.8"/>
<line x1="368.60" y1="575.70" x2="407.90" y2="575.70" stroke="#333" stroke-width="0.8"/>
<line x1="367.40" y1="532.30" x2="369.00" y2="532.30" stroke="#333" stroke-width="0.5"/>
<text x="366.60" y="533.80" font-size="4.3" text-anchor="end" fill="#444" stroke="#444" stroke-width="0.08">6</text>
<line x1="367.40" y1="546.77" x2="369.00" y2="546.77" stroke="#333" stroke-width="0.5"/>
<text x="366.60" y="548.27" font-size="4.3" text-anchor="end" fill="#444" stroke="#444" stroke-width="0.08">4</text>
<line x1="367.40" y1="561.23" x2="369.00" y2="561.23" stroke="#333" stroke-width="0.5"/>
<text x="366.60" y="562.73" font-size="4.3" text-anchor="end" fill="#444" stroke="#444" stroke-width="0.08">2</text>
<line x1="367.40" y1="575.70" x2="369.00" y2="575.70" stroke="#333" stroke-width="0.5"/>
<text x="366.60" y="577.20" font-size="4.3" text-anchor="end" fill="#444" stroke="#444" stroke-width="0.08">0</text>
<line x1="376.00" y1="552.00" x2="376.00" y2="555.70" stroke="#7a1443" stroke-width="0.5"/>
<line x1="375.10" y1="552.00" x2="376.90" y2="552.00" stroke="#7a1443" stroke-width="0.5"/>
<line x1="375.10" y1="555.70" x2="376.90" y2="555.70" stroke="#7a1443" stroke-width="0.5"/>
<rect x="372.30" y="552.80" width="7.40" height="2.10" fill="#e90c79" stroke="#8c0f47" stroke-width="0.45"/>
<line x1="372.30" y1="553.80" x2="379.70" y2="553.80" stroke="#8c0f47" stroke-width="0.7"/>
<line x1="376.00" y1="575.70" x2="376.00" y2="577.20" stroke="#333" stroke-width="0.5"/>
<line x1="389.00" y1="556.10" x2="389.00" y2="560.30" stroke="#7a1443" stroke-width="0.5"/>
<line x1="388.10" y1="556.10" x2="389.90" y2="556.10" stroke="#7a1443" stroke-width="0.5"/>
<line x1="388.10" y1="560.30" x2="389.90" y2="560.30" stroke="#7a1443" stroke-width="0.5"/>
<rect x="385.40" y="556.90" width="7.20" height="2.60" fill="#e90c79" stroke="#8c0f47" stroke-width="0.45"/>
<line x1="385.40" y1="558.20" x2="392.60" y2="558.20" stroke="#8c0f47" stroke-width="0.7"/>
<line x1="389.00" y1="575.70" x2="389.00" y2="577.20" stroke="#333" stroke-width="0.5"/>
<line x1="401.80" y1="554.60" x2="401.80" y2="558.20" stroke="#7a1443" stroke-width="0.5"/>
<line x1="400.90" y1="554.60" x2="402.70" y2="554.60" stroke="#7a1443" stroke-width="0.5"/>
<line x1="400.90" y1="558.20" x2="402.70" y2="558.20" stroke="#7a1443" stroke-width="0.5"/>
<rect x="398.20" y="555.40" width="7.20" height="2.00" fill="#e90c79" stroke="#8c0f47" stroke-width="0.45"/>
<line x1="398.20" y1="556.40" x2="405.40" y2="556.40" stroke="#8c0f47" stroke-width="0.7"/>
<line x1="401.80" y1="575.70" x2="401.80" y2="577.20" stroke="#333" stroke-width="0.5"/>
<line x1="374.60" y1="540.50" x2="400.00" y2="540.50" stroke="#b0b0b0" stroke-width="0.6"/>
<text x="387.30" y="541.50" font-size="5.6" text-anchor="middle" fill="#333" stroke="#333" stroke-width="0.08" letter-spacing="-0.5">**</text>
<line x1="374.60" y1="549.20" x2="386.90" y2="549.20" stroke="#b0b0b0" stroke-width="0.6"/>
<text x="380.75" y="550.20" font-size="5.6" text-anchor="middle" fill="#333" stroke="#333" stroke-width="0.08" letter-spacing="-0.5">****</text>
<text x="388.90" y="522.95" font-size="4.4" text-anchor="middle" fill="#505050" stroke="#505050" stroke-width="0.08">Tryptophan biosynthesis,</text>
<text x="388.90" y="528.10" font-size="4.4" text-anchor="middle" fill="#505050" stroke="#505050" stroke-width="0.08">chorismate-&gt;tryptophan</text>
<line x1="422.80" y1="532.30" x2="422.80" y2="576.10" stroke="#333" stroke-width="0.8"/>
<line x1="422.40" y1="575.70" x2="462.30" y2="575.70" stroke="#333" stroke-width="0.8"/>
<line x1="421.20" y1="532.30" x2="422.80" y2="532.30" stroke="#333" stroke-width="0.5"/>
<text x="420.40" y="533.80" font-size="4.3" text-anchor="end" fill="#444" stroke="#444" stroke-width="0.08">6</text>
<line x1="421.20" y1="546.77" x2="422.80" y2="546.77" stroke="#333" stroke-width="0.5"/>
<text x="420.40" y="548.27" font-size="4.3" text-anchor="end" fill="#444" stroke="#444" stroke-width="0.08">4</text>
<line x1="421.20" y1="561.23" x2="422.80" y2="561.23" stroke="#333" stroke-width="0.5"/>
<text x="420.40" y="562.73" font-size="4.3" text-anchor="end" fill="#444" stroke="#444" stroke-width="0.08">2</text>
<line x1="421.20" y1="575.70" x2="422.80" y2="575.70" stroke="#333" stroke-width="0.5"/>
<text x="420.40" y="577.20" font-size="4.3" text-anchor="end" fill="#444" stroke="#444" stroke-width="0.08">0</text>
<line x1="429.45" y1="547.60" x2="429.45" y2="551.60" stroke="#7a1443" stroke-width="0.5"/>
<line x1="428.55" y1="547.60" x2="430.35" y2="547.60" stroke="#7a1443" stroke-width="0.5"/>
<line x1="428.55" y1="551.60" x2="430.35" y2="551.60" stroke="#7a1443" stroke-width="0.5"/>
<rect x="425.80" y="548.40" width="7.30" height="2.40" fill="#e90c79" stroke="#8c0f47" stroke-width="0.45"/>
<line x1="425.80" y1="549.60" x2="433.10" y2="549.60" stroke="#8c0f47" stroke-width="0.7"/>
<line x1="429.45" y1="575.70" x2="429.45" y2="577.20" stroke="#333" stroke-width="0.5"/>
<line x1="442.70" y1="551.10" x2="442.70" y2="554.70" stroke="#7a1443" stroke-width="0.5"/>
<line x1="441.80" y1="551.10" x2="443.60" y2="551.10" stroke="#7a1443" stroke-width="0.5"/>
<line x1="441.80" y1="554.70" x2="443.60" y2="554.70" stroke="#7a1443" stroke-width="0.5"/>
<rect x="439.20" y="551.90" width="7.00" height="2.00" fill="#e90c79" stroke="#8c0f47" stroke-width="0.45"/>
<line x1="439.20" y1="552.90" x2="446.20" y2="552.90" stroke="#8c0f47" stroke-width="0.7"/>
<line x1="442.70" y1="575.70" x2="442.70" y2="577.20" stroke="#333" stroke-width="0.5"/>
<line x1="455.75" y1="550.00" x2="455.75" y2="553.50" stroke="#7a1443" stroke-width="0.5"/>
<line x1="454.85" y1="550.00" x2="456.65" y2="550.00" stroke="#7a1443" stroke-width="0.5"/>
<line x1="454.85" y1="553.50" x2="456.65" y2="553.50" stroke="#7a1443" stroke-width="0.5"/>
<rect x="452.30" y="550.80" width="6.90" height="1.90" fill="#e90c79" stroke="#8c0f47" stroke-width="0.45"/>
<line x1="452.30" y1="551.70" x2="459.20" y2="551.70" stroke="#8c0f47" stroke-width="0.7"/>
<line x1="455.75" y1="575.70" x2="455.75" y2="577.20" stroke="#333" stroke-width="0.5"/>
<line x1="427.70" y1="538.10" x2="454.60" y2="538.10" stroke="#b0b0b0" stroke-width="0.6"/>
<text x="441.15" y="539.10" font-size="5.6" text-anchor="middle" fill="#333" stroke="#333" stroke-width="0.08" letter-spacing="-0.5">**</text>
<line x1="427.70" y1="545.30" x2="440.30" y2="545.30" stroke="#b0b0b0" stroke-width="0.6"/>
<text x="434.00" y="546.30" font-size="5.6" text-anchor="middle" fill="#333" stroke="#333" stroke-width="0.08" letter-spacing="-0.5">***</text>
<text x="442.30" y="517.80" font-size="4.4" text-anchor="middle" fill="#505050" stroke="#505050" stroke-width="0.08">Tryptophan metabolism,</text>
<text x="442.30" y="522.95" font-size="4.4" text-anchor="middle" fill="#505050" stroke="#505050" stroke-width="0.08">tryptophan-&gt;kynurenine</text>
<text x="442.30" y="528.10" font-size="4.4" text-anchor="middle" fill="#505050" stroke="#505050" stroke-width="0.08">-&gt;2-aminomuconate</text>
<line x1="474.20" y1="532.30" x2="474.20" y2="576.10" stroke="#333" stroke-width="0.8"/>
<line x1="473.80" y1="575.70" x2="513.00" y2="575.70" stroke="#333" stroke-width="0.8"/>
<line x1="472.60" y1="532.30" x2="474.20" y2="532.30" stroke="#333" stroke-width="0.5"/>
<text x="471.80" y="533.80" font-size="4.3" text-anchor="end" fill="#444" stroke="#444" stroke-width="0.08">6</text>
<line x1="472.60" y1="546.77" x2="474.20" y2="546.77" stroke="#333" stroke-width="0.5"/>
<text x="471.80" y="548.27" font-size="4.3" text-anchor="end" fill="#444" stroke="#444" stroke-width="0.08">4</text>
<line x1="472.60" y1="561.23" x2="474.20" y2="561.23" stroke="#333" stroke-width="0.5"/>
<text x="471.80" y="562.73" font-size="4.3" text-anchor="end" fill="#444" stroke="#444" stroke-width="0.08">2</text>
<line x1="472.60" y1="575.70" x2="474.20" y2="575.70" stroke="#333" stroke-width="0.5"/>
<text x="471.80" y="577.20" font-size="4.3" text-anchor="end" fill="#444" stroke="#444" stroke-width="0.08">0</text>
<line x1="480.75" y1="557.30" x2="480.75" y2="562.40" stroke="#7a1443" stroke-width="0.5"/>
<line x1="479.85" y1="557.30" x2="481.65" y2="557.30" stroke="#7a1443" stroke-width="0.5"/>
<line x1="479.85" y1="562.40" x2="481.65" y2="562.40" stroke="#7a1443" stroke-width="0.5"/>
<rect x="477.20" y="559.60" width="7.10" height="2.30" fill="#e90c79" stroke="#8c0f47" stroke-width="0.45"/>
<line x1="477.20" y1="560.70" x2="484.30" y2="560.70" stroke="#8c0f47" stroke-width="0.7"/>
<line x1="480.75" y1="575.70" x2="480.75" y2="577.20" stroke="#333" stroke-width="0.5"/>
<line x1="494.10" y1="561.10" x2="494.10" y2="564.70" stroke="#7a1443" stroke-width="0.5"/>
<line x1="493.20" y1="561.10" x2="495.00" y2="561.10" stroke="#7a1443" stroke-width="0.5"/>
<line x1="493.20" y1="564.70" x2="495.00" y2="564.70" stroke="#7a1443" stroke-width="0.5"/>
<rect x="490.50" y="561.90" width="7.20" height="2.00" fill="#e90c79" stroke="#8c0f47" stroke-width="0.45"/>
<line x1="490.50" y1="562.90" x2="497.70" y2="562.90" stroke="#8c0f47" stroke-width="0.7"/>
<line x1="494.10" y1="575.70" x2="494.10" y2="577.20" stroke="#333" stroke-width="0.5"/>
<line x1="506.95" y1="557.70" x2="506.95" y2="561.50" stroke="#7a1443" stroke-width="0.5"/>
<line x1="506.05" y1="557.70" x2="507.85" y2="557.70" stroke="#7a1443" stroke-width="0.5"/>
<line x1="506.05" y1="561.50" x2="507.85" y2="561.50" stroke="#7a1443" stroke-width="0.5"/>
<rect x="503.40" y="558.50" width="7.10" height="2.20" fill="#e90c79" stroke="#8c0f47" stroke-width="0.45"/>
<line x1="503.40" y1="559.60" x2="510.50" y2="559.60" stroke="#8c0f47" stroke-width="0.7"/>
<line x1="506.95" y1="575.70" x2="506.95" y2="577.20" stroke="#333" stroke-width="0.5"/>
<line x1="480.30" y1="553.90" x2="492.30" y2="553.90" stroke="#b0b0b0" stroke-width="0.6"/>
<text x="486.30" y="554.90" font-size="5.6" text-anchor="middle" fill="#333" stroke="#333" stroke-width="0.08" letter-spacing="-0.5">*</text>
<line x1="495.40" y1="553.90" x2="507.40" y2="553.90" stroke="#b0b0b0" stroke-width="0.6"/>
<text x="501.40" y="554.90" font-size="5.6" text-anchor="middle" fill="#333" stroke="#333" stroke-width="0.08" letter-spacing="-0.5">**</text>
<text x="493.80" y="517.80" font-size="4.4" text-anchor="middle" fill="#505050" stroke="#505050" stroke-width="0.08">Taurine and</text>
<text x="493.80" y="522.95" font-size="4.4" text-anchor="middle" fill="#505050" stroke="#505050" stroke-width="0.08">hypotaurine</text>
<text x="493.80" y="528.10" font-size="4.4" text-anchor="middle" fill="#505050" stroke="#505050" stroke-width="0.08">metabolism</text>
<line x1="24.90" y1="601.80" x2="24.90" y2="645.70" stroke="#333" stroke-width="0.8"/>
<line x1="24.50" y1="645.30" x2="61.30" y2="645.30" stroke="#333" stroke-width="0.8"/>
<line x1="23.30" y1="601.80" x2="24.90" y2="601.80" stroke="#333" stroke-width="0.5"/>
<text x="22.50" y="603.30" font-size="4.3" text-anchor="end" fill="#444" stroke="#444" stroke-width="0.08">6</text>
<line x1="23.30" y1="616.30" x2="24.90" y2="616.30" stroke="#333" stroke-width="0.5"/>
<text x="22.50" y="617.80" font-size="4.3" text-anchor="end" fill="#444" stroke="#444" stroke-width="0.08">4</text>
<line x1="23.30" y1="630.80" x2="24.90" y2="630.80" stroke="#333" stroke-width="0.5"/>
<text x="22.50" y="632.30" font-size="4.3" text-anchor="end" fill="#444" stroke="#444" stroke-width="0.08">2</text>
<line x1="23.30" y1="645.30" x2="24.90" y2="645.30" stroke="#333" stroke-width="0.5"/>
<text x="22.50" y="646.80" font-size="4.3" text-anchor="end" fill="#444" stroke="#444" stroke-width="0.08">0</text>
<line x1="31.30" y1="623.10" x2="31.30" y2="628.50" stroke="#7a1443" stroke-width="0.5"/>
<line x1="30.40" y1="623.10" x2="32.20" y2="623.10" stroke="#7a1443" stroke-width="0.5"/>
<line x1="30.40" y1="628.50" x2="32.20" y2="628.50" stroke="#7a1443" stroke-width="0.5"/>
<rect x="28.00" y="625.40" width="6.60" height="2.60" fill="#e90c79" stroke="#8c0f47" stroke-width="0.45"/>
<line x1="28.00" y1="626.70" x2="34.60" y2="626.70" stroke="#8c0f47" stroke-width="0.7"/>
<line x1="31.30" y1="645.30" x2="31.30" y2="646.80" stroke="#333" stroke-width="0.5"/>
<line x1="43.10" y1="627.20" x2="43.10" y2="630.30" stroke="#7a1443" stroke-width="0.5"/>
<line x1="42.20" y1="627.20" x2="44.00" y2="627.20" stroke="#7a1443" stroke-width="0.5"/>
<line x1="42.20" y1="630.30" x2="44.00" y2="630.30" stroke="#7a1443" stroke-width="0.5"/>
<rect x="39.70" y="628.00" width="6.80" height="1.50" fill="#e90c79" stroke="#8c0f47" stroke-width="0.45"/>
<line x1="39.70" y1="628.70" x2="46.50" y2="628.70" stroke="#8c0f47" stroke-width="0.7"/>
<line x1="43.10" y1="645.30" x2="43.10" y2="646.80" stroke="#333" stroke-width="0.5"/>
<line x1="55.40" y1="624.70" x2="55.40" y2="628.20" stroke="#7a1443" stroke-width="0.5"/>
<line x1="54.50" y1="624.70" x2="56.30" y2="624.70" stroke="#7a1443" stroke-width="0.5"/>
<line x1="54.50" y1="628.20" x2="56.30" y2="628.20" stroke="#7a1443" stroke-width="0.5"/>
<rect x="52.00" y="625.50" width="6.80" height="1.90" fill="#e90c79" stroke="#8c0f47" stroke-width="0.45"/>
<line x1="52.00" y1="626.40" x2="58.80" y2="626.40" stroke="#8c0f47" stroke-width="0.7"/>
<line x1="55.40" y1="645.30" x2="55.40" y2="646.80" stroke="#333" stroke-width="0.5"/>
<line x1="30.80" y1="620.80" x2="41.50" y2="620.80" stroke="#b0b0b0" stroke-width="0.6"/>
<text x="36.15" y="621.80" font-size="5.6" text-anchor="middle" fill="#333" stroke="#333" stroke-width="0.08" letter-spacing="-0.5">*</text>
<line x1="44.30" y1="620.80" x2="55.10" y2="620.80" stroke="#b0b0b0" stroke-width="0.6"/>
<text x="49.70" y="621.80" font-size="5.6" text-anchor="middle" fill="#333" stroke="#333" stroke-width="0.08" letter-spacing="-0.5">*</text>
<text x="43.40" y="592.65" font-size="4.4" text-anchor="middle" fill="#505050" stroke="#505050" stroke-width="0.08">Pyruvate</text>
<text x="43.40" y="597.80" font-size="4.4" text-anchor="middle" fill="#505050" stroke="#505050" stroke-width="0.08">metabolism</text>
<text x="32.80" y="648.30" font-size="4.1" text-anchor="end" fill="#333" stroke="#333" stroke-width="0.08" transform="rotate(-90 32.8 648.3)">None</text>
<text x="44.60" y="648.30" font-size="4.1" text-anchor="end" fill="#333" stroke="#333" stroke-width="0.08" transform="rotate(-90 44.6 648.3)">“7+3”</text>
<text x="56.90" y="648.30" font-size="4.1" text-anchor="end" fill="#333" stroke="#333" stroke-width="0.08" transform="rotate(-90 56.9 648.3)">CPX-351</text>
<line x1="69.50" y1="601.80" x2="69.50" y2="645.70" stroke="#333" stroke-width="0.8"/>
<line x1="69.10" y1="645.30" x2="105.60" y2="645.30" stroke="#333" stroke-width="0.8"/>
<line x1="67.90" y1="601.80" x2="69.50" y2="601.80" stroke="#333" stroke-width="0.5"/>
<text x="67.10" y="603.30" font-size="4.3" text-anchor="end" fill="#444" stroke="#444" stroke-width="0.08">4</text>
<line x1="67.90" y1="612.67" x2="69.50" y2="612.67" stroke="#333" stroke-width="0.5"/>
<text x="67.10" y="614.17" font-size="4.3" text-anchor="end" fill="#444" stroke="#444" stroke-width="0.08">3</text>
<line x1="67.90" y1="623.55" x2="69.50" y2="623.55" stroke="#333" stroke-width="0.5"/>
<text x="67.10" y="625.05" font-size="4.3" text-anchor="end" fill="#444" stroke="#444" stroke-width="0.08">2</text>
<line x1="67.90" y1="634.42" x2="69.50" y2="634.42" stroke="#333" stroke-width="0.5"/>
<text x="67.10" y="635.92" font-size="4.3" text-anchor="end" fill="#444" stroke="#444" stroke-width="0.08">1</text>
<line x1="67.90" y1="645.30" x2="69.50" y2="645.30" stroke="#333" stroke-width="0.5"/>
<text x="67.10" y="646.80" font-size="4.3" text-anchor="end" fill="#444" stroke="#444" stroke-width="0.08">0</text>
<line x1="75.60" y1="619.70" x2="75.60" y2="629.50" stroke="#7a1443" stroke-width="0.5"/>
<line x1="74.70" y1="619.70" x2="76.50" y2="619.70" stroke="#7a1443" stroke-width="0.5"/>
<line x1="74.70" y1="629.50" x2="76.50" y2="629.50" stroke="#7a1443" stroke-width="0.5"/>
<rect x="72.30" y="625.10" width="6.60" height="3.40" fill="#e90c79" stroke="#8c0f47" stroke-width="0.45"/>
<line x1="72.30" y1="626.60" x2="78.90" y2="626.60" stroke="#8c0f47" stroke-width="0.7"/>
<line x1="75.60" y1="645.30" x2="75.60" y2="646.80" stroke="#333" stroke-width="0.5"/>
<line x1="87.70" y1="623.00" x2="87.70" y2="629.30" stroke="#7a1443" stroke-width="0.5"/>
<line x1="86.80" y1="623.00" x2="88.60" y2="623.00" stroke="#7a1443" stroke-width="0.5"/>
<line x1="86.80" y1="629.30" x2="88.60" y2="629.30" stroke="#7a1443" stroke-width="0.5"/>
<rect x="84.30" y="623.80" width="6.80" height="4.70" fill="#e90c79" stroke="#8c0f47" stroke-width="0.45"/>
<line x1="84.30" y1="626.20" x2="91.10" y2="626.20" stroke="#8c0f47" stroke-width="0.7"/>
<line x1="87.70" y1="645.30" x2="87.70" y2="646.80" stroke="#333" stroke-width="0.5"/>
<line x1="99.65" y1="616.20" x2="99.65" y2="625.40" stroke="#7a1443" stroke-width="0.5"/>
<line x1="98.75" y1="616.20" x2="100.55" y2="616.20" stroke="#7a1443" stroke-width="0.5"/>
<line x1="98.75" y1="625.40" x2="100.55" y2="625.40" stroke="#7a1443" stroke-width="0.5"/>
<rect x="96.20" y="619.20" width="6.90" height="3.90" fill="#e90c79" stroke="#8c0f47" stroke-width="0.45"/>
<line x1="96.20" y1="621.20" x2="103.10" y2="621.20" stroke="#8c0f47" stroke-width="0.7"/>
<line x1="99.65" y1="645.30" x2="99.65" y2="646.80" stroke="#333" stroke-width="0.5"/>
<line x1="76.20" y1="612.60" x2="100.00" y2="612.60" stroke="#b0b0b0" stroke-width="0.6"/>
<text x="88.10" y="613.60" font-size="5.6" text-anchor="middle" fill="#333" stroke="#333" stroke-width="0.08" letter-spacing="-0.5">***</text>
<text x="87.70" y="592.65" font-size="4.4" text-anchor="middle" fill="#505050" stroke="#505050" stroke-width="0.08">Phosphotransferase</text>
<text x="87.70" y="597.80" font-size="4.4" text-anchor="middle" fill="#505050" stroke="#505050" stroke-width="0.08">system (PTS)</text>
<text x="77.10" y="648.30" font-size="4.1" text-anchor="end" fill="#333" stroke="#333" stroke-width="0.08" transform="rotate(-90 77.1 648.3)">None</text>
<text x="89.20" y="648.30" font-size="4.1" text-anchor="end" fill="#333" stroke="#333" stroke-width="0.08" transform="rotate(-90 89.19999999999999 648.3)">“7+3”</text>
<text x="101.15" y="648.30" font-size="4.1" text-anchor="end" fill="#333" stroke="#333" stroke-width="0.08" transform="rotate(-90 101.15 648.3)">CPX-351</text>
<line x1="114.60" y1="601.80" x2="114.60" y2="645.70" stroke="#333" stroke-width="0.8"/>
<line x1="114.20" y1="645.30" x2="150.70" y2="645.30" stroke="#333" stroke-width="0.8"/>
<line x1="113.00" y1="601.80" x2="114.60" y2="601.80" stroke="#333" stroke-width="0.5"/>
<text x="112.20" y="603.30" font-size="4.3" text-anchor="end" fill="#444" stroke="#444" stroke-width="0.08">4</text>
<line x1="113.00" y1="612.67" x2="114.60" y2="612.67" stroke="#333" stroke-width="0.5"/>
<text x="112.20" y="614.17" font-size="4.3" text-anchor="end" fill="#444" stroke="#444" stroke-width="0.08">3</text>
<line x1="113.00" y1="623.55" x2="114.60" y2="623.55" stroke="#333" stroke-width="0.5"/>
<text x="112.20" y="625.05" font-size="4.3" text-anchor="end" fill="#444" stroke="#444" stroke-width="0.08">2</text>
<line x1="113.00" y1="634.42" x2="114.60" y2="634.42" stroke="#333" stroke-width="0.5"/>
<text x="112.20" y="635.92" font-size="4.3" text-anchor="end" fill="#444" stroke="#444" stroke-width="0.08">1</text>
<line x1="113.00" y1="645.30" x2="114.60" y2="645.30" stroke="#333" stroke-width="0.5"/>
<text x="112.20" y="646.80" font-size="4.3" text-anchor="end" fill="#444" stroke="#444" stroke-width="0.08">0</text>
<line x1="120.95" y1="621.90" x2="120.95" y2="629.80" stroke="#7a1443" stroke-width="0.5"/>
<line x1="120.05" y1="621.90" x2="121.85" y2="621.90" stroke="#7a1443" stroke-width="0.5"/>
<line x1="120.05" y1="629.80" x2="121.85" y2="629.80" stroke="#7a1443" stroke-width="0.5"/>
<rect x="117.70" y="625.80" width="6.50" height="3.40" fill="#e90c79" stroke="#8c0f47" stroke-width="0.45"/>
<line x1="117.70" y1="627.50" x2="124.20" y2="627.50" stroke="#8c0f47" stroke-width="0.7"/>
<line x1="120.95" y1="645.30" x2="120.95" y2="646.80" stroke="#333" stroke-width="0.5"/>
<line x1="132.95" y1="626.50" x2="132.95" y2="638.10" stroke="#7a1443" stroke-width="0.5"/>
<line x1="132.05" y1="626.50" x2="133.85" y2="626.50" stroke="#7a1443" stroke-width="0.5"/>
<line x1="132.05" y1="638.10" x2="133.85" y2="638.10" stroke="#7a1443" stroke-width="0.5"/>
<rect x="129.70" y="627.30" width="6.50" height="10.00" fill="#e90c79" stroke="#8c0f47" stroke-width="0.45"/>
<line x1="129.70" y1="633.20" x2="136.20" y2="633.20" stroke="#8c0f47" stroke-width="0.7"/>
<line x1="132.95" y1="645.30" x2="132.95" y2="646.80" stroke="#333" stroke-width="0.5"/>
<line x1="144.85" y1="622.40" x2="144.85" y2="629.60" stroke="#7a1443" stroke-width="0.5"/>
<line x1="143.95" y1="622.40" x2="145.75" y2="622.40" stroke="#7a1443" stroke-width="0.5"/>
<line x1="143.95" y1="629.60" x2="145.75" y2="629.60" stroke="#7a1443" stroke-width="0.5"/>
<rect x="141.50" y="623.90" width="6.70" height="3.40" fill="#e90c79" stroke="#8c0f47" stroke-width="0.45"/>
<line x1="141.50" y1="625.50" x2="148.20" y2="625.50" stroke="#8c0f47" stroke-width="0.7"/>
<line x1="144.85" y1="645.30" x2="144.85" y2="646.80" stroke="#333" stroke-width="0.5"/>
<line x1="121.50" y1="618.80" x2="144.60" y2="618.80" stroke="#b0b0b0" stroke-width="0.6"/>
<text x="133.05" y="619.80" font-size="5.6" text-anchor="middle" fill="#333" stroke="#333" stroke-width="0.08" letter-spacing="-0.5">*</text>
<text x="133.40" y="587.50" font-size="4.4" text-anchor="middle" fill="#505050" stroke="#505050" stroke-width="0.08">Synthesis and</text>
<text x="133.40" y="592.65" font-size="4.4" text-anchor="middle" fill="#505050" stroke="#505050" stroke-width="0.08">degradation of</text>
<text x="133.40" y="597.80" font-size="4.4" text-anchor="middle" fill="#505050" stroke="#505050" stroke-width="0.08">ketone bodies</text>
<text x="122.45" y="648.30" font-size="4.1" text-anchor="end" fill="#333" stroke="#333" stroke-width="0.08" transform="rotate(-90 122.45 648.3)">None</text>
<text x="134.45" y="648.30" font-size="4.1" text-anchor="end" fill="#333" stroke="#333" stroke-width="0.08" transform="rotate(-90 134.45 648.3)">“7+3”</text>
<text x="146.35" y="648.30" font-size="4.1" text-anchor="end" fill="#333" stroke="#333" stroke-width="0.08" transform="rotate(-90 146.35 648.3)">CPX-351</text>
<line x1="159.50" y1="601.80" x2="159.50" y2="645.70" stroke="#333" stroke-width="0.8"/>
<line x1="159.10" y1="645.30" x2="195.60" y2="645.30" stroke="#333" stroke-width="0.8"/>
<line x1="157.90" y1="601.80" x2="159.50" y2="601.80" stroke="#333" stroke-width="0.5"/>
<text x="157.10" y="603.30" font-size="4.3" text-anchor="end" fill="#444" stroke="#444" stroke-width="0.08">5</text>
<line x1="157.90" y1="610.50" x2="159.50" y2="610.50" stroke="#333" stroke-width="0.5"/>
<text x="157.10" y="612.00" font-size="4.3" text-anchor="end" fill="#444" stroke="#444" stroke-width="0.08">4</text>
<line x1="157.90" y1="619.20" x2="159.50" y2="619.20" stroke="#333" stroke-width="0.5"/>
<text x="157.10" y="620.70" font-size="4.3" text-anchor="end" fill="#444" stroke="#444" stroke-width="0.08">3</text>
<line x1="157.90" y1="627.90" x2="159.50" y2="627.90" stroke="#333" stroke-width="0.5"/>
<text x="157.10" y="629.40" font-size="4.3" text-anchor="end" fill="#444" stroke="#444" stroke-width="0.08">2</text>
<line x1="157.90" y1="636.60" x2="159.50" y2="636.60" stroke="#333" stroke-width="0.5"/>
<text x="157.10" y="638.10" font-size="4.3" text-anchor="end" fill="#444" stroke="#444" stroke-width="0.08">1</text>
<line x1="157.90" y1="645.30" x2="159.50" y2="645.30" stroke="#333" stroke-width="0.5"/>
<text x="157.10" y="646.80" font-size="4.3" text-anchor="end" fill="#444" stroke="#444" stroke-width="0.08">0</text>
<line x1="165.90" y1="612.20" x2="165.90" y2="615.80" stroke="#1d4f73" stroke-width="0.5"/>
<line x1="165.00" y1="612.20" x2="166.80" y2="612.20" stroke="#1d4f73" stroke-width="0.5"/>
<line x1="165.00" y1="615.80" x2="166.80" y2="615.80" stroke="#1d4f73" stroke-width="0.5"/>
<rect x="162.60" y="613.80" width="6.60" height="1.50" fill="#2aa7df" stroke="#15608f" stroke-width="0.45"/>
<line x1="162.60" y1="614.50" x2="169.20" y2="614.50" stroke="#15608f" stroke-width="0.7"/>
<line x1="165.90" y1="645.30" x2="165.90" y2="646.80" stroke="#333" stroke-width="0.5"/>
<line x1="177.85" y1="612.50" x2="177.85" y2="623.20" stroke="#1d4f73" stroke-width="0.5"/>
<line x1="176.95" y1="612.50" x2="178.75" y2="612.50" stroke="#1d4f73" stroke-width="0.5"/>
<line x1="176.95" y1="623.20" x2="178.75" y2="623.20" stroke="#1d4f73" stroke-width="0.5"/>
<rect x="174.60" y="613.30" width="6.50" height="9.10" fill="#2aa7df" stroke="#15608f" stroke-width="0.45"/>
<line x1="174.60" y1="618.20" x2="181.10" y2="618.20" stroke="#15608f" stroke-width="0.7"/>
<line x1="177.85" y1="645.30" x2="177.85" y2="646.80" stroke="#333" stroke-width="0.5"/>
<line x1="189.85" y1="609.60" x2="189.85" y2="614.00" stroke="#1d4f73" stroke-width="0.5"/>
<line x1="188.95" y1="609.60" x2="190.75" y2="609.60" stroke="#1d4f73" stroke-width="0.5"/>
<line x1="188.95" y1="614.00" x2="190.75" y2="614.00" stroke="#1d4f73" stroke-width="0.5"/>
<rect x="186.60" y="610.40" width="6.50" height="2.80" fill="#2aa7df" stroke="#15608f" stroke-width="0.45"/>
<line x1="186.60" y1="611.90" x2="193.10" y2="611.90" stroke="#15608f" stroke-width="0.7"/>
<line x1="189.85" y1="645.30" x2="189.85" y2="646.80" stroke="#333" stroke-width="0.5"/>
<line x1="178.00" y1="605.80" x2="187.00" y2="605.80" stroke="#b0b0b0" stroke-width="0.6"/>
<text x="182.50" y="606.80" font-size="5.6" text-anchor="middle" fill="#333" stroke="#333" stroke-width="0.08" letter-spacing="-0.5">**</text>
<text x="180.50" y="592.65" font-size="4.4" text-anchor="middle" fill="#505050" stroke="#505050" stroke-width="0.08">Acetyl-CoA</text>
<text x="180.50" y="597.80" font-size="4.4" text-anchor="middle" fill="#505050" stroke="#505050" stroke-width="0.08">C-acetyltransferase</text>
<text x="167.40" y="648.30" font-size="4.1" text-anchor="end" fill="#333" stroke="#333" stroke-width="0.08" transform="rotate(-90 167.39999999999998 648.3)">None</text>
<text x="179.35" y="648.30" font-size="4.1" text-anchor="end" fill="#333" stroke="#333" stroke-width="0.08" transform="rotate(-90 179.35 648.3)">“7+3”</text>
<text x="191.35" y="648.30" font-size="4.1" text-anchor="end" fill="#333" stroke="#333" stroke-width="0.08" transform="rotate(-90 191.35 648.3)">CPX-351</text>
<line x1="206.60" y1="601.80" x2="206.60" y2="645.70" stroke="#333" stroke-width="0.8"/>
<line x1="206.20" y1="645.30" x2="243.00" y2="645.30" stroke="#333" stroke-width="0.8"/>
<line x1="205.00" y1="601.80" x2="206.60" y2="601.80" stroke="#333" stroke-width="0.5"/>
<text x="204.20" y="603.30" font-size="4.3" text-anchor="end" fill="#444" stroke="#444" stroke-width="0.08">6</text>
<line x1="205.00" y1="612.67" x2="206.60" y2="612.67" stroke="#333" stroke-width="0.5"/>
<text x="204.20" y="614.17" font-size="4.3" text-anchor="end" fill="#444" stroke="#444" stroke-width="0.08">4</text>
<line x1="205.00" y1="623.55" x2="206.60" y2="623.55" stroke="#333" stroke-width="0.5"/>
<text x="204.20" y="625.05" font-size="4.3" text-anchor="end" fill="#444" stroke="#444" stroke-width="0.08">2</text>
<line x1="205.00" y1="634.42" x2="206.60" y2="634.42" stroke="#333" stroke-width="0.5"/>
<text x="204.20" y="635.92" font-size="4.3" text-anchor="end" fill="#444" stroke="#444" stroke-width="0.08">0</text>
<line x1="205.00" y1="645.30" x2="206.60" y2="645.30" stroke="#333" stroke-width="0.5"/>
<text x="204.20" y="646.80" font-size="4.3" text-anchor="end" fill="#444" stroke="#444" stroke-width="0.08">-2</text>
<line x1="212.95" y1="614.20" x2="212.95" y2="624.50" stroke="#1d4f73" stroke-width="0.5"/>
<line x1="212.05" y1="614.20" x2="213.85" y2="614.20" stroke="#1d4f73" stroke-width="0.5"/>
<line x1="212.05" y1="624.50" x2="213.85" y2="624.50" stroke="#1d4f73" stroke-width="0.5"/>
<rect x="209.70" y="619.30" width="6.50" height="3.40" fill="#2aa7df" stroke="#15608f" stroke-width="0.45"/>
<line x1="209.70" y1="620.80" x2="216.20" y2="620.80" stroke="#15608f" stroke-width="0.7"/>
<line x1="212.95" y1="645.30" x2="212.95" y2="646.80" stroke="#333" stroke-width="0.5"/>
<line x1="224.85" y1="620.80" x2="224.85" y2="637.00" stroke="#1d4f73" stroke-width="0.5"/>
<line x1="223.95" y1="620.80" x2="225.75" y2="620.80" stroke="#1d4f73" stroke-width="0.5"/>
<line x1="223.95" y1="637.00" x2="225.75" y2="637.00" stroke="#1d4f73" stroke-width="0.5"/>
<rect x="221.50" y="623.00" width="6.70" height="13.50" fill="#2aa7df" stroke="#15608f" stroke-width="0.45"/>
<line x1="221.50" y1="629.20" x2="228.20" y2="629.20" stroke="#15608f" stroke-width="0.7"/>
<line x1="224.85" y1="645.30" x2="224.85" y2="646.80" stroke="#333" stroke-width="0.5"/>
<line x1="237.15" y1="618.80" x2="237.15" y2="622.70" stroke="#1d4f73" stroke-width="0.5"/>
<line x1="236.25" y1="618.80" x2="238.05" y2="618.80" stroke="#1d4f73" stroke-width="0.5"/>
<line x1="236.25" y1="622.70" x2="238.05" y2="622.70" stroke="#1d4f73" stroke-width="0.5"/>
<rect x="233.80" y="619.60" width="6.70" height="2.30" fill="#2aa7df" stroke="#15608f" stroke-width="0.45"/>
<line x1="233.80" y1="620.80" x2="240.50" y2="620.80" stroke="#15608f" stroke-width="0.7"/>
<line x1="237.15" y1="645.30" x2="237.15" y2="646.80" stroke="#333" stroke-width="0.5"/>
<line x1="212.30" y1="611.20" x2="223.80" y2="611.20" stroke="#b0b0b0" stroke-width="0.6"/>
<text x="218.05" y="612.20" font-size="5.6" text-anchor="middle" fill="#333" stroke="#333" stroke-width="0.08" letter-spacing="-0.5">*</text>
<line x1="225.40" y1="615.00" x2="237.70" y2="615.00" stroke="#b0b0b0" stroke-width="0.6"/>
<text x="231.55" y="616.00" font-size="5.6" text-anchor="middle" fill="#333" stroke="#333" stroke-width="0.08" letter-spacing="-0.5">*</text>
<text x="224.60" y="597.80" font-size="4.4" text-anchor="middle" fill="#505050" stroke="#505050" stroke-width="0.08">Phosphoketolase</text>
<text x="214.45" y="648.30" font-size="4.1" text-anchor="end" fill="#333" stroke="#333" stroke-width="0.08" transform="rotate(-90 214.45 648.3)">None</text>
<text x="226.35" y="648.30" font-size="4.1" text-anchor="end" fill="#333" stroke="#333" stroke-width="0.08" transform="rotate(-90 226.35 648.3)">“7+3”</text>
<text x="238.65" y="648.30" font-size="4.1" text-anchor="end" fill="#333" stroke="#333" stroke-width="0.08" transform="rotate(-90 238.65 648.3)">CPX-351</text>
<line x1="264.60" y1="601.80" x2="264.60" y2="645.70" stroke="#333" stroke-width="0.8"/>
<line x1="264.20" y1="645.30" x2="303.30" y2="645.30" stroke="#333" stroke-width="0.8"/>
<line x1="263.00" y1="601.80" x2="264.60" y2="601.80" stroke="#333" stroke-width="0.5"/>
<text x="262.20" y="603.30" font-size="4.3" text-anchor="end" fill="#444" stroke="#444" stroke-width="0.08">4</text>
<line x1="263.00" y1="616.30" x2="264.60" y2="616.30" stroke="#333" stroke-width="0.5"/>
<text x="262.20" y="617.80" font-size="4.3" text-anchor="end" fill="#444" stroke="#444" stroke-width="0.08">2</text>
<line x1="263.00" y1="630.80" x2="264.60" y2="630.80" stroke="#333" stroke-width="0.5"/>
<text x="262.20" y="632.30" font-size="4.3" text-anchor="end" fill="#444" stroke="#444" stroke-width="0.08">0</text>
<line x1="263.00" y1="645.30" x2="264.60" y2="645.30" stroke="#333" stroke-width="0.5"/>
<text x="262.20" y="646.80" font-size="4.3" text-anchor="end" fill="#444" stroke="#444" stroke-width="0.08">-2</text>
<line x1="271.15" y1="632.20" x2="271.15" y2="642.40" stroke="#1d4f73" stroke-width="0.5"/>
<line x1="270.25" y1="632.20" x2="272.05" y2="632.20" stroke="#1d4f73" stroke-width="0.5"/>
<line x1="270.25" y1="642.40" x2="272.05" y2="642.40" stroke="#1d4f73" stroke-width="0.5"/>
<rect x="267.70" y="633.20" width="6.90" height="5.20" fill="#2aa7df" stroke="#15608f" stroke-width="0.45"/>
<line x1="267.70" y1="634.20" x2="274.60" y2="634.20" stroke="#15608f" stroke-width="0.7"/>
<line x1="271.15" y1="645.30" x2="271.15" y2="646.80" stroke="#333" stroke-width="0.5"/>
<line x1="284.25" y1="622.70" x2="284.25" y2="633.20" stroke="#1d4f73" stroke-width="0.5"/>
<line x1="283.35" y1="622.70" x2="285.15" y2="622.70" stroke="#1d4f73" stroke-width="0.5"/>
<line x1="283.35" y1="633.20" x2="285.15" y2="633.20" stroke="#1d4f73" stroke-width="0.5"/>
<rect x="280.80" y="623.50" width="6.90" height="7.70" fill="#2aa7df" stroke="#15608f" stroke-width="0.45"/>
<line x1="280.80" y1="628.10" x2="287.70" y2="628.10" stroke="#15608f" stroke-width="0.7"/>
<line x1="284.25" y1="645.30" x2="284.25" y2="646.80" stroke="#333" stroke-width="0.5"/>
<line x1="297.30" y1="621.90" x2="297.30" y2="624.70" stroke="#1d4f73" stroke-width="0.5"/>
<line x1="296.40" y1="621.90" x2="298.20" y2="621.90" stroke="#1d4f73" stroke-width="0.5"/>
<line x1="296.40" y1="624.70" x2="298.20" y2="624.70" stroke="#1d4f73" stroke-width="0.5"/>
<rect x="293.80" y="622.70" width="7.00" height="1.20" fill="#2aa7df" stroke="#15608f" stroke-width="0.45"/>
<line x1="293.80" y1="623.30" x2="300.80" y2="623.30" stroke="#15608f" stroke-width="0.7"/>
<line x1="297.30" y1="645.30" x2="297.30" y2="646.80" stroke="#333" stroke-width="0.5"/>
<line x1="271.50" y1="611.20" x2="295.70" y2="611.20" stroke="#b0b0b0" stroke-width="0.6"/>
<text x="283.60" y="612.20" font-size="5.6" text-anchor="middle" fill="#333" stroke="#333" stroke-width="0.08" letter-spacing="-0.5">****</text>
<line x1="271.50" y1="619.20" x2="282.80" y2="619.20" stroke="#b0b0b0" stroke-width="0.6"/>
<text x="277.15" y="620.20" font-size="5.6" text-anchor="middle" fill="#333" stroke="#333" stroke-width="0.08" letter-spacing="-0.5">**</text>
<text x="284.30" y="597.80" font-size="4.4" text-anchor="middle" fill="#505050" stroke="#505050" stroke-width="0.08">Tryptophanase</text>
<text x="272.65" y="648.30" font-size="4.1" text-anchor="end" fill="#333" stroke="#333" stroke-width="0.08" transform="rotate(-90 272.65 648.3)">None</text>
<text x="285.75" y="648.30" font-size="4.1" text-anchor="end" fill="#333" stroke="#333" stroke-width="0.08" transform="rotate(-90 285.75 648.3)">“7+3”</text>
<text x="298.80" y="648.30" font-size="4.1" text-anchor="end" fill="#333" stroke="#333" stroke-width="0.08" transform="rotate(-90 298.8 648.3)">CPX-351</text>
<line x1="316.20" y1="601.80" x2="316.20" y2="645.70" stroke="#333" stroke-width="0.8"/>
<line x1="315.80" y1="645.30" x2="355.10" y2="645.30" stroke="#333" stroke-width="0.8"/>
<line x1="314.60" y1="601.80" x2="316.20" y2="601.80" stroke="#333" stroke-width="0.5"/>
<text x="313.80" y="603.30" font-size="4.3" text-anchor="end" fill="#444" stroke="#444" stroke-width="0.08">0</text>
<line x1="314.60" y1="610.50" x2="316.20" y2="610.50" stroke="#333" stroke-width="0.5"/>
<text x="313.80" y="612.00" font-size="4.3" text-anchor="end" fill="#444" stroke="#444" stroke-width="0.08">-2</text>
<line x1="314.60" y1="619.20" x2="316.20" y2="619.20" stroke="#333" stroke-width="0.5"/>
<text x="313.80" y="620.70" font-size="4.3" text-anchor="end" fill="#444" stroke="#444" stroke-width="0.08">-4</text>
<line x1="314.60" y1="627.90" x2="316.20" y2="627.90" stroke="#333" stroke-width="0.5"/>
<text x="313.80" y="629.40" font-size="4.3" text-anchor="end" fill="#444" stroke="#444" stroke-width="0.08">-6</text>
<line x1="314.60" y1="636.60" x2="316.20" y2="636.60" stroke="#333" stroke-width="0.5"/>
<text x="313.80" y="638.10" font-size="4.3" text-anchor="end" fill="#444" stroke="#444" stroke-width="0.08">-8</text>
<line x1="314.60" y1="645.30" x2="316.20" y2="645.30" stroke="#333" stroke-width="0.5"/>
<text x="313.80" y="646.80" font-size="4.3" text-anchor="end" fill="#444" stroke="#444" stroke-width="0.08">-10</text>
<line x1="323.45" y1="624.20" x2="323.45" y2="637.30" stroke="#1d4f73" stroke-width="0.5"/>
<line x1="322.55" y1="624.20" x2="324.35" y2="624.20" stroke="#1d4f73" stroke-width="0.5"/>
<line x1="322.55" y1="637.30" x2="324.35" y2="637.30" stroke="#1d4f73" stroke-width="0.5"/>
<rect x="320.00" y="627.00" width="6.90" height="9.80" fill="#2aa7df" stroke="#15608f" stroke-width="0.45"/>
<line x1="320.00" y1="636.20" x2="326.90" y2="636.20" stroke="#15608f" stroke-width="0.7"/>
<line x1="323.45" y1="645.30" x2="323.45" y2="646.80" stroke="#333" stroke-width="0.5"/>
<line x1="336.55" y1="619.30" x2="336.55" y2="640.40" stroke="#1d4f73" stroke-width="0.5"/>
<line x1="335.65" y1="619.30" x2="337.45" y2="619.30" stroke="#1d4f73" stroke-width="0.5"/>
<line x1="335.65" y1="640.40" x2="337.45" y2="640.40" stroke="#1d4f73" stroke-width="0.5"/>
<rect x="333.10" y="620.40" width="6.90" height="10.30" fill="#2aa7df" stroke="#15608f" stroke-width="0.45"/>
<line x1="333.10" y1="624.20" x2="340.00" y2="624.20" stroke="#15608f" stroke-width="0.7"/>
<line x1="336.55" y1="645.30" x2="336.55" y2="646.80" stroke="#333" stroke-width="0.5"/>
<line x1="349.20" y1="624.20" x2="349.20" y2="636.80" stroke="#1d4f73" stroke-width="0.5"/>
<line x1="348.30" y1="624.20" x2="350.10" y2="624.20" stroke="#1d4f73" stroke-width="0.5"/>
<line x1="348.30" y1="636.80" x2="350.10" y2="636.80" stroke="#1d4f73" stroke-width="0.5"/>
<rect x="345.80" y="627.00" width="6.80" height="7.20" fill="#2aa7df" stroke="#15608f" stroke-width="0.45"/>
<line x1="345.80" y1="630.10" x2="352.60" y2="630.10" stroke="#15608f" stroke-width="0.7"/>
<line x1="349.20" y1="645.30" x2="349.20" y2="646.80" stroke="#333" stroke-width="0.5"/>
<text x="336.20" y="597.80" font-size="4.4" text-anchor="middle" fill="#505050" stroke="#505050" stroke-width="0.08">Kynureninase</text>
<text x="324.95" y="648.30" font-size="4.1" text-anchor="end" fill="#333" stroke="#333" stroke-width="0.08" transform="rotate(-90 324.95 648.3)">None</text>
<text x="338.05" y="648.30" font-size="4.1" text-anchor="end" fill="#333" stroke="#333" stroke-width="0.08" transform="rotate(-90 338.05 648.3)">“7+3”</text>
<text x="350.70" y="648.30" font-size="4.1" text-anchor="end" fill="#333" stroke="#333" stroke-width="0.08" transform="rotate(-90 350.70000000000005 648.3)">CPX-351</text>
<line x1="369.20" y1="601.80" x2="369.20" y2="645.70" stroke="#333" stroke-width="0.8"/>
<line x1="368.80" y1="645.30" x2="407.90" y2="645.30" stroke="#333" stroke-width="0.8"/>
<line x1="367.60" y1="601.80" x2="369.20" y2="601.80" stroke="#333" stroke-width="0.5"/>
<text x="366.80" y="603.30" font-size="4.3" text-anchor="end" fill="#444" stroke="#444" stroke-width="0.08">6</text>
<line x1="367.60" y1="612.67" x2="369.20" y2="612.67" stroke="#333" stroke-width="0.5"/>
<text x="366.80" y="614.17" font-size="4.3" text-anchor="end" fill="#444" stroke="#444" stroke-width="0.08">3</text>
<line x1="367.60" y1="623.55" x2="369.20" y2="623.55" stroke="#333" stroke-width="0.5"/>
<text x="366.80" y="625.05" font-size="4.3" text-anchor="end" fill="#444" stroke="#444" stroke-width="0.08">0</text>
<line x1="367.60" y1="634.42" x2="369.20" y2="634.42" stroke="#333" stroke-width="0.5"/>
<text x="366.80" y="635.92" font-size="4.3" text-anchor="end" fill="#444" stroke="#444" stroke-width="0.08">-3</text>
<line x1="367.60" y1="645.30" x2="369.20" y2="645.30" stroke="#333" stroke-width="0.5"/>
<text x="366.80" y="646.80" font-size="4.3" text-anchor="end" fill="#444" stroke="#444" stroke-width="0.08">-6</text>
<line x1="375.90" y1="620.80" x2="375.90" y2="638.20" stroke="#1d4f73" stroke-width="0.5"/>
<line x1="375.00" y1="620.80" x2="376.80" y2="620.80" stroke="#1d4f73" stroke-width="0.5"/>
<line x1="375.00" y1="638.20" x2="376.80" y2="638.20" stroke="#1d4f73" stroke-width="0.5"/>
<rect x="372.30" y="623.40" width="7.20" height="9.70" fill="#2aa7df" stroke="#15608f" stroke-width="0.45"/>
<line x1="372.30" y1="627.70" x2="379.50" y2="627.70" stroke="#15608f" stroke-width="0.7"/>
<line x1="375.90" y1="645.30" x2="375.90" y2="646.80" stroke="#333" stroke-width="0.5"/>
<line x1="388.70" y1="618.90" x2="388.70" y2="621.70" stroke="#1d4f73" stroke-width="0.5"/>
<line x1="387.80" y1="618.90" x2="389.60" y2="618.90" stroke="#1d4f73" stroke-width="0.5"/>
<line x1="387.80" y1="621.70" x2="389.60" y2="621.70" stroke="#1d4f73" stroke-width="0.5"/>
<rect x="385.10" y="619.70" width="7.20" height="1.20" fill="#2aa7df" stroke="#15608f" stroke-width="0.45"/>
<line x1="385.10" y1="620.30" x2="392.30" y2="620.30" stroke="#15608f" stroke-width="0.7"/>
<line x1="388.70" y1="645.30" x2="388.70" y2="646.80" stroke="#333" stroke-width="0.5"/>
<line x1="401.80" y1="616.20" x2="401.80" y2="620.50" stroke="#1d4f73" stroke-width="0.5"/>
<line x1="400.90" y1="616.20" x2="402.70" y2="616.20" stroke="#1d4f73" stroke-width="0.5"/>
<line x1="400.90" y1="620.50" x2="402.70" y2="620.50" stroke="#1d4f73" stroke-width="0.5"/>
<rect x="398.20" y="617.70" width="7.20" height="2.30" fill="#2aa7df" stroke="#15608f" stroke-width="0.45"/>
<line x1="398.20" y1="618.80" x2="405.40" y2="618.80" stroke="#15608f" stroke-width="0.7"/>
<line x1="401.80" y1="645.30" x2="401.80" y2="646.80" stroke="#333" stroke-width="0.5"/>
<line x1="375.80" y1="612.80" x2="400.00" y2="612.80" stroke="#b0b0b0" stroke-width="0.6"/>
<text x="387.90" y="613.80" font-size="5.6" text-anchor="middle" fill="#333" stroke="#333" stroke-width="0.08" letter-spacing="-0.5">**</text>
<text x="389.20" y="592.65" font-size="4.4" text-anchor="middle" fill="#505050" stroke="#505050" stroke-width="0.08">Aromatic amino acid</text>
<text x="389.20" y="597.80" font-size="4.4" text-anchor="middle" fill="#505050" stroke="#505050" stroke-width="0.08">transaminase</text>
<text x="377.40" y="648.30" font-size="4.1" text-anchor="end" fill="#333" stroke="#333" stroke-width="0.08" transform="rotate(-90 377.4 648.3)">None</text>
<text x="390.20" y="648.30" font-size="4.1" text-anchor="end" fill="#333" stroke="#333" stroke-width="0.08" transform="rotate(-90 390.20000000000005 648.3)">“7+3”</text>
<text x="403.30" y="648.30" font-size="4.1" text-anchor="end" fill="#333" stroke="#333" stroke-width="0.08" transform="rotate(-90 403.29999999999995 648.3)">CPX-351</text>
<line x1="422.50" y1="601.80" x2="422.50" y2="645.70" stroke="#333" stroke-width="0.8"/>
<line x1="422.10" y1="645.30" x2="462.30" y2="645.30" stroke="#333" stroke-width="0.8"/>
<line x1="420.90" y1="601.80" x2="422.50" y2="601.80" stroke="#333" stroke-width="0.5"/>
<text x="420.10" y="603.30" font-size="4.3" text-anchor="end" fill="#444" stroke="#444" stroke-width="0.08">6</text>
<line x1="420.90" y1="616.30" x2="422.50" y2="616.30" stroke="#333" stroke-width="0.5"/>
<text x="420.10" y="617.80" font-size="4.3" text-anchor="end" fill="#444" stroke="#444" stroke-width="0.08">3</text>
<line x1="420.90" y1="630.80" x2="422.50" y2="630.80" stroke="#333" stroke-width="0.5"/>
<text x="420.10" y="632.30" font-size="4.3" text-anchor="end" fill="#444" stroke="#444" stroke-width="0.08">0</text>
<line x1="420.90" y1="645.30" x2="422.50" y2="645.30" stroke="#333" stroke-width="0.5"/>
<text x="420.10" y="646.80" font-size="4.3" text-anchor="end" fill="#444" stroke="#444" stroke-width="0.08">-3</text>
<line x1="429.65" y1="613.20" x2="429.65" y2="622.00" stroke="#1d4f73" stroke-width="0.5"/>
<line x1="428.75" y1="613.20" x2="430.55" y2="613.20" stroke="#1d4f73" stroke-width="0.5"/>
<line x1="428.75" y1="622.00" x2="430.55" y2="622.00" stroke="#1d4f73" stroke-width="0.5"/>
<rect x="425.90" y="618.90" width="7.50" height="2.60" fill="#2aa7df" stroke="#15608f" stroke-width="0.45"/>
<line x1="425.90" y1="620.20" x2="433.40" y2="620.20" stroke="#15608f" stroke-width="0.7"/>
<line x1="429.65" y1="645.30" x2="429.65" y2="646.80" stroke="#333" stroke-width="0.5"/>
<line x1="442.70" y1="620.70" x2="442.70" y2="623.70" stroke="#1d4f73" stroke-width="0.5"/>
<line x1="441.80" y1="620.70" x2="443.60" y2="620.70" stroke="#1d4f73" stroke-width="0.5"/>
<line x1="441.80" y1="623.70" x2="443.60" y2="623.70" stroke="#1d4f73" stroke-width="0.5"/>
<rect x="439.10" y="621.50" width="7.20" height="1.40" fill="#2aa7df" stroke="#15608f" stroke-width="0.45"/>
<line x1="439.10" y1="622.20" x2="446.30" y2="622.20" stroke="#15608f" stroke-width="0.7"/>
<line x1="442.70" y1="645.30" x2="442.70" y2="646.80" stroke="#333" stroke-width="0.5"/>
<line x1="456.10" y1="616.40" x2="456.10" y2="619.70" stroke="#1d4f73" stroke-width="0.5"/>
<line x1="455.20" y1="616.40" x2="457.00" y2="616.40" stroke="#1d4f73" stroke-width="0.5"/>
<line x1="455.20" y1="619.70" x2="457.00" y2="619.70" stroke="#1d4f73" stroke-width="0.5"/>
<rect x="452.40" y="617.20" width="7.40" height="1.70" fill="#2aa7df" stroke="#15608f" stroke-width="0.45"/>
<line x1="452.40" y1="618.00" x2="459.80" y2="618.00" stroke="#15608f" stroke-width="0.7"/>
<line x1="456.10" y1="645.30" x2="456.10" y2="646.80" stroke="#333" stroke-width="0.5"/>
<line x1="443.20" y1="613.70" x2="455.30" y2="613.70" stroke="#b0b0b0" stroke-width="0.6"/>
<text x="449.25" y="614.70" font-size="5.6" text-anchor="middle" fill="#333" stroke="#333" stroke-width="0.08" letter-spacing="-0.5">***</text>
<text x="442.90" y="592.65" font-size="4.4" text-anchor="middle" fill="#505050" stroke="#505050" stroke-width="0.08">Glutamate</text>
<text x="442.90" y="597.80" font-size="4.4" text-anchor="middle" fill="#505050" stroke="#505050" stroke-width="0.08">decarboxylase</text>
<text x="431.15" y="648.30" font-size="4.1" text-anchor="end" fill="#333" stroke="#333" stroke-width="0.08" transform="rotate(-90 431.15 648.3)">None</text>
<text x="444.20" y="648.30" font-size="4.1" text-anchor="end" fill="#333" stroke="#333" stroke-width="0.08" transform="rotate(-90 444.20000000000005 648.3)">“7+3”</text>
<text x="457.60" y="648.30" font-size="4.1" text-anchor="end" fill="#333" stroke="#333" stroke-width="0.08" transform="rotate(-90 457.6 648.3)">CPX-351</text>
<circle cx="484.90" cy="619.20" r="2.3" fill="#c8175e"/>
<text x="488.80" y="620.70" font-size="4.3" text-anchor="start" fill="#333" stroke="#333" stroke-width="0.08" textLength="15.4" lengthAdjust="spacingAndGlyphs">Pathway</text>
<circle cx="484.90" cy="626.50" r="2.3" fill="#2f86bd"/>
<text x="488.80" y="628.00" font-size="4.3" text-anchor="start" fill="#333" stroke="#333" stroke-width="0.08" textLength="14.6" lengthAdjust="spacingAndGlyphs">Enzyme</text>
<rect x="0.5" y="0.5" width="519" height="671" fill="none" stroke="#585858" stroke-width="1"/>
</svg>
</body></html>
